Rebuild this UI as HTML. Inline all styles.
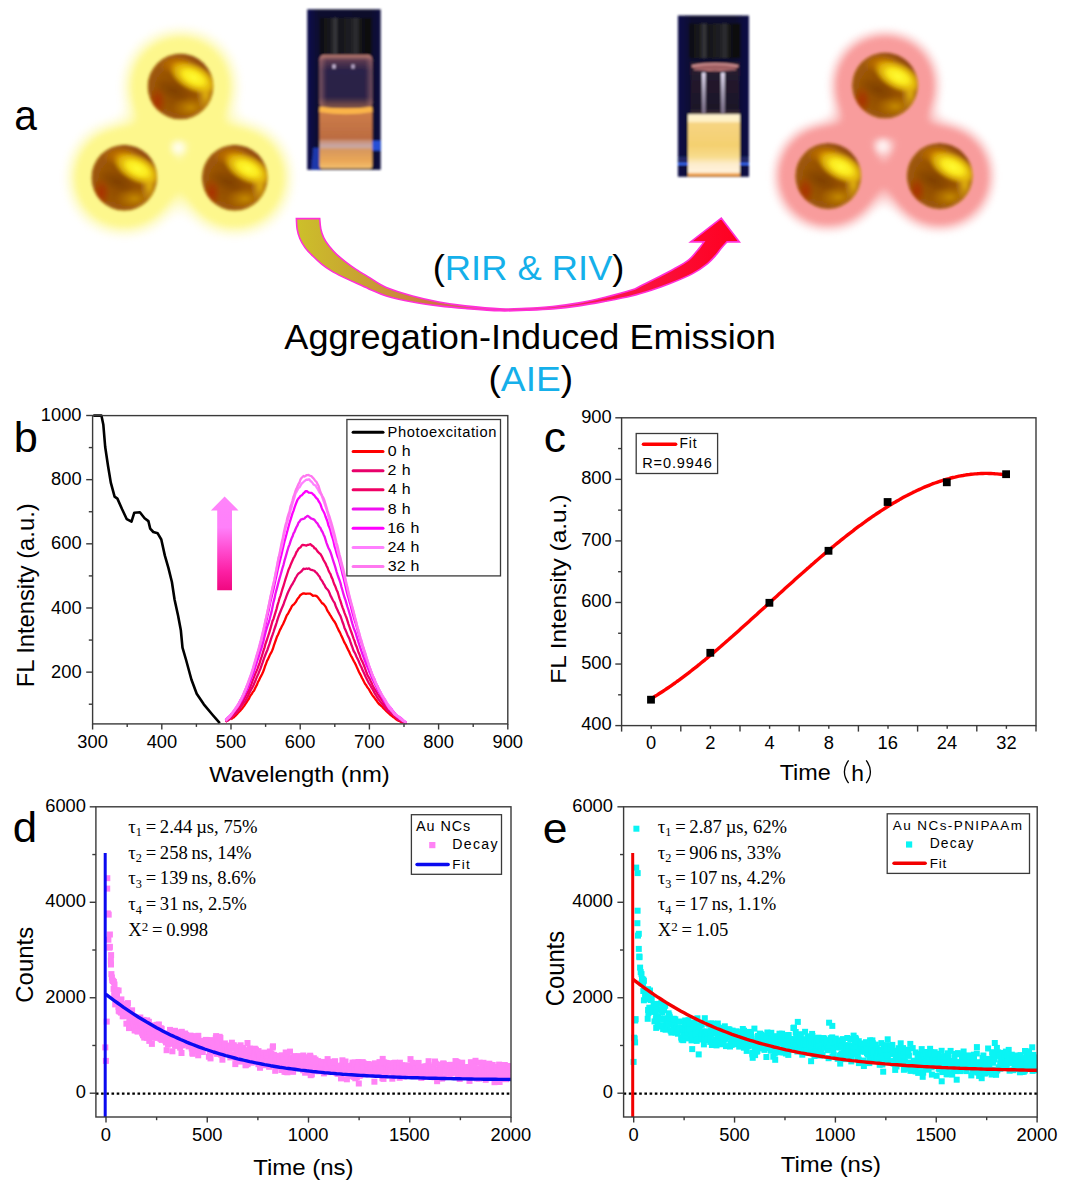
<!DOCTYPE html>
<html><head><meta charset="utf-8"><style>
html,body{margin:0;padding:0;background:#fff;overflow:hidden;}
svg{display:block;}
</style></head><body>
<svg width="1065" height="1185" viewBox="0 0 1065 1185">
<path d="M93.3,415.6 L101.4,415.6 L103.3,424.4 L105.2,447.0 L108.0,465.7 L110.8,482.6 L114.6,496.7 L117.4,498.6 L122.0,509.0 L126.8,519.2 L131.5,521.7 L134.3,512.7 L139.9,512.3 L144.6,518.3 L148.4,521.1 L150.2,528.6 L153.3,532.0 L157.7,533.3 L161.3,539.5 L164.8,555.4 L168.4,567.9 L171.9,582.0 L174.6,599.8 L178.1,615.7 L180.8,629.9 L182.5,647.6 L186.1,660.0 L191.4,679.5 L196.7,693.7 L203.8,704.3 L212.7,715.0 L219.8,723.2" fill="none" stroke="#000" stroke-width="2.6" stroke-linejoin="round"/>
<path d="M231.0,719.4 L232.0,718.5 L233.0,717.7 L234.0,717.2 L235.0,716.1 L236.0,715.1 L237.0,714.2 L238.0,712.9 L239.0,711.9 L240.0,711.0 L241.0,709.7 L242.0,708.7 L243.0,707.4 L244.0,706.1 L245.0,704.6 L246.0,703.2 L247.0,701.6 L248.0,700.0 L249.0,698.6 L250.0,696.3 L251.0,694.9 L252.0,693.5 L253.0,691.7 L254.0,690.7 L255.0,688.6 L256.0,686.5 L257.0,684.6 L258.0,681.8 L259.0,680.3 L260.0,678.0 L261.0,676.1 L262.0,674.3 L263.0,672.0 L264.0,669.5 L265.0,666.3 L266.0,663.9 L267.0,661.0 L268.0,659.1 L269.0,656.9 L270.0,654.6 L271.0,652.9 L272.0,650.9 L273.0,648.5 L274.0,645.2 L275.0,642.3 L276.0,639.5 L277.0,636.6 L278.0,634.8 L279.0,632.4 L280.0,629.9 L281.0,628.1 L282.0,626.0 L283.0,624.2 L284.0,622.0 L285.0,619.8 L286.0,617.3 L287.0,614.9 L288.0,613.7 L289.0,611.8 L290.0,609.9 L291.0,608.1 L292.0,606.1 L293.0,604.9 L294.0,604.3 L295.0,602.9 L296.0,601.8 L297.0,599.7 L298.0,598.3 L299.0,597.2 L300.0,595.5 L301.0,594.7 L302.0,594.1 L303.0,593.5 L304.0,593.3 L305.0,593.6 L306.0,593.9 L307.0,593.7 L308.0,593.7 L309.0,593.7 L310.0,593.6 L311.0,594.2 L312.0,595.0 L313.0,595.8 L314.0,595.6 L315.0,595.6 L316.0,595.9 L317.0,596.4 L318.0,597.5 L319.0,598.9 L320.0,600.2 L321.0,601.7 L322.0,603.1 L323.0,603.6 L324.0,604.6 L325.0,605.9 L326.0,607.4 L327.0,609.9 L328.0,611.6 L329.0,613.0 L330.0,614.9 L331.0,616.2 L332.0,618.2 L333.0,619.7 L334.0,621.0 L335.0,622.5 L336.0,624.4 L337.0,626.8 L338.0,628.7 L339.0,630.9 L340.0,632.6 L341.0,634.9 L342.0,637.0 L343.0,639.3 L344.0,641.6 L345.0,643.5 L346.0,645.2 L347.0,647.4 L348.0,649.6 L349.0,651.3 L350.0,653.8 L351.0,655.8 L352.0,657.4 L353.0,659.5 L354.0,661.5 L355.0,663.2 L356.0,665.3 L357.0,667.6 L358.0,669.7 L359.0,672.0 L360.0,673.9 L361.0,675.8 L362.0,678.0 L363.0,679.7 L364.0,681.8 L365.0,683.7 L366.0,684.9 L367.0,686.8 L368.0,688.1 L369.0,689.4 L370.0,691.3 L371.0,692.9 L372.0,694.6 L373.0,696.0 L374.0,697.3 L375.0,698.6 L376.0,700.1 L377.0,701.3 L378.0,702.8 L379.0,704.0 L380.0,704.8 L381.0,705.8 L382.0,706.4 L383.0,707.7 L384.0,708.8 L385.0,709.8 L386.0,710.8 L387.0,711.7 L388.0,712.7 L389.0,713.5 L390.0,714.6 L391.0,715.3 L392.0,716.0 L393.0,717.0 L394.0,717.5 L395.0,718.4 L396.0,719.2 L397.0,719.9 L398.0,720.5 L399.0,721.0 L400.0,721.3 L401.0,721.9 L402.0,722.4 L403.0,722.7" fill="none" stroke="#ff0000" stroke-width="2.3" stroke-linejoin="round"/>
<path d="M225.5,721.7 L226.5,721.0 L227.5,720.6 L228.5,720.1 L229.5,719.4 L230.5,718.6 L231.5,717.4 L232.5,716.3 L233.5,715.6 L234.5,714.4 L235.5,713.6 L236.5,712.8 L237.5,711.3 L238.5,710.5 L239.5,709.0 L240.5,707.3 L241.5,706.2 L242.5,704.7 L243.5,703.2 L244.5,702.0 L245.5,700.6 L246.5,698.7 L247.5,697.0 L248.5,694.9 L249.5,692.6 L250.5,690.7 L251.5,688.9 L252.5,687.1 L253.5,685.2 L254.5,682.8 L255.5,680.6 L256.5,677.9 L257.5,675.6 L258.5,673.5 L259.5,670.9 L260.5,668.5 L261.5,665.7 L262.5,662.9 L263.5,659.8 L264.5,657.1 L265.5,654.5 L266.5,652.0 L267.5,649.7 L268.5,646.6 L269.5,643.9 L270.5,640.7 L271.5,637.6 L272.5,634.9 L273.5,632.0 L274.5,628.8 L275.5,626.0 L276.5,623.0 L277.5,619.6 L278.5,616.7 L279.5,614.0 L280.5,611.5 L281.5,609.0 L282.5,606.7 L283.5,604.5 L284.5,601.4 L285.5,598.9 L286.5,596.2 L287.5,593.5 L288.5,591.2 L289.5,589.2 L290.5,587.3 L291.5,585.4 L292.5,584.0 L293.5,582.0 L294.5,580.3 L295.5,578.1 L296.5,576.5 L297.5,574.7 L298.5,573.6 L299.5,573.0 L300.5,572.0 L301.5,571.3 L302.5,570.0 L303.5,568.7 L304.5,569.0 L305.5,568.8 L306.5,568.5 L307.5,568.8 L308.5,568.5 L309.5,568.7 L310.5,569.7 L311.5,569.9 L312.5,570.2 L313.5,570.5 L314.5,570.8 L315.5,572.1 L316.5,572.8 L317.5,574.0 L318.5,575.4 L319.5,576.5 L320.5,578.8 L321.5,580.2 L322.5,581.6 L323.5,583.7 L324.5,585.1 L325.5,587.2 L326.5,588.5 L327.5,589.6 L328.5,590.7 L329.5,592.9 L330.5,595.7 L331.5,597.4 L332.5,599.5 L333.5,601.3 L334.5,602.7 L335.5,605.5 L336.5,608.1 L337.5,610.1 L338.5,612.3 L339.5,614.3 L340.5,616.1 L341.5,619.0 L342.5,622.0 L343.5,624.5 L344.5,627.9 L345.5,630.1 L346.5,632.4 L347.5,634.9 L348.5,636.9 L349.5,639.1 L350.5,642.2 L351.5,645.0 L352.5,647.6 L353.5,650.6 L354.5,652.3 L355.5,654.3 L356.5,656.7 L357.5,658.8 L358.5,660.8 L359.5,663.2 L360.5,665.5 L361.5,667.4 L362.5,670.1 L363.5,672.1 L364.5,674.2 L365.5,676.5 L366.5,678.6 L367.5,680.6 L368.5,682.6 L369.5,684.0 L370.5,685.8 L371.5,687.6 L372.5,689.1 L373.5,691.0 L374.5,692.9 L375.5,694.7 L376.5,696.2 L377.5,698.0 L378.5,699.3 L379.5,700.7 L380.5,702.1 L381.5,703.2 L382.5,704.3 L383.5,705.5 L384.5,706.9 L385.5,708.1 L386.5,709.6 L387.5,710.6 L388.5,711.4 L389.5,712.2 L390.5,712.7 L391.5,713.7 L392.5,714.3 L393.5,715.0 L394.5,716.0 L395.5,717.0 L396.5,718.1 L397.5,719.0 L398.5,719.9 L399.5,720.2 L400.5,720.9 L401.5,721.5 L402.5,721.8 L403.5,722.2 L404.5,722.7 L405.5,723.0 L406.5,723.0" fill="none" stroke="#e8006a" stroke-width="2.3" stroke-linejoin="round"/>
<path d="M225.5,721.5 L226.5,720.8 L227.5,719.6 L228.5,718.8 L229.5,717.9 L230.5,717.2 L231.5,716.4 L232.5,715.4 L233.5,714.1 L234.5,712.6 L235.5,711.6 L236.5,710.4 L237.5,709.3 L238.5,708.6 L239.5,707.4 L240.5,705.9 L241.5,704.2 L242.5,702.0 L243.5,700.1 L244.5,698.3 L245.5,696.3 L246.5,694.6 L247.5,692.6 L248.5,690.9 L249.5,688.7 L250.5,686.3 L251.5,683.9 L252.5,680.8 L253.5,678.4 L254.5,675.8 L255.5,673.2 L256.5,671.2 L257.5,668.6 L258.5,665.8 L259.5,663.5 L260.5,659.9 L261.5,657.2 L262.5,654.0 L263.5,650.6 L264.5,647.6 L265.5,643.8 L266.5,641.0 L267.5,638.0 L268.5,635.0 L269.5,631.8 L270.5,628.4 L271.5,624.7 L272.5,621.1 L273.5,618.9 L274.5,615.6 L275.5,612.4 L276.5,609.1 L277.5,605.1 L278.5,602.0 L279.5,598.3 L280.5,595.6 L281.5,592.2 L282.5,588.9 L283.5,585.8 L284.5,582.5 L285.5,579.2 L286.5,576.1 L287.5,573.0 L288.5,569.8 L289.5,567.8 L290.5,565.1 L291.5,562.7 L292.5,560.5 L293.5,558.2 L294.5,556.6 L295.5,554.5 L296.5,552.0 L297.5,550.6 L298.5,548.8 L299.5,547.9 L300.5,547.3 L301.5,545.8 L302.5,544.8 L303.5,545.0 L304.5,545.1 L305.5,545.3 L306.5,545.6 L307.5,544.8 L308.5,544.9 L309.5,544.5 L310.5,544.1 L311.5,545.4 L312.5,545.9 L313.5,546.7 L314.5,548.3 L315.5,548.3 L316.5,549.8 L317.5,551.4 L318.5,552.4 L319.5,553.3 L320.5,554.2 L321.5,555.8 L322.5,557.7 L323.5,560.0 L324.5,561.7 L325.5,563.3 L326.5,565.7 L327.5,567.6 L328.5,570.5 L329.5,572.5 L330.5,574.2 L331.5,577.1 L332.5,579.0 L333.5,582.2 L334.5,584.8 L335.5,586.8 L336.5,589.7 L337.5,591.7 L338.5,595.0 L339.5,598.3 L340.5,601.2 L341.5,604.4 L342.5,607.3 L343.5,609.9 L344.5,612.8 L345.5,615.4 L346.5,617.8 L347.5,620.9 L348.5,624.1 L349.5,627.0 L350.5,629.8 L351.5,632.5 L352.5,635.3 L353.5,638.3 L354.5,640.9 L355.5,644.2 L356.5,646.4 L357.5,649.3 L358.5,652.5 L359.5,654.5 L360.5,657.6 L361.5,660.0 L362.5,661.9 L363.5,664.4 L364.5,666.8 L365.5,669.6 L366.5,672.5 L367.5,675.2 L368.5,676.8 L369.5,678.6 L370.5,680.7 L371.5,682.6 L372.5,685.2 L373.5,687.1 L374.5,689.0 L375.5,690.3 L376.5,692.0 L377.5,693.8 L378.5,695.2 L379.5,696.8 L380.5,698.0 L381.5,699.5 L382.5,701.0 L383.5,702.6 L384.5,704.1 L385.5,705.3 L386.5,706.7 L387.5,708.2 L388.5,709.4 L389.5,710.7 L390.5,711.4 L391.5,712.3 L392.5,713.4 L393.5,714.2 L394.5,715.4 L395.5,716.2 L396.5,716.8 L397.5,717.7 L398.5,718.6 L399.5,719.3 L400.5,720.1 L401.5,720.5 L402.5,720.9 L403.5,721.5 L404.5,722.0 L405.5,722.6 L406.5,723.0" fill="none" stroke="#f00064" stroke-width="2.3" stroke-linejoin="round"/>
<path d="M225.5,720.6 L226.5,719.8 L227.5,718.8 L228.5,717.8 L229.5,717.1 L230.5,715.9 L231.5,714.7 L232.5,713.5 L233.5,712.0 L234.5,711.0 L235.5,709.6 L236.5,708.4 L237.5,706.9 L238.5,705.5 L239.5,703.8 L240.5,702.2 L241.5,700.7 L242.5,698.7 L243.5,696.8 L244.5,694.6 L245.5,692.6 L246.5,690.6 L247.5,688.6 L248.5,686.0 L249.5,683.2 L250.5,680.4 L251.5,677.6 L252.5,675.4 L253.5,672.5 L254.5,669.6 L255.5,666.5 L256.5,663.4 L257.5,660.2 L258.5,657.5 L259.5,654.2 L260.5,651.0 L261.5,648.2 L262.5,644.4 L263.5,641.0 L264.5,636.6 L265.5,632.8 L266.5,629.2 L267.5,625.8 L268.5,623.2 L269.5,619.8 L270.5,615.8 L271.5,611.9 L272.5,607.1 L273.5,602.1 L274.5,598.4 L275.5,593.5 L276.5,589.9 L277.5,586.1 L278.5,582.2 L279.5,578.6 L280.5,575.2 L281.5,571.6 L282.5,568.0 L283.5,564.8 L284.5,560.7 L285.5,557.4 L286.5,553.9 L287.5,550.3 L288.5,547.0 L289.5,544.6 L290.5,541.4 L291.5,538.6 L292.5,536.6 L293.5,533.4 L294.5,531.8 L295.5,529.3 L296.5,527.0 L297.5,525.3 L298.5,522.6 L299.5,521.7 L300.5,520.0 L301.5,519.3 L302.5,519.0 L303.5,518.8 L304.5,518.5 L305.5,517.3 L306.5,516.7 L307.5,515.8 L308.5,516.2 L309.5,517.3 L310.5,518.0 L311.5,518.7 L312.5,518.9 L313.5,519.4 L314.5,519.9 L315.5,521.3 L316.5,522.7 L317.5,523.5 L318.5,525.5 L319.5,527.0 L320.5,528.1 L321.5,530.5 L322.5,532.0 L323.5,534.4 L324.5,536.4 L325.5,539.7 L326.5,542.8 L327.5,545.5 L328.5,548.2 L329.5,549.8 L330.5,552.2 L331.5,555.2 L332.5,558.5 L333.5,561.6 L334.5,564.7 L335.5,567.9 L336.5,571.5 L337.5,574.7 L338.5,577.5 L339.5,580.2 L340.5,583.1 L341.5,587.1 L342.5,590.5 L343.5,594.2 L344.5,597.5 L345.5,600.1 L346.5,603.6 L347.5,607.0 L348.5,610.0 L349.5,613.4 L350.5,616.7 L351.5,620.6 L352.5,624.1 L353.5,627.3 L354.5,630.0 L355.5,632.5 L356.5,635.8 L357.5,639.2 L358.5,642.3 L359.5,645.4 L360.5,648.3 L361.5,651.3 L362.5,654.3 L363.5,657.2 L364.5,659.8 L365.5,662.4 L366.5,665.2 L367.5,667.2 L368.5,669.6 L369.5,672.3 L370.5,674.4 L371.5,676.8 L372.5,679.3 L373.5,680.9 L374.5,683.2 L375.5,685.2 L376.5,687.2 L377.5,689.6 L378.5,691.3 L379.5,693.0 L380.5,694.5 L381.5,695.9 L382.5,697.9 L383.5,700.1 L384.5,701.8 L385.5,703.1 L386.5,704.7 L387.5,706.0 L388.5,707.5 L389.5,709.0 L390.5,709.7 L391.5,711.0 L392.5,711.9 L393.5,712.7 L394.5,713.9 L395.5,714.8 L396.5,715.8 L397.5,717.1 L398.5,717.8 L399.5,718.5 L400.5,719.0 L401.5,719.4 L402.5,720.2 L403.5,720.8 L404.5,721.4 L405.5,722.1 L406.5,722.5" fill="none" stroke="#f010f0" stroke-width="2.3" stroke-linejoin="round"/>
<path d="M225.5,719.9 L226.5,718.8 L227.5,718.0 L228.5,716.9 L229.5,716.1 L230.5,715.0 L231.5,713.8 L232.5,713.0 L233.5,711.6 L234.5,710.2 L235.5,708.7 L236.5,707.2 L237.5,705.6 L238.5,703.9 L239.5,702.0 L240.5,700.0 L241.5,698.3 L242.5,696.4 L243.5,694.2 L244.5,691.8 L245.5,689.5 L246.5,687.1 L247.5,685.0 L248.5,682.7 L249.5,680.1 L250.5,677.1 L251.5,674.0 L252.5,671.4 L253.5,668.0 L254.5,664.8 L255.5,661.5 L256.5,657.7 L257.5,654.2 L258.5,650.6 L259.5,647.2 L260.5,643.2 L261.5,639.7 L262.5,636.0 L263.5,632.2 L264.5,628.5 L265.5,624.6 L266.5,620.4 L267.5,615.5 L268.5,611.2 L269.5,606.2 L270.5,601.6 L271.5,597.4 L272.5,593.1 L273.5,589.2 L274.5,584.6 L275.5,580.0 L276.5,575.6 L277.5,570.7 L278.5,566.5 L279.5,562.4 L280.5,558.5 L281.5,554.4 L282.5,550.1 L283.5,545.8 L284.5,541.4 L285.5,537.9 L286.5,534.3 L287.5,530.5 L288.5,526.8 L289.5,523.0 L290.5,519.8 L291.5,516.6 L292.5,513.4 L293.5,510.8 L294.5,507.6 L295.5,504.8 L296.5,502.3 L297.5,499.8 L298.5,498.3 L299.5,497.4 L300.5,495.9 L301.5,495.5 L302.5,494.4 L303.5,493.2 L304.5,492.5 L305.5,491.1 L306.5,491.1 L307.5,491.6 L308.5,492.5 L309.5,492.7 L310.5,492.8 L311.5,492.9 L312.5,493.7 L313.5,494.8 L314.5,495.5 L315.5,497.1 L316.5,498.3 L317.5,499.0 L318.5,501.0 L319.5,502.5 L320.5,504.3 L321.5,507.4 L322.5,509.9 L323.5,511.5 L324.5,513.5 L325.5,516.5 L326.5,519.0 L327.5,521.6 L328.5,525.6 L329.5,527.8 L330.5,530.7 L331.5,534.9 L332.5,537.8 L333.5,541.3 L334.5,546.1 L335.5,549.2 L336.5,553.0 L337.5,556.2 L338.5,558.4 L339.5,561.9 L340.5,565.7 L341.5,569.7 L342.5,574.1 L343.5,577.8 L344.5,581.9 L345.5,586.3 L346.5,590.8 L347.5,594.8 L348.5,598.0 L349.5,601.6 L350.5,604.9 L351.5,609.0 L352.5,613.0 L353.5,616.5 L354.5,620.0 L355.5,623.0 L356.5,626.2 L357.5,629.8 L358.5,633.2 L359.5,636.7 L360.5,640.0 L361.5,642.9 L362.5,645.8 L363.5,648.8 L364.5,652.4 L365.5,655.7 L366.5,659.2 L367.5,662.3 L368.5,664.9 L369.5,667.6 L370.5,670.1 L371.5,672.6 L372.5,675.1 L373.5,677.5 L374.5,679.4 L375.5,682.1 L376.5,684.5 L377.5,686.1 L378.5,688.5 L379.5,690.4 L380.5,692.2 L381.5,694.6 L382.5,696.2 L383.5,697.7 L384.5,699.1 L385.5,700.8 L386.5,702.7 L387.5,704.3 L388.5,705.5 L389.5,706.7 L390.5,707.8 L391.5,708.9 L392.5,710.4 L393.5,711.7 L394.5,712.9 L395.5,714.1 L396.5,715.0 L397.5,716.0 L398.5,716.6 L399.5,717.2 L400.5,717.8 L401.5,718.6 L402.5,719.5 L403.5,720.5 L404.5,721.4 L405.5,722.0 L406.5,722.4" fill="none" stroke="#ff00ff" stroke-width="2.3" stroke-linejoin="round"/>
<path d="M225.5,719.8 L226.5,719.1 L227.5,718.2 L228.5,717.5 L229.5,716.6 L230.5,715.3 L231.5,713.9 L232.5,712.4 L233.5,711.0 L234.5,709.6 L235.5,708.2 L236.5,706.7 L237.5,705.3 L238.5,704.0 L239.5,702.4 L240.5,700.3 L241.5,698.4 L242.5,696.1 L243.5,693.8 L244.5,691.8 L245.5,689.4 L246.5,686.5 L247.5,684.0 L248.5,681.2 L249.5,678.4 L250.5,675.7 L251.5,672.8 L252.5,669.7 L253.5,666.0 L254.5,662.6 L255.5,659.2 L256.5,655.6 L257.5,652.6 L258.5,649.0 L259.5,645.0 L260.5,641.4 L261.5,637.3 L262.5,633.4 L263.5,629.8 L264.5,625.3 L265.5,620.6 L266.5,616.5 L267.5,611.7 L268.5,606.9 L269.5,602.1 L270.5,596.8 L271.5,592.2 L272.5,588.0 L273.5,583.8 L274.5,579.3 L275.5,573.6 L276.5,568.3 L277.5,562.9 L278.5,557.9 L279.5,554.8 L280.5,550.8 L281.5,547.1 L282.5,542.7 L283.5,537.0 L284.5,532.9 L285.5,528.5 L286.5,524.7 L287.5,521.6 L288.5,517.8 L289.5,514.4 L290.5,510.7 L291.5,507.5 L292.5,503.5 L293.5,500.1 L294.5,497.3 L295.5,493.5 L296.5,491.8 L297.5,489.9 L298.5,488.0 L299.5,487.3 L300.5,485.6 L301.5,483.9 L302.5,482.9 L303.5,482.0 L304.5,481.1 L305.5,480.3 L306.5,479.6 L307.5,479.9 L308.5,479.3 L309.5,479.5 L310.5,481.1 L311.5,481.6 L312.5,482.9 L313.5,484.5 L314.5,485.1 L315.5,485.4 L316.5,487.3 L317.5,488.7 L318.5,490.4 L319.5,492.4 L320.5,493.6 L321.5,495.2 L322.5,497.8 L323.5,500.8 L324.5,503.3 L325.5,506.5 L326.5,509.4 L327.5,512.8 L328.5,516.6 L329.5,520.4 L330.5,524.1 L331.5,527.7 L332.5,531.7 L333.5,534.9 L334.5,539.0 L335.5,542.5 L336.5,546.1 L337.5,550.4 L338.5,554.2 L339.5,558.1 L340.5,562.5 L341.5,565.8 L342.5,569.6 L343.5,573.1 L344.5,576.2 L345.5,580.9 L346.5,584.5 L347.5,589.0 L348.5,593.6 L349.5,597.3 L350.5,601.3 L351.5,604.9 L352.5,608.0 L353.5,612.1 L354.5,616.0 L355.5,619.8 L356.5,623.5 L357.5,627.5 L358.5,630.6 L359.5,634.4 L360.5,637.8 L361.5,640.6 L362.5,644.6 L363.5,647.8 L364.5,651.1 L365.5,654.1 L366.5,657.6 L367.5,660.4 L368.5,664.0 L369.5,667.1 L370.5,669.5 L371.5,672.8 L372.5,675.3 L373.5,677.8 L374.5,680.1 L375.5,682.1 L376.5,684.2 L377.5,686.5 L378.5,688.5 L379.5,690.4 L380.5,692.2 L381.5,693.8 L382.5,695.5 L383.5,697.3 L384.5,698.9 L385.5,700.3 L386.5,702.1 L387.5,703.8 L388.5,705.2 L389.5,706.6 L390.5,707.7 L391.5,709.3 L392.5,710.7 L393.5,712.5 L394.5,713.7 L395.5,714.4 L396.5,715.4 L397.5,715.9 L398.5,716.7 L399.5,717.6 L400.5,718.3 L401.5,719.0 L402.5,719.8 L403.5,720.4 L404.5,721.2 L405.5,722.0 L406.5,722.5" fill="none" stroke="#ff80ff" stroke-width="2.3" stroke-linejoin="round"/>
<path d="M225.5,720.7 L226.5,720.0 L227.5,719.0 L228.5,718.1 L229.5,717.1 L230.5,715.9 L231.5,714.8 L232.5,713.4 L233.5,711.8 L234.5,710.5 L235.5,709.1 L236.5,707.8 L237.5,706.5 L238.5,704.6 L239.5,702.6 L240.5,700.6 L241.5,698.8 L242.5,696.7 L243.5,694.8 L244.5,692.2 L245.5,690.0 L246.5,687.5 L247.5,684.7 L248.5,682.0 L249.5,679.2 L250.5,676.6 L251.5,673.8 L252.5,670.7 L253.5,667.3 L254.5,663.9 L255.5,660.5 L256.5,656.6 L257.5,653.4 L258.5,649.9 L259.5,646.5 L260.5,643.1 L261.5,639.0 L262.5,634.3 L263.5,629.6 L264.5,625.1 L265.5,620.3 L266.5,616.0 L267.5,611.4 L268.5,606.5 L269.5,601.9 L270.5,597.0 L271.5,592.8 L272.5,587.6 L273.5,583.6 L274.5,579.3 L275.5,574.3 L276.5,569.7 L277.5,564.3 L278.5,558.6 L279.5,554.0 L280.5,548.8 L281.5,543.3 L282.5,539.4 L283.5,534.1 L284.5,529.6 L285.5,525.1 L286.5,521.7 L287.5,517.3 L288.5,514.2 L289.5,511.4 L290.5,506.4 L291.5,503.9 L292.5,500.6 L293.5,496.6 L294.5,494.3 L295.5,490.7 L296.5,488.6 L297.5,486.2 L298.5,484.0 L299.5,482.5 L300.5,479.4 L301.5,478.0 L302.5,477.0 L303.5,476.0 L304.5,476.5 L305.5,476.0 L306.5,475.2 L307.5,475.1 L308.5,474.9 L309.5,475.5 L310.5,475.9 L311.5,476.2 L312.5,477.4 L313.5,478.3 L314.5,479.7 L315.5,481.0 L316.5,481.9 L317.5,483.9 L318.5,485.8 L319.5,489.1 L320.5,492.3 L321.5,494.3 L322.5,496.6 L323.5,498.2 L324.5,500.7 L325.5,504.2 L326.5,507.3 L327.5,510.9 L328.5,513.9 L329.5,516.6 L330.5,520.0 L331.5,523.2 L332.5,526.7 L333.5,530.6 L334.5,534.3 L335.5,538.6 L336.5,542.8 L337.5,545.9 L338.5,550.2 L339.5,554.5 L340.5,558.0 L341.5,562.4 L342.5,566.3 L343.5,569.9 L344.5,574.5 L345.5,579.1 L346.5,583.8 L347.5,587.5 L348.5,591.9 L349.5,596.0 L350.5,600.0 L351.5,603.9 L352.5,607.5 L353.5,611.4 L354.5,615.2 L355.5,619.4 L356.5,623.2 L357.5,627.4 L358.5,630.8 L359.5,634.6 L360.5,638.6 L361.5,641.7 L362.5,645.1 L363.5,648.0 L364.5,651.0 L365.5,654.0 L366.5,657.5 L367.5,660.9 L368.5,663.6 L369.5,667.0 L370.5,669.7 L371.5,672.4 L372.5,675.6 L373.5,677.9 L374.5,680.1 L375.5,683.0 L376.5,685.0 L377.5,687.1 L378.5,689.2 L379.5,691.2 L380.5,692.9 L381.5,694.8 L382.5,696.6 L383.5,698.0 L384.5,699.8 L385.5,701.4 L386.5,703.5 L387.5,705.4 L388.5,707.0 L389.5,708.5 L390.5,709.4 L391.5,710.7 L392.5,711.7 L393.5,713.0 L394.5,714.4 L395.5,715.0 L396.5,715.9 L397.5,716.4 L398.5,717.0 L399.5,718.1 L400.5,719.1 L401.5,719.8 L402.5,720.7 L403.5,721.3 L404.5,721.7 L405.5,722.5 L406.5,723.0" fill="none" stroke="#ff78f0" stroke-width="2.3" stroke-linejoin="round"/>
<defs><linearGradient id="parr" x1="0" y1="0" x2="0" y2="1"><stop offset="0" stop-color="#ff84fa"/><stop offset="0.33" stop-color="#ff80fa"/><stop offset="0.55" stop-color="#ff50d4"/><stop offset="0.8" stop-color="#fc20a4"/><stop offset="1" stop-color="#f00880"/></linearGradient></defs>
<path d="M224.6,496.5 L238.5,510.4 L232,510.4 L232,590.2 L217.2,590.2 L217.2,510.4 L210.9,510.4 Z" fill="url(#parr)"/>
<rect x="92.6" y="415.6" width="415.2" height="308.3" fill="none" stroke="#3a3a3a" stroke-width="1.4"/>
<line x1="88.8" y1="704.22" x2="92.6" y2="704.22" stroke="#3a3a3a" stroke-width="1.4" />
<line x1="86.2" y1="672.14" x2="92.6" y2="672.14" stroke="#3a3a3a" stroke-width="1.4" />
<line x1="88.8" y1="640.06" x2="92.6" y2="640.06" stroke="#3a3a3a" stroke-width="1.4" />
<line x1="86.2" y1="607.98" x2="92.6" y2="607.98" stroke="#3a3a3a" stroke-width="1.4" />
<line x1="88.8" y1="575.9" x2="92.6" y2="575.9" stroke="#3a3a3a" stroke-width="1.4" />
<line x1="86.2" y1="543.82" x2="92.6" y2="543.82" stroke="#3a3a3a" stroke-width="1.4" />
<line x1="88.8" y1="511.74" x2="92.6" y2="511.74" stroke="#3a3a3a" stroke-width="1.4" />
<line x1="86.2" y1="479.66" x2="92.6" y2="479.66" stroke="#3a3a3a" stroke-width="1.4" />
<line x1="88.8" y1="447.58" x2="92.6" y2="447.58" stroke="#3a3a3a" stroke-width="1.4" />
<line x1="86.2" y1="415.5" x2="92.6" y2="415.5" stroke="#3a3a3a" stroke-width="1.4" />
<line x1="92.6" y1="723.9" x2="92.6" y2="729.5" stroke="#3a3a3a" stroke-width="1.4" />
<line x1="127.2" y1="723.9" x2="127.2" y2="726.9" stroke="#3a3a3a" stroke-width="1.4" />
<line x1="161.8" y1="723.9" x2="161.8" y2="729.5" stroke="#3a3a3a" stroke-width="1.4" />
<line x1="196.4" y1="723.9" x2="196.4" y2="726.9" stroke="#3a3a3a" stroke-width="1.4" />
<line x1="231" y1="723.9" x2="231" y2="729.5" stroke="#3a3a3a" stroke-width="1.4" />
<line x1="265.6" y1="723.9" x2="265.6" y2="726.9" stroke="#3a3a3a" stroke-width="1.4" />
<line x1="300.2" y1="723.9" x2="300.2" y2="729.5" stroke="#3a3a3a" stroke-width="1.4" />
<line x1="334.8" y1="723.9" x2="334.8" y2="726.9" stroke="#3a3a3a" stroke-width="1.4" />
<line x1="369.4" y1="723.9" x2="369.4" y2="729.5" stroke="#3a3a3a" stroke-width="1.4" />
<line x1="404" y1="723.9" x2="404" y2="726.9" stroke="#3a3a3a" stroke-width="1.4" />
<line x1="438.6" y1="723.9" x2="438.6" y2="729.5" stroke="#3a3a3a" stroke-width="1.4" />
<line x1="473.2" y1="723.9" x2="473.2" y2="726.9" stroke="#3a3a3a" stroke-width="1.4" />
<line x1="507.8" y1="723.9" x2="507.8" y2="729.5" stroke="#3a3a3a" stroke-width="1.4" />
<text transform="translate(51.05,677.69) scale(1.0400,1)" font-family='"Liberation Sans", sans-serif' font-size="17.606" fill="#000" >200</text>
<text transform="translate(51.05,613.53) scale(1.0400,1)" font-family='"Liberation Sans", sans-serif' font-size="17.606" fill="#000" >400</text>
<text transform="translate(51.05,549.37) scale(1.0400,1)" font-family='"Liberation Sans", sans-serif' font-size="17.606" fill="#000" >600</text>
<text transform="translate(51.05,485.21) scale(1.0400,1)" font-family='"Liberation Sans", sans-serif' font-size="17.606" fill="#000" >800</text>
<text transform="translate(40.8,421.05) scale(1.0400,1)" font-family='"Liberation Sans", sans-serif' font-size="17.606" fill="#000" >1000</text>
<text transform="translate(77.31,747.5) scale(1.0400,1)" font-family='"Liberation Sans", sans-serif' font-size="17.606" fill="#000" >300</text>
<text transform="translate(146.69,747.5) scale(1.0400,1)" font-family='"Liberation Sans", sans-serif' font-size="17.606" fill="#000" >400</text>
<text transform="translate(215.71,747.5) scale(1.0400,1)" font-family='"Liberation Sans", sans-serif' font-size="17.606" fill="#000" >500</text>
<text transform="translate(284.82,747.5) scale(1.0400,1)" font-family='"Liberation Sans", sans-serif' font-size="17.606" fill="#000" >600</text>
<text transform="translate(354.02,747.5) scale(1.0400,1)" font-family='"Liberation Sans", sans-serif' font-size="17.606" fill="#000" >700</text>
<text transform="translate(423.27,747.5) scale(1.0400,1)" font-family='"Liberation Sans", sans-serif' font-size="17.606" fill="#000" >800</text>
<text transform="translate(492.47,747.5) scale(1.0400,1)" font-family='"Liberation Sans", sans-serif' font-size="17.606" fill="#000" >900</text>
<text transform="translate(209.28,781.92) scale(1.0918,1)" font-family='"Liberation Sans", sans-serif' font-size="21.818" fill="#000" >Wavelength (nm)</text>
<text transform="translate(33.78,687.3) scale(0.9851,1) rotate(-90)" font-family='"Liberation Sans", sans-serif' font-size="23.776" fill="#000">FL Intensity (a.u.)</text>
<text transform="translate(13.68,452.28) scale(1.0208,1)" font-family='"Liberation Sans", sans-serif' font-size="42.449" fill="#000" >b</text>
<rect x="346.9" y="419.5" width="153.6" height="156.4" fill="#fff" stroke="#3a3a3a" stroke-width="1.3" />
<line x1="353.1" y1="432.3" x2="383.0" y2="432.3" stroke="#000000" stroke-width="3" stroke-linecap="round"/>
<text transform="translate(387.62,436.55) scale(1.0000,1)" font-family='"Liberation Sans", sans-serif' font-size="14.694" fill="#000"  letter-spacing="0.593">Photoexcitation</text>
<line x1="353.1" y1="451.5" x2="383.0" y2="451.5" stroke="#ff0000" stroke-width="3" stroke-linecap="round"/>
<text transform="translate(387.76,455.9) scale(1.0800,1)" font-family='"Liberation Sans", sans-serif' font-size="14.800" fill="#000" >0</text>
<text transform="translate(401.78,455.9) scale(1.0800,1)" font-family='"Liberation Sans", sans-serif' font-size="14.800" fill="#000" >h</text>
<line x1="353.1" y1="470.7" x2="383.0" y2="470.7" stroke="#e8006a" stroke-width="3" stroke-linecap="round"/>
<text transform="translate(387.6,475.1) scale(1.0800,1)" font-family='"Liberation Sans", sans-serif' font-size="14.800" fill="#000" >2</text>
<text transform="translate(401.78,475.1) scale(1.0800,1)" font-family='"Liberation Sans", sans-serif' font-size="14.800" fill="#000" >h</text>
<line x1="353.1" y1="489.8" x2="383.0" y2="489.8" stroke="#f00064" stroke-width="3" stroke-linecap="round"/>
<text transform="translate(388.08,494.3) scale(1.0800,1)" font-family='"Liberation Sans", sans-serif' font-size="14.800" fill="#000" >4</text>
<text transform="translate(401.78,494.3) scale(1.0800,1)" font-family='"Liberation Sans", sans-serif' font-size="14.800" fill="#000" >h</text>
<line x1="353.1" y1="509.0" x2="383.0" y2="509.0" stroke="#f010f0" stroke-width="3" stroke-linecap="round"/>
<text transform="translate(387.68,513.5) scale(1.0800,1)" font-family='"Liberation Sans", sans-serif' font-size="14.800" fill="#000" >8</text>
<text transform="translate(401.78,513.5) scale(1.0800,1)" font-family='"Liberation Sans", sans-serif' font-size="14.800" fill="#000" >h</text>
<line x1="353.1" y1="528.2" x2="383.0" y2="528.2" stroke="#ff00ff" stroke-width="3" stroke-linecap="round"/>
<text transform="translate(387.2,532.7) scale(1.0800,1)" font-family='"Liberation Sans", sans-serif' font-size="14.800" fill="#000" >16</text>
<text transform="translate(410.58,532.7) scale(1.0800,1)" font-family='"Liberation Sans", sans-serif' font-size="14.800" fill="#000" >h</text>
<line x1="353.1" y1="547.4" x2="383.0" y2="547.4" stroke="#ff80ff" stroke-width="3" stroke-linecap="round"/>
<text transform="translate(387.6,551.9) scale(1.0800,1)" font-family='"Liberation Sans", sans-serif' font-size="14.800" fill="#000" >24</text>
<text transform="translate(410.58,551.9) scale(1.0800,1)" font-family='"Liberation Sans", sans-serif' font-size="14.800" fill="#000" >h</text>
<line x1="353.1" y1="566.6" x2="383.0" y2="566.6" stroke="#ff78f0" stroke-width="3" stroke-linecap="round"/>
<text transform="translate(387.76,571.1) scale(1.0800,1)" font-family='"Liberation Sans", sans-serif' font-size="14.800" fill="#000" >32</text>
<text transform="translate(410.58,571.1) scale(1.0800,1)" font-family='"Liberation Sans", sans-serif' font-size="14.800" fill="#000" >h</text>
<path d="M651.0,698.8 L653.0,697.6 L655.0,696.3 L657.0,695.1 L659.0,693.8 L661.0,692.5 L663.0,691.2 L665.0,689.9 L667.0,688.5 L669.0,687.2 L671.0,685.8 L673.0,684.4 L675.0,683.0 L677.0,681.5 L679.0,680.1 L681.0,678.6 L683.0,677.1 L685.0,675.6 L687.0,674.1 L689.0,672.6 L691.0,671.0 L693.0,669.4 L695.0,667.9 L697.0,666.3 L699.0,664.7 L701.0,663.0 L703.0,661.4 L705.0,659.8 L707.0,658.1 L709.0,656.5 L711.0,654.8 L713.0,653.1 L715.0,651.4 L717.0,649.7 L719.0,648.0 L721.0,646.3 L723.0,644.5 L725.0,642.8 L727.0,641.0 L729.0,639.3 L731.0,637.5 L733.0,635.8 L735.0,634.0 L737.0,632.2 L739.0,630.4 L741.0,628.6 L743.0,626.8 L745.0,625.0 L747.0,623.2 L749.0,621.4 L751.0,619.6 L753.0,617.8 L755.0,616.0 L757.0,614.2 L759.0,612.3 L761.0,610.5 L763.0,608.7 L765.0,606.9 L767.0,605.0 L769.0,603.2 L771.0,601.4 L773.0,599.6 L775.0,597.7 L777.0,595.9 L779.0,594.1 L781.0,592.3 L783.0,590.4 L785.0,588.6 L787.0,586.8 L789.0,585.0 L791.0,583.2 L793.0,581.4 L795.0,579.6 L797.0,577.8 L799.0,576.0 L801.0,574.2 L803.0,572.5 L805.0,570.7 L807.0,568.9 L809.0,567.2 L811.0,565.4 L813.0,563.7 L815.0,561.9 L817.0,560.2 L819.0,558.5 L821.0,556.8 L823.0,555.1 L825.0,553.4 L827.0,551.7 L829.0,550.0 L831.0,548.3 L833.0,546.7 L835.0,545.0 L837.0,543.4 L839.0,541.8 L841.0,540.2 L843.0,538.6 L845.0,537.0 L847.0,535.4 L849.0,533.8 L851.0,532.3 L853.0,530.8 L855.0,529.2 L857.0,527.7 L859.0,526.2 L861.0,524.8 L863.0,523.3 L865.0,521.9 L867.0,520.4 L869.0,519.0 L871.0,517.6 L873.0,516.2 L875.0,514.9 L877.0,513.5 L879.0,512.2 L881.0,510.9 L883.0,509.6 L885.0,508.3 L887.0,507.0 L889.0,505.8 L891.0,504.6 L893.0,503.3 L895.0,502.2 L897.0,501.0 L899.0,499.9 L901.0,498.7 L903.0,497.6 L905.0,496.5 L907.0,495.5 L909.0,494.4 L911.0,493.4 L913.0,492.4 L915.0,491.5 L917.0,490.5 L919.0,489.6 L921.0,488.7 L923.0,487.8 L925.0,486.9 L927.0,486.1 L929.0,485.3 L931.0,484.5 L933.0,483.7 L935.0,483.0 L937.0,482.3 L939.0,481.6 L941.0,481.0 L943.0,480.3 L945.0,479.7 L947.0,479.1 L949.0,478.6 L951.0,478.0 L953.0,477.5 L955.0,477.1 L957.0,476.6 L959.0,476.2 L961.0,475.8 L963.0,475.5 L965.0,475.1 L967.0,474.8 L969.0,474.6 L971.0,474.3 L973.0,474.1 L975.0,473.9 L977.0,473.8 L979.0,473.6 L981.0,473.5 L983.0,473.5 L985.0,473.4 L987.0,473.4 L989.0,473.5 L991.0,473.5 L993.0,473.6 L995.0,473.8 L997.0,473.9 L999.0,474.1 L1001.0,474.3 L1003.0,474.6 L1005.0,474.9" fill="none" stroke="#ff0000" stroke-width="3.4" stroke-linecap="round" stroke-linejoin="round"/>
<rect x="647.1" y="695.8" width="7.8" height="7.8" fill="#000" />
<rect x="706.4" y="648.9" width="7.8" height="7.8" fill="#000" />
<rect x="765.5" y="598.9" width="7.8" height="7.8" fill="#000" />
<rect x="824.6" y="546.9" width="7.8" height="7.8" fill="#000" />
<rect x="883.7" y="498.1" width="7.8" height="7.8" fill="#000" />
<rect x="942.9" y="478.4" width="7.8" height="7.8" fill="#000" />
<rect x="1002.2" y="470.3" width="7.8" height="7.8" fill="#000" />
<rect x="621.6" y="417.8" width="414.4" height="307.8" fill="none" stroke="#3a3a3a" stroke-width="1.4"/>
<line x1="615.3" y1="725.6" x2="621.6" y2="725.6" stroke="#3a3a3a" stroke-width="1.4" />
<line x1="618.1" y1="694.82" x2="621.6" y2="694.82" stroke="#3a3a3a" stroke-width="1.4" />
<line x1="615.3" y1="664.04" x2="621.6" y2="664.04" stroke="#3a3a3a" stroke-width="1.4" />
<line x1="618.1" y1="633.26" x2="621.6" y2="633.26" stroke="#3a3a3a" stroke-width="1.4" />
<line x1="615.3" y1="602.48" x2="621.6" y2="602.48" stroke="#3a3a3a" stroke-width="1.4" />
<line x1="618.1" y1="571.7" x2="621.6" y2="571.7" stroke="#3a3a3a" stroke-width="1.4" />
<line x1="615.3" y1="540.92" x2="621.6" y2="540.92" stroke="#3a3a3a" stroke-width="1.4" />
<line x1="618.1" y1="510.14" x2="621.6" y2="510.14" stroke="#3a3a3a" stroke-width="1.4" />
<line x1="615.3" y1="479.36" x2="621.6" y2="479.36" stroke="#3a3a3a" stroke-width="1.4" />
<line x1="618.1" y1="448.58" x2="621.6" y2="448.58" stroke="#3a3a3a" stroke-width="1.4" />
<line x1="615.3" y1="417.8" x2="621.6" y2="417.8" stroke="#3a3a3a" stroke-width="1.4" />
<line x1="621.6" y1="725.6" x2="621.6" y2="731.6" stroke="#3a3a3a" stroke-width="1.4" />
<line x1="680.8" y1="725.6" x2="680.8" y2="731.6" stroke="#3a3a3a" stroke-width="1.4" />
<line x1="740" y1="725.6" x2="740" y2="731.6" stroke="#3a3a3a" stroke-width="1.4" />
<line x1="799.2" y1="725.6" x2="799.2" y2="731.6" stroke="#3a3a3a" stroke-width="1.4" />
<line x1="858.4" y1="725.6" x2="858.4" y2="731.6" stroke="#3a3a3a" stroke-width="1.4" />
<line x1="917.6" y1="725.6" x2="917.6" y2="731.6" stroke="#3a3a3a" stroke-width="1.4" />
<line x1="976.8" y1="725.6" x2="976.8" y2="731.6" stroke="#3a3a3a" stroke-width="1.4" />
<line x1="1036" y1="725.6" x2="1036" y2="731.6" stroke="#3a3a3a" stroke-width="1.4" />
<line x1="651.2" y1="725.6" x2="651.2" y2="728.8" stroke="#3a3a3a" stroke-width="1.4" />
<line x1="710.4" y1="725.6" x2="710.4" y2="728.8" stroke="#3a3a3a" stroke-width="1.4" />
<line x1="769.6" y1="725.6" x2="769.6" y2="728.8" stroke="#3a3a3a" stroke-width="1.4" />
<line x1="828.8" y1="725.6" x2="828.8" y2="728.8" stroke="#3a3a3a" stroke-width="1.4" />
<line x1="888" y1="725.6" x2="888" y2="728.8" stroke="#3a3a3a" stroke-width="1.4" />
<line x1="947.2" y1="725.6" x2="947.2" y2="728.8" stroke="#3a3a3a" stroke-width="1.4" />
<line x1="1006.4" y1="725.6" x2="1006.4" y2="728.8" stroke="#3a3a3a" stroke-width="1.4" />
<text transform="translate(581.15,730.4) scale(1.0400,1)" font-family='"Liberation Sans", sans-serif' font-size="17.606" fill="#000" >400</text>
<text transform="translate(581.15,668.84) scale(1.0400,1)" font-family='"Liberation Sans", sans-serif' font-size="17.606" fill="#000" >500</text>
<text transform="translate(581.15,607.28) scale(1.0400,1)" font-family='"Liberation Sans", sans-serif' font-size="17.606" fill="#000" >600</text>
<text transform="translate(581.15,545.72) scale(1.0400,1)" font-family='"Liberation Sans", sans-serif' font-size="17.606" fill="#000" >700</text>
<text transform="translate(581.15,484.16) scale(1.0400,1)" font-family='"Liberation Sans", sans-serif' font-size="17.606" fill="#000" >800</text>
<text transform="translate(581.15,422.6) scale(1.0400,1)" font-family='"Liberation Sans", sans-serif' font-size="17.606" fill="#000" >900</text>
<text transform="translate(646.07,748.6) scale(1.0400,1)" font-family='"Liberation Sans", sans-serif' font-size="17.606" fill="#000" >0</text>
<text transform="translate(705.32,748.6) scale(1.0400,1)" font-family='"Liberation Sans", sans-serif' font-size="17.606" fill="#000" >2</text>
<text transform="translate(764.61,748.6) scale(1.0400,1)" font-family='"Liberation Sans", sans-serif' font-size="17.606" fill="#000" >4</text>
<text transform="translate(823.67,748.6) scale(1.0400,1)" font-family='"Liberation Sans", sans-serif' font-size="17.606" fill="#000" >8</text>
<text transform="translate(877.52,748.6) scale(1.0400,1)" font-family='"Liberation Sans", sans-serif' font-size="17.606" fill="#000" >16</text>
<text transform="translate(936.85,748.6) scale(1.0400,1)" font-family='"Liberation Sans", sans-serif' font-size="17.606" fill="#000" >24</text>
<text transform="translate(996.33,748.6) scale(1.0400,1)" font-family='"Liberation Sans", sans-serif' font-size="17.606" fill="#000" >32</text>
<text transform="translate(779.63,780.48) scale(1.0681,1)" font-family='"Liberation Sans", sans-serif' font-size="21.905" fill="#000" >Time</text>
<text transform="translate(851.2,780.7) scale(1.0293,1)" font-family='"Liberation Sans", sans-serif' font-size="22.207" fill="#000" >h</text>
<path d="M848.6,760.3 Q840.2,771.7 848.6,783.1" fill="none" stroke="#000" stroke-width="1.3"/>
<path d="M866.2,760.3 Q874.6,771.7 866.2,783.1" fill="none" stroke="#000" stroke-width="1.3"/>
<text transform="translate(566.23,683.66) scale(0.8701,1) rotate(-90)" font-family='"Liberation Sans", sans-serif' font-size="24.461" fill="#000">FL Intensity (a.u.)</text>
<text transform="translate(543.82,452.48) scale(1.0527,1)" font-family='"Liberation Sans", sans-serif' font-size="42.364" fill="#000" >c</text>
<rect x="636.2" y="433.5" width="81.4" height="40" fill="#fff" stroke="#3a3a3a" stroke-width="1.3" />
<line x1="643.5" y1="444.3" x2="675.6" y2="444.3" stroke="#ff0000" stroke-width="3.6" stroke-linecap="round"/>
<text transform="translate(679.59,448.36) scale(1.0000,1)" font-family='"Liberation Sans", sans-serif' font-size="13.878" fill="#000"  letter-spacing="0.788">Fit</text>
<text transform="translate(642.24,468.45) scale(1.0000,1)" font-family='"Liberation Sans", sans-serif' font-size="14.507" fill="#000"  letter-spacing="0.888">R=0.9946</text>
<defs><clipPath id="clip11"><rect x="95.9" y="806.8" width="415.1" height="310.2"/></clipPath></defs>
<g fill="#ff82f5" clip-path="url(#clip11)"><rect x="102.9" y="1057.9" width="6" height="6"/><rect x="102.3" y="1044.4" width="6" height="6"/><rect x="103.7" y="1018.6" width="6" height="6"/><rect x="104.3" y="875.2" width="6" height="6"/><rect x="104.2" y="885.6" width="6" height="6"/><rect x="104.8" y="910.4" width="6" height="6"/><rect x="105.7" y="911.6" width="6" height="6"/><rect x="105.4" y="936.7" width="6" height="6"/><rect x="106.9" y="931.5" width="6" height="6"/><rect x="106.4" y="944.7" width="6" height="6"/><rect x="106.9" y="943.8" width="6" height="6"/><rect x="108.1" y="952.1" width="6" height="6"/><rect x="107.9" y="957.8" width="6" height="6"/><rect x="108.0" y="961.5" width="6" height="6"/><rect x="108.4" y="971.1" width="6" height="6"/><rect x="108.9" y="974.5" width="6" height="6"/><rect x="109.3" y="977.2" width="6" height="6"/><rect x="109.9" y="978.0" width="6" height="6"/><rect x="110.9" y="978.9" width="6" height="6"/><rect x="111.2" y="992.4" width="6" height="6"/><rect x="110.6" y="985.9" width="6" height="6"/><rect x="111.5" y="987.4" width="6" height="6"/><rect x="111.5" y="981.5" width="6" height="6"/><rect x="112.4" y="988.3" width="6" height="6"/><rect x="112.2" y="1001.4" width="6" height="6"/><rect x="113.4" y="988.9" width="6" height="6"/><rect x="113.7" y="987.2" width="6" height="6"/><rect x="114.0" y="992.7" width="6" height="6"/><rect x="114.0" y="988.9" width="6" height="6"/><rect x="114.9" y="998.2" width="6" height="6"/><rect x="115.7" y="1007.8" width="6" height="6"/><rect x="115.5" y="1004.1" width="6" height="6"/><rect x="115.6" y="987.5" width="6" height="6"/><rect x="117.0" y="1004.4" width="6" height="6"/><rect x="116.6" y="1008.6" width="6" height="6"/><rect x="117.4" y="1000.0" width="6" height="6"/><rect x="117.7" y="1000.2" width="6" height="6"/><rect x="118.4" y="996.4" width="6" height="6"/><rect x="118.1" y="1001.4" width="6" height="6"/><rect x="118.0" y="1009.6" width="6" height="6"/><rect x="118.5" y="1002.0" width="6" height="6"/><rect x="120.3" y="1001.4" width="6" height="6"/><rect x="119.7" y="1013.3" width="6" height="6"/><rect x="120.7" y="1010.4" width="6" height="6"/><rect x="120.8" y="1013.1" width="6" height="6"/><rect x="121.1" y="1011.6" width="6" height="6"/><rect x="121.2" y="1001.6" width="6" height="6"/><rect x="122.1" y="1009.1" width="6" height="6"/><rect x="121.9" y="1005.1" width="6" height="6"/><rect x="123.0" y="1004.0" width="6" height="6"/><rect x="123.3" y="1005.9" width="6" height="6"/><rect x="123.4" y="1020.7" width="6" height="6"/><rect x="124.1" y="1007.1" width="6" height="6"/><rect x="125.2" y="1012.5" width="6" height="6"/><rect x="124.9" y="1000.1" width="6" height="6"/><rect x="124.5" y="1002.0" width="6" height="6"/><rect x="126.0" y="1025.1" width="6" height="6"/><rect x="126.3" y="1015.4" width="6" height="6"/><rect x="126.5" y="1011.3" width="6" height="6"/><rect x="127.0" y="1010.8" width="6" height="6"/><rect x="127.4" y="1023.7" width="6" height="6"/><rect x="128.4" y="1014.4" width="6" height="6"/><rect x="128.1" y="1022.2" width="6" height="6"/><rect x="128.5" y="1018.6" width="6" height="6"/><rect x="129.1" y="1007.3" width="6" height="6"/><rect x="129.4" y="1019.6" width="6" height="6"/><rect x="129.3" y="1013.1" width="6" height="6"/><rect x="130.8" y="1019.2" width="6" height="6"/><rect x="130.5" y="1013.3" width="6" height="6"/><rect x="130.9" y="1021.2" width="6" height="6"/><rect x="131.7" y="1027.5" width="6" height="6"/><rect x="131.8" y="1017.3" width="6" height="6"/><rect x="131.9" y="1026.8" width="6" height="6"/><rect x="132.7" y="1017.1" width="6" height="6"/><rect x="133.2" y="1023.1" width="6" height="6"/><rect x="133.1" y="1015.5" width="6" height="6"/><rect x="133.4" y="1024.0" width="6" height="6"/><rect x="134.5" y="1027.8" width="6" height="6"/><rect x="134.7" y="1018.9" width="6" height="6"/><rect x="134.6" y="1028.6" width="6" height="6"/><rect x="135.2" y="1022.8" width="6" height="6"/><rect x="135.5" y="1022.0" width="6" height="6"/><rect x="136.9" y="1019.2" width="6" height="6"/><rect x="137.3" y="1014.5" width="6" height="6"/><rect x="137.4" y="1022.8" width="6" height="6"/><rect x="137.8" y="1025.5" width="6" height="6"/><rect x="137.6" y="1025.7" width="6" height="6"/><rect x="138.5" y="1027.3" width="6" height="6"/><rect x="138.7" y="1022.5" width="6" height="6"/><rect x="139.1" y="1030.4" width="6" height="6"/><rect x="140.0" y="1032.2" width="6" height="6"/><rect x="139.9" y="1025.2" width="6" height="6"/><rect x="139.6" y="1025.2" width="6" height="6"/><rect x="140.7" y="1032.3" width="6" height="6"/><rect x="140.6" y="1016.9" width="6" height="6"/><rect x="141.5" y="1029.1" width="6" height="6"/><rect x="141.2" y="1034.6" width="6" height="6"/><rect x="142.3" y="1027.8" width="6" height="6"/><rect x="143.3" y="1027.9" width="6" height="6"/><rect x="143.2" y="1026.8" width="6" height="6"/><rect x="144.2" y="1017.4" width="6" height="6"/><rect x="143.8" y="1034.9" width="6" height="6"/><rect x="143.8" y="1020.1" width="6" height="6"/><rect x="144.2" y="1031.6" width="6" height="6"/><rect x="144.7" y="1034.1" width="6" height="6"/><rect x="146.0" y="1026.0" width="6" height="6"/><rect x="145.9" y="1018.8" width="6" height="6"/><rect x="146.3" y="1037.9" width="6" height="6"/><rect x="146.9" y="1029.2" width="6" height="6"/><rect x="146.4" y="1028.3" width="6" height="6"/><rect x="146.7" y="1025.5" width="6" height="6"/><rect x="148.1" y="1031.6" width="6" height="6"/><rect x="149.0" y="1026.2" width="6" height="6"/><rect x="148.9" y="1040.9" width="6" height="6"/><rect x="149.0" y="1024.7" width="6" height="6"/><rect x="149.1" y="1025.1" width="6" height="6"/><rect x="150.2" y="1025.2" width="6" height="6"/><rect x="150.1" y="1034.1" width="6" height="6"/><rect x="150.5" y="1030.0" width="6" height="6"/><rect x="151.3" y="1023.6" width="6" height="6"/><rect x="152.1" y="1022.3" width="6" height="6"/><rect x="151.9" y="1029.1" width="6" height="6"/><rect x="152.1" y="1034.7" width="6" height="6"/><rect x="153.0" y="1034.0" width="6" height="6"/><rect x="153.3" y="1034.6" width="6" height="6"/><rect x="153.4" y="1029.0" width="6" height="6"/><rect x="154.6" y="1031.2" width="6" height="6"/><rect x="154.1" y="1021.8" width="6" height="6"/><rect x="154.7" y="1031.5" width="6" height="6"/><rect x="155.9" y="1032.1" width="6" height="6"/><rect x="156.2" y="1027.1" width="6" height="6"/><rect x="155.9" y="1021.5" width="6" height="6"/><rect x="156.5" y="1032.1" width="6" height="6"/><rect x="156.8" y="1025.8" width="6" height="6"/><rect x="157.7" y="1027.9" width="6" height="6"/><rect x="157.9" y="1025.3" width="6" height="6"/><rect x="157.5" y="1035.8" width="6" height="6"/><rect x="158.7" y="1025.9" width="6" height="6"/><rect x="158.7" y="1036.9" width="6" height="6"/><rect x="158.6" y="1034.4" width="6" height="6"/><rect x="159.4" y="1030.9" width="6" height="6"/><rect x="160.4" y="1033.9" width="6" height="6"/><rect x="160.7" y="1033.0" width="6" height="6"/><rect x="160.9" y="1030.4" width="6" height="6"/><rect x="162.1" y="1032.5" width="6" height="6"/><rect x="162.4" y="1033.8" width="6" height="6"/><rect x="162.4" y="1037.8" width="6" height="6"/><rect x="162.2" y="1032.2" width="6" height="6"/><rect x="163.6" y="1047.2" width="6" height="6"/><rect x="163.0" y="1039.4" width="6" height="6"/><rect x="163.8" y="1032.8" width="6" height="6"/><rect x="164.1" y="1032.1" width="6" height="6"/><rect x="164.9" y="1041.6" width="6" height="6"/><rect x="165.1" y="1038.6" width="6" height="6"/><rect x="165.8" y="1031.0" width="6" height="6"/><rect x="165.7" y="1035.2" width="6" height="6"/><rect x="165.4" y="1035.4" width="6" height="6"/><rect x="166.2" y="1038.3" width="6" height="6"/><rect x="167.1" y="1040.5" width="6" height="6"/><rect x="168.0" y="1036.2" width="6" height="6"/><rect x="167.0" y="1026.9" width="6" height="6"/><rect x="167.8" y="1034.2" width="6" height="6"/><rect x="168.7" y="1032.0" width="6" height="6"/><rect x="169.1" y="1030.2" width="6" height="6"/><rect x="169.3" y="1031.2" width="6" height="6"/><rect x="169.4" y="1048.3" width="6" height="6"/><rect x="170.0" y="1039.8" width="6" height="6"/><rect x="171.3" y="1040.8" width="6" height="6"/><rect x="171.6" y="1036.5" width="6" height="6"/><rect x="172.1" y="1037.5" width="6" height="6"/><rect x="172.1" y="1042.1" width="6" height="6"/><rect x="172.4" y="1042.8" width="6" height="6"/><rect x="172.0" y="1027.8" width="6" height="6"/><rect x="173.2" y="1040.7" width="6" height="6"/><rect x="172.9" y="1037.2" width="6" height="6"/><rect x="173.9" y="1030.4" width="6" height="6"/><rect x="174.4" y="1029.8" width="6" height="6"/><rect x="174.5" y="1042.6" width="6" height="6"/><rect x="174.5" y="1029.5" width="6" height="6"/><rect x="175.7" y="1039.2" width="6" height="6"/><rect x="176.2" y="1031.6" width="6" height="6"/><rect x="177.1" y="1044.6" width="6" height="6"/><rect x="176.7" y="1037.9" width="6" height="6"/><rect x="177.0" y="1037.2" width="6" height="6"/><rect x="177.4" y="1042.3" width="6" height="6"/><rect x="177.4" y="1030.6" width="6" height="6"/><rect x="178.5" y="1050.0" width="6" height="6"/><rect x="179.0" y="1035.8" width="6" height="6"/><rect x="178.8" y="1028.8" width="6" height="6"/><rect x="179.7" y="1036.9" width="6" height="6"/><rect x="180.4" y="1031.5" width="6" height="6"/><rect x="179.8" y="1042.3" width="6" height="6"/><rect x="180.1" y="1039.5" width="6" height="6"/><rect x="181.0" y="1032.5" width="6" height="6"/><rect x="181.2" y="1040.1" width="6" height="6"/><rect x="182.1" y="1030.5" width="6" height="6"/><rect x="182.6" y="1040.6" width="6" height="6"/><rect x="183.0" y="1039.0" width="6" height="6"/><rect x="183.1" y="1031.9" width="6" height="6"/><rect x="183.8" y="1036.1" width="6" height="6"/><rect x="184.2" y="1033.0" width="6" height="6"/><rect x="184.1" y="1038.7" width="6" height="6"/><rect x="184.4" y="1037.5" width="6" height="6"/><rect x="185.2" y="1035.7" width="6" height="6"/><rect x="185.4" y="1036.3" width="6" height="6"/><rect x="185.7" y="1043.4" width="6" height="6"/><rect x="186.3" y="1033.7" width="6" height="6"/><rect x="186.1" y="1040.6" width="6" height="6"/><rect x="185.9" y="1039.8" width="6" height="6"/><rect x="187.5" y="1032.6" width="6" height="6"/><rect x="187.5" y="1039.6" width="6" height="6"/><rect x="188.7" y="1045.4" width="6" height="6"/><rect x="189.0" y="1040.9" width="6" height="6"/><rect x="189.5" y="1033.4" width="6" height="6"/><rect x="189.3" y="1049.7" width="6" height="6"/><rect x="189.7" y="1045.9" width="6" height="6"/><rect x="189.7" y="1050.8" width="6" height="6"/><rect x="190.6" y="1044.0" width="6" height="6"/><rect x="191.2" y="1037.7" width="6" height="6"/><rect x="191.0" y="1033.2" width="6" height="6"/><rect x="192.2" y="1047.6" width="6" height="6"/><rect x="192.1" y="1041.9" width="6" height="6"/><rect x="193.3" y="1036.7" width="6" height="6"/><rect x="193.2" y="1034.0" width="6" height="6"/><rect x="193.8" y="1040.8" width="6" height="6"/><rect x="194.5" y="1040.6" width="6" height="6"/><rect x="194.7" y="1043.5" width="6" height="6"/><rect x="195.2" y="1052.3" width="6" height="6"/><rect x="195.3" y="1032.8" width="6" height="6"/><rect x="195.1" y="1036.0" width="6" height="6"/><rect x="195.5" y="1043.0" width="6" height="6"/><rect x="196.8" y="1039.8" width="6" height="6"/><rect x="196.6" y="1048.5" width="6" height="6"/><rect x="198.3" y="1044.6" width="6" height="6"/><rect x="197.8" y="1042.1" width="6" height="6"/><rect x="198.3" y="1040.0" width="6" height="6"/><rect x="198.0" y="1043.1" width="6" height="6"/><rect x="199.6" y="1045.4" width="6" height="6"/><rect x="199.2" y="1040.8" width="6" height="6"/><rect x="199.8" y="1049.0" width="6" height="6"/><rect x="199.9" y="1042.1" width="6" height="6"/><rect x="200.4" y="1037.9" width="6" height="6"/><rect x="201.3" y="1043.3" width="6" height="6"/><rect x="201.9" y="1041.4" width="6" height="6"/><rect x="201.6" y="1043.8" width="6" height="6"/><rect x="202.3" y="1040.4" width="6" height="6"/><rect x="202.8" y="1036.9" width="6" height="6"/><rect x="203.2" y="1043.0" width="6" height="6"/><rect x="203.0" y="1039.7" width="6" height="6"/><rect x="203.7" y="1043.8" width="6" height="6"/><rect x="204.1" y="1037.1" width="6" height="6"/><rect x="204.1" y="1037.9" width="6" height="6"/><rect x="205.5" y="1043.6" width="6" height="6"/><rect x="205.9" y="1044.7" width="6" height="6"/><rect x="205.9" y="1053.7" width="6" height="6"/><rect x="206.2" y="1042.8" width="6" height="6"/><rect x="206.9" y="1051.2" width="6" height="6"/><rect x="207.5" y="1055.4" width="6" height="6"/><rect x="207.9" y="1042.4" width="6" height="6"/><rect x="207.5" y="1045.2" width="6" height="6"/><rect x="208.1" y="1046.6" width="6" height="6"/><rect x="208.6" y="1041.1" width="6" height="6"/><rect x="209.3" y="1042.1" width="6" height="6"/><rect x="208.7" y="1037.1" width="6" height="6"/><rect x="210.2" y="1046.3" width="6" height="6"/><rect x="210.1" y="1040.9" width="6" height="6"/><rect x="210.7" y="1045.7" width="6" height="6"/><rect x="210.9" y="1043.8" width="6" height="6"/><rect x="211.1" y="1047.8" width="6" height="6"/><rect x="212.5" y="1046.5" width="6" height="6"/><rect x="212.7" y="1049.4" width="6" height="6"/><rect x="212.8" y="1035.1" width="6" height="6"/><rect x="213.1" y="1033.1" width="6" height="6"/><rect x="213.6" y="1036.6" width="6" height="6"/><rect x="214.1" y="1050.9" width="6" height="6"/><rect x="214.2" y="1035.6" width="6" height="6"/><rect x="214.4" y="1042.6" width="6" height="6"/><rect x="215.4" y="1049.5" width="6" height="6"/><rect x="215.8" y="1046.1" width="6" height="6"/><rect x="215.5" y="1038.9" width="6" height="6"/><rect x="216.4" y="1048.7" width="6" height="6"/><rect x="216.7" y="1033.8" width="6" height="6"/><rect x="217.4" y="1047.8" width="6" height="6"/><rect x="217.4" y="1035.0" width="6" height="6"/><rect x="218.1" y="1047.0" width="6" height="6"/><rect x="219.3" y="1041.8" width="6" height="6"/><rect x="218.2" y="1051.7" width="6" height="6"/><rect x="219.5" y="1044.8" width="6" height="6"/><rect x="219.4" y="1056.7" width="6" height="6"/><rect x="219.9" y="1041.0" width="6" height="6"/><rect x="220.6" y="1043.4" width="6" height="6"/><rect x="221.1" y="1042.6" width="6" height="6"/><rect x="221.8" y="1044.6" width="6" height="6"/><rect x="221.8" y="1048.7" width="6" height="6"/><rect x="221.9" y="1040.4" width="6" height="6"/><rect x="222.2" y="1047.8" width="6" height="6"/><rect x="223.7" y="1050.7" width="6" height="6"/><rect x="224.1" y="1043.8" width="6" height="6"/><rect x="223.8" y="1042.5" width="6" height="6"/><rect x="224.2" y="1047.6" width="6" height="6"/><rect x="224.9" y="1046.5" width="6" height="6"/><rect x="225.0" y="1050.6" width="6" height="6"/><rect x="225.3" y="1044.1" width="6" height="6"/><rect x="226.0" y="1047.6" width="6" height="6"/><rect x="226.1" y="1043.7" width="6" height="6"/><rect x="226.3" y="1046.6" width="6" height="6"/><rect x="226.9" y="1043.9" width="6" height="6"/><rect x="227.3" y="1054.4" width="6" height="6"/><rect x="227.9" y="1043.8" width="6" height="6"/><rect x="228.5" y="1051.3" width="6" height="6"/><rect x="228.8" y="1044.1" width="6" height="6"/><rect x="228.9" y="1039.7" width="6" height="6"/><rect x="229.3" y="1044.4" width="6" height="6"/><rect x="230.3" y="1042.6" width="6" height="6"/><rect x="230.5" y="1045.2" width="6" height="6"/><rect x="230.8" y="1051.7" width="6" height="6"/><rect x="231.9" y="1053.6" width="6" height="6"/><rect x="230.8" y="1042.3" width="6" height="6"/><rect x="232.3" y="1061.1" width="6" height="6"/><rect x="232.4" y="1052.4" width="6" height="6"/><rect x="232.6" y="1054.7" width="6" height="6"/><rect x="233.3" y="1051.6" width="6" height="6"/><rect x="234.0" y="1050.2" width="6" height="6"/><rect x="234.3" y="1052.4" width="6" height="6"/><rect x="234.4" y="1048.9" width="6" height="6"/><rect x="233.9" y="1056.7" width="6" height="6"/><rect x="234.5" y="1043.9" width="6" height="6"/><rect x="235.3" y="1050.8" width="6" height="6"/><rect x="235.9" y="1053.6" width="6" height="6"/><rect x="235.8" y="1056.2" width="6" height="6"/><rect x="236.3" y="1045.0" width="6" height="6"/><rect x="237.3" y="1045.9" width="6" height="6"/><rect x="237.6" y="1042.3" width="6" height="6"/><rect x="237.6" y="1058.6" width="6" height="6"/><rect x="238.8" y="1051.8" width="6" height="6"/><rect x="238.5" y="1048.3" width="6" height="6"/><rect x="238.9" y="1047.9" width="6" height="6"/><rect x="239.5" y="1047.5" width="6" height="6"/><rect x="240.0" y="1044.9" width="6" height="6"/><rect x="240.3" y="1045.5" width="6" height="6"/><rect x="240.6" y="1047.0" width="6" height="6"/><rect x="241.2" y="1047.4" width="6" height="6"/><rect x="241.3" y="1051.2" width="6" height="6"/><rect x="242.1" y="1052.0" width="6" height="6"/><rect x="242.8" y="1061.8" width="6" height="6"/><rect x="242.6" y="1062.3" width="6" height="6"/><rect x="243.4" y="1052.5" width="6" height="6"/><rect x="243.5" y="1049.9" width="6" height="6"/><rect x="244.3" y="1050.7" width="6" height="6"/><rect x="244.5" y="1040.0" width="6" height="6"/><rect x="244.6" y="1061.2" width="6" height="6"/><rect x="246.5" y="1049.4" width="6" height="6"/><rect x="245.4" y="1055.1" width="6" height="6"/><rect x="246.1" y="1048.9" width="6" height="6"/><rect x="246.7" y="1058.0" width="6" height="6"/><rect x="246.7" y="1058.0" width="6" height="6"/><rect x="246.7" y="1045.5" width="6" height="6"/><rect x="248.3" y="1053.5" width="6" height="6"/><rect x="247.6" y="1053.2" width="6" height="6"/><rect x="248.7" y="1054.8" width="6" height="6"/><rect x="248.5" y="1059.6" width="6" height="6"/><rect x="248.7" y="1059.2" width="6" height="6"/><rect x="249.6" y="1046.2" width="6" height="6"/><rect x="250.2" y="1054.5" width="6" height="6"/><rect x="249.9" y="1055.9" width="6" height="6"/><rect x="251.2" y="1047.1" width="6" height="6"/><rect x="251.5" y="1056.7" width="6" height="6"/><rect x="251.8" y="1045.7" width="6" height="6"/><rect x="251.5" y="1050.4" width="6" height="6"/><rect x="251.7" y="1053.5" width="6" height="6"/><rect x="252.8" y="1047.6" width="6" height="6"/><rect x="252.9" y="1046.7" width="6" height="6"/><rect x="253.0" y="1048.9" width="6" height="6"/><rect x="254.3" y="1055.1" width="6" height="6"/><rect x="254.4" y="1051.6" width="6" height="6"/><rect x="255.4" y="1061.2" width="6" height="6"/><rect x="255.7" y="1050.3" width="6" height="6"/><rect x="255.5" y="1048.1" width="6" height="6"/><rect x="257.2" y="1051.7" width="6" height="6"/><rect x="256.7" y="1057.6" width="6" height="6"/><rect x="257.6" y="1056.4" width="6" height="6"/><rect x="256.9" y="1053.0" width="6" height="6"/><rect x="257.1" y="1056.8" width="6" height="6"/><rect x="257.0" y="1064.8" width="6" height="6"/><rect x="258.1" y="1057.5" width="6" height="6"/><rect x="258.6" y="1053.4" width="6" height="6"/><rect x="260.0" y="1053.1" width="6" height="6"/><rect x="259.2" y="1059.9" width="6" height="6"/><rect x="261.1" y="1049.6" width="6" height="6"/><rect x="259.9" y="1058.6" width="6" height="6"/><rect x="260.8" y="1055.8" width="6" height="6"/><rect x="260.9" y="1051.1" width="6" height="6"/><rect x="261.6" y="1055.9" width="6" height="6"/><rect x="261.5" y="1062.2" width="6" height="6"/><rect x="262.8" y="1052.6" width="6" height="6"/><rect x="263.6" y="1058.6" width="6" height="6"/><rect x="263.6" y="1050.4" width="6" height="6"/><rect x="263.9" y="1052.0" width="6" height="6"/><rect x="264.5" y="1051.6" width="6" height="6"/><rect x="263.8" y="1054.8" width="6" height="6"/><rect x="264.7" y="1055.9" width="6" height="6"/><rect x="265.6" y="1060.9" width="6" height="6"/><rect x="266.1" y="1063.8" width="6" height="6"/><rect x="265.7" y="1058.4" width="6" height="6"/><rect x="267.6" y="1059.6" width="6" height="6"/><rect x="266.9" y="1048.5" width="6" height="6"/><rect x="268.2" y="1050.5" width="6" height="6"/><rect x="267.7" y="1059.8" width="6" height="6"/><rect x="268.4" y="1051.3" width="6" height="6"/><rect x="269.3" y="1057.5" width="6" height="6"/><rect x="269.4" y="1053.4" width="6" height="6"/><rect x="269.7" y="1044.5" width="6" height="6"/><rect x="270.0" y="1043.3" width="6" height="6"/><rect x="270.3" y="1056.8" width="6" height="6"/><rect x="270.9" y="1051.9" width="6" height="6"/><rect x="270.5" y="1054.4" width="6" height="6"/><rect x="271.4" y="1061.4" width="6" height="6"/><rect x="272.5" y="1052.8" width="6" height="6"/><rect x="272.2" y="1067.8" width="6" height="6"/><rect x="272.6" y="1058.6" width="6" height="6"/><rect x="272.7" y="1055.5" width="6" height="6"/><rect x="273.9" y="1062.9" width="6" height="6"/><rect x="273.7" y="1053.1" width="6" height="6"/><rect x="274.0" y="1057.4" width="6" height="6"/><rect x="275.0" y="1063.6" width="6" height="6"/><rect x="274.7" y="1060.1" width="6" height="6"/><rect x="276.2" y="1059.9" width="6" height="6"/><rect x="276.0" y="1055.0" width="6" height="6"/><rect x="276.7" y="1056.8" width="6" height="6"/><rect x="276.2" y="1053.8" width="6" height="6"/><rect x="276.9" y="1058.5" width="6" height="6"/><rect x="277.5" y="1056.4" width="6" height="6"/><rect x="278.4" y="1067.0" width="6" height="6"/><rect x="277.6" y="1056.4" width="6" height="6"/><rect x="278.8" y="1052.3" width="6" height="6"/><rect x="279.2" y="1055.6" width="6" height="6"/><rect x="279.4" y="1057.1" width="6" height="6"/><rect x="279.7" y="1065.8" width="6" height="6"/><rect x="280.4" y="1057.2" width="6" height="6"/><rect x="280.7" y="1055.1" width="6" height="6"/><rect x="281.5" y="1068.8" width="6" height="6"/><rect x="281.0" y="1062.2" width="6" height="6"/><rect x="281.4" y="1060.0" width="6" height="6"/><rect x="282.0" y="1056.9" width="6" height="6"/><rect x="282.7" y="1049.5" width="6" height="6"/><rect x="282.9" y="1061.3" width="6" height="6"/><rect x="283.2" y="1068.9" width="6" height="6"/><rect x="283.9" y="1062.4" width="6" height="6"/><rect x="284.4" y="1069.3" width="6" height="6"/><rect x="284.6" y="1053.0" width="6" height="6"/><rect x="285.4" y="1059.3" width="6" height="6"/><rect x="285.5" y="1062.9" width="6" height="6"/><rect x="286.1" y="1054.7" width="6" height="6"/><rect x="285.7" y="1065.0" width="6" height="6"/><rect x="287.0" y="1048.6" width="6" height="6"/><rect x="287.3" y="1066.7" width="6" height="6"/><rect x="287.7" y="1056.2" width="6" height="6"/><rect x="288.8" y="1068.2" width="6" height="6"/><rect x="288.4" y="1056.7" width="6" height="6"/><rect x="288.8" y="1056.4" width="6" height="6"/><rect x="289.7" y="1061.1" width="6" height="6"/><rect x="290.1" y="1068.8" width="6" height="6"/><rect x="290.4" y="1057.8" width="6" height="6"/><rect x="291.1" y="1055.5" width="6" height="6"/><rect x="291.3" y="1053.1" width="6" height="6"/><rect x="291.6" y="1061.6" width="6" height="6"/><rect x="291.3" y="1062.1" width="6" height="6"/><rect x="292.3" y="1057.8" width="6" height="6"/><rect x="291.7" y="1054.4" width="6" height="6"/><rect x="293.2" y="1057.2" width="6" height="6"/><rect x="294.0" y="1059.5" width="6" height="6"/><rect x="293.9" y="1064.1" width="6" height="6"/><rect x="294.2" y="1061.9" width="6" height="6"/><rect x="294.5" y="1064.7" width="6" height="6"/><rect x="295.0" y="1057.2" width="6" height="6"/><rect x="295.1" y="1058.7" width="6" height="6"/><rect x="295.5" y="1053.1" width="6" height="6"/><rect x="296.4" y="1060.4" width="6" height="6"/><rect x="296.9" y="1061.4" width="6" height="6"/><rect x="297.7" y="1059.7" width="6" height="6"/><rect x="297.6" y="1058.1" width="6" height="6"/><rect x="298.0" y="1064.4" width="6" height="6"/><rect x="298.4" y="1056.2" width="6" height="6"/><rect x="298.4" y="1065.1" width="6" height="6"/><rect x="299.0" y="1062.0" width="6" height="6"/><rect x="300.2" y="1067.3" width="6" height="6"/><rect x="299.9" y="1061.5" width="6" height="6"/><rect x="300.2" y="1063.2" width="6" height="6"/><rect x="300.3" y="1052.5" width="6" height="6"/><rect x="300.6" y="1063.7" width="6" height="6"/><rect x="302.1" y="1063.9" width="6" height="6"/><rect x="301.7" y="1064.3" width="6" height="6"/><rect x="302.1" y="1069.7" width="6" height="6"/><rect x="302.5" y="1060.5" width="6" height="6"/><rect x="303.4" y="1063.4" width="6" height="6"/><rect x="303.4" y="1059.3" width="6" height="6"/><rect x="303.3" y="1065.3" width="6" height="6"/><rect x="303.7" y="1054.2" width="6" height="6"/><rect x="304.6" y="1059.0" width="6" height="6"/><rect x="305.5" y="1065.2" width="6" height="6"/><rect x="306.0" y="1065.3" width="6" height="6"/><rect x="306.1" y="1066.7" width="6" height="6"/><rect x="305.9" y="1056.4" width="6" height="6"/><rect x="307.1" y="1052.7" width="6" height="6"/><rect x="307.7" y="1072.2" width="6" height="6"/><rect x="307.4" y="1053.7" width="6" height="6"/><rect x="308.1" y="1063.2" width="6" height="6"/><rect x="308.4" y="1070.9" width="6" height="6"/><rect x="308.5" y="1058.3" width="6" height="6"/><rect x="310.0" y="1057.5" width="6" height="6"/><rect x="308.8" y="1071.4" width="6" height="6"/><rect x="310.2" y="1065.8" width="6" height="6"/><rect x="310.0" y="1061.0" width="6" height="6"/><rect x="310.5" y="1067.9" width="6" height="6"/><rect x="310.8" y="1055.2" width="6" height="6"/><rect x="312.0" y="1065.5" width="6" height="6"/><rect x="311.6" y="1064.1" width="6" height="6"/><rect x="312.5" y="1056.6" width="6" height="6"/><rect x="312.6" y="1066.1" width="6" height="6"/><rect x="313.1" y="1058.9" width="6" height="6"/><rect x="314.0" y="1062.0" width="6" height="6"/><rect x="313.3" y="1058.7" width="6" height="6"/><rect x="314.3" y="1065.4" width="6" height="6"/><rect x="315.1" y="1062.8" width="6" height="6"/><rect x="315.1" y="1058.1" width="6" height="6"/><rect x="315.7" y="1068.3" width="6" height="6"/><rect x="316.7" y="1066.0" width="6" height="6"/><rect x="316.5" y="1061.8" width="6" height="6"/><rect x="316.6" y="1059.0" width="6" height="6"/><rect x="317.2" y="1065.0" width="6" height="6"/><rect x="318.2" y="1060.6" width="6" height="6"/><rect x="318.4" y="1060.1" width="6" height="6"/><rect x="318.6" y="1064.6" width="6" height="6"/><rect x="319.4" y="1064.6" width="6" height="6"/><rect x="319.3" y="1066.4" width="6" height="6"/><rect x="320.0" y="1062.6" width="6" height="6"/><rect x="320.0" y="1066.9" width="6" height="6"/><rect x="320.0" y="1067.4" width="6" height="6"/><rect x="321.1" y="1058.9" width="6" height="6"/><rect x="320.9" y="1070.4" width="6" height="6"/><rect x="321.5" y="1061.4" width="6" height="6"/><rect x="322.6" y="1068.5" width="6" height="6"/><rect x="322.4" y="1066.0" width="6" height="6"/><rect x="322.6" y="1061.4" width="6" height="6"/><rect x="323.4" y="1063.9" width="6" height="6"/><rect x="323.4" y="1060.7" width="6" height="6"/><rect x="324.3" y="1059.2" width="6" height="6"/><rect x="324.6" y="1056.1" width="6" height="6"/><rect x="324.7" y="1066.5" width="6" height="6"/><rect x="325.4" y="1069.1" width="6" height="6"/><rect x="326.1" y="1064.5" width="6" height="6"/><rect x="325.8" y="1063.9" width="6" height="6"/><rect x="326.4" y="1059.7" width="6" height="6"/><rect x="327.6" y="1063.1" width="6" height="6"/><rect x="327.1" y="1058.7" width="6" height="6"/><rect x="328.3" y="1064.9" width="6" height="6"/><rect x="328.4" y="1060.1" width="6" height="6"/><rect x="327.7" y="1060.5" width="6" height="6"/><rect x="328.4" y="1065.8" width="6" height="6"/><rect x="329.2" y="1067.3" width="6" height="6"/><rect x="330.3" y="1062.5" width="6" height="6"/><rect x="330.3" y="1061.2" width="6" height="6"/><rect x="331.1" y="1066.3" width="6" height="6"/><rect x="330.3" y="1063.6" width="6" height="6"/><rect x="331.6" y="1065.1" width="6" height="6"/><rect x="331.9" y="1069.1" width="6" height="6"/><rect x="332.1" y="1058.2" width="6" height="6"/><rect x="332.6" y="1065.2" width="6" height="6"/><rect x="332.8" y="1069.3" width="6" height="6"/><rect x="333.3" y="1069.5" width="6" height="6"/><rect x="334.2" y="1068.7" width="6" height="6"/><rect x="334.6" y="1065.7" width="6" height="6"/><rect x="334.6" y="1070.8" width="6" height="6"/><rect x="335.3" y="1062.7" width="6" height="6"/><rect x="335.4" y="1068.0" width="6" height="6"/><rect x="335.7" y="1064.8" width="6" height="6"/><rect x="336.5" y="1067.1" width="6" height="6"/><rect x="335.9" y="1070.6" width="6" height="6"/><rect x="337.2" y="1067.5" width="6" height="6"/><rect x="338.0" y="1075.4" width="6" height="6"/><rect x="338.1" y="1064.9" width="6" height="6"/><rect x="338.3" y="1069.1" width="6" height="6"/><rect x="339.4" y="1057.3" width="6" height="6"/><rect x="339.0" y="1062.6" width="6" height="6"/><rect x="340.0" y="1065.9" width="6" height="6"/><rect x="339.5" y="1068.6" width="6" height="6"/><rect x="340.7" y="1066.1" width="6" height="6"/><rect x="340.9" y="1070.2" width="6" height="6"/><rect x="341.2" y="1063.9" width="6" height="6"/><rect x="341.9" y="1066.2" width="6" height="6"/><rect x="341.3" y="1063.0" width="6" height="6"/><rect x="342.5" y="1058.5" width="6" height="6"/><rect x="342.6" y="1064.3" width="6" height="6"/><rect x="342.1" y="1067.0" width="6" height="6"/><rect x="343.8" y="1066.8" width="6" height="6"/><rect x="343.7" y="1063.1" width="6" height="6"/><rect x="343.9" y="1076.3" width="6" height="6"/><rect x="345.3" y="1067.3" width="6" height="6"/><rect x="345.2" y="1073.1" width="6" height="6"/><rect x="345.8" y="1063.3" width="6" height="6"/><rect x="344.8" y="1066.4" width="6" height="6"/><rect x="346.4" y="1063.3" width="6" height="6"/><rect x="346.4" y="1063.6" width="6" height="6"/><rect x="347.8" y="1068.1" width="6" height="6"/><rect x="347.6" y="1066.4" width="6" height="6"/><rect x="348.5" y="1069.1" width="6" height="6"/><rect x="348.2" y="1073.2" width="6" height="6"/><rect x="348.8" y="1064.0" width="6" height="6"/><rect x="349.4" y="1062.1" width="6" height="6"/><rect x="349.5" y="1059.6" width="6" height="6"/><rect x="350.1" y="1066.5" width="6" height="6"/><rect x="351.0" y="1073.8" width="6" height="6"/><rect x="351.3" y="1069.9" width="6" height="6"/><rect x="351.7" y="1059.5" width="6" height="6"/><rect x="351.4" y="1065.0" width="6" height="6"/><rect x="352.3" y="1075.3" width="6" height="6"/><rect x="353.2" y="1066.9" width="6" height="6"/><rect x="353.1" y="1067.2" width="6" height="6"/><rect x="353.5" y="1067.7" width="6" height="6"/><rect x="353.6" y="1067.4" width="6" height="6"/><rect x="353.8" y="1074.2" width="6" height="6"/><rect x="355.0" y="1066.6" width="6" height="6"/><rect x="354.4" y="1064.7" width="6" height="6"/><rect x="355.4" y="1059.0" width="6" height="6"/><rect x="355.3" y="1061.0" width="6" height="6"/><rect x="355.8" y="1080.5" width="6" height="6"/><rect x="356.6" y="1070.5" width="6" height="6"/><rect x="356.6" y="1072.8" width="6" height="6"/><rect x="357.4" y="1072.1" width="6" height="6"/><rect x="358.3" y="1070.1" width="6" height="6"/><rect x="358.5" y="1062.5" width="6" height="6"/><rect x="358.6" y="1067.0" width="6" height="6"/><rect x="358.6" y="1062.2" width="6" height="6"/><rect x="359.3" y="1060.5" width="6" height="6"/><rect x="360.7" y="1060.5" width="6" height="6"/><rect x="359.7" y="1059.1" width="6" height="6"/><rect x="360.4" y="1060.7" width="6" height="6"/><rect x="360.9" y="1067.9" width="6" height="6"/><rect x="361.5" y="1071.3" width="6" height="6"/><rect x="362.2" y="1069.2" width="6" height="6"/><rect x="361.1" y="1064.7" width="6" height="6"/><rect x="362.2" y="1070.4" width="6" height="6"/><rect x="362.7" y="1069.2" width="6" height="6"/><rect x="363.3" y="1065.3" width="6" height="6"/><rect x="364.0" y="1071.0" width="6" height="6"/><rect x="364.2" y="1062.2" width="6" height="6"/><rect x="364.8" y="1061.0" width="6" height="6"/><rect x="364.9" y="1068.7" width="6" height="6"/><rect x="365.7" y="1066.2" width="6" height="6"/><rect x="366.2" y="1065.5" width="6" height="6"/><rect x="365.8" y="1061.2" width="6" height="6"/><rect x="366.6" y="1071.4" width="6" height="6"/><rect x="367.4" y="1064.3" width="6" height="6"/><rect x="367.7" y="1063.4" width="6" height="6"/><rect x="368.0" y="1070.4" width="6" height="6"/><rect x="368.4" y="1069.1" width="6" height="6"/><rect x="368.4" y="1062.4" width="6" height="6"/><rect x="370.1" y="1067.4" width="6" height="6"/><rect x="369.3" y="1069.6" width="6" height="6"/><rect x="369.3" y="1071.1" width="6" height="6"/><rect x="370.0" y="1062.0" width="6" height="6"/><rect x="370.4" y="1069.1" width="6" height="6"/><rect x="371.4" y="1078.7" width="6" height="6"/><rect x="371.5" y="1068.8" width="6" height="6"/><rect x="371.9" y="1060.4" width="6" height="6"/><rect x="372.4" y="1065.9" width="6" height="6"/><rect x="372.2" y="1060.8" width="6" height="6"/><rect x="372.3" y="1068.9" width="6" height="6"/><rect x="373.8" y="1066.3" width="6" height="6"/><rect x="374.8" y="1068.3" width="6" height="6"/><rect x="375.1" y="1062.1" width="6" height="6"/><rect x="375.5" y="1065.7" width="6" height="6"/><rect x="375.3" y="1068.6" width="6" height="6"/><rect x="375.4" y="1065.8" width="6" height="6"/><rect x="376.5" y="1059.1" width="6" height="6"/><rect x="376.7" y="1069.3" width="6" height="6"/><rect x="376.9" y="1065.8" width="6" height="6"/><rect x="377.0" y="1063.6" width="6" height="6"/><rect x="377.7" y="1065.4" width="6" height="6"/><rect x="377.8" y="1068.9" width="6" height="6"/><rect x="378.4" y="1062.4" width="6" height="6"/><rect x="379.7" y="1055.9" width="6" height="6"/><rect x="379.4" y="1069.5" width="6" height="6"/><rect x="379.4" y="1075.2" width="6" height="6"/><rect x="379.7" y="1070.4" width="6" height="6"/><rect x="380.5" y="1075.9" width="6" height="6"/><rect x="380.5" y="1065.9" width="6" height="6"/><rect x="381.6" y="1066.9" width="6" height="6"/><rect x="381.1" y="1059.6" width="6" height="6"/><rect x="381.3" y="1059.7" width="6" height="6"/><rect x="382.3" y="1070.2" width="6" height="6"/><rect x="383.1" y="1059.9" width="6" height="6"/><rect x="383.9" y="1064.1" width="6" height="6"/><rect x="383.5" y="1065.7" width="6" height="6"/><rect x="384.0" y="1060.3" width="6" height="6"/><rect x="383.8" y="1072.2" width="6" height="6"/><rect x="385.6" y="1066.0" width="6" height="6"/><rect x="385.3" y="1063.4" width="6" height="6"/><rect x="385.1" y="1061.4" width="6" height="6"/><rect x="385.9" y="1064.8" width="6" height="6"/><rect x="386.2" y="1060.7" width="6" height="6"/><rect x="387.0" y="1063.2" width="6" height="6"/><rect x="387.6" y="1066.6" width="6" height="6"/><rect x="388.3" y="1067.3" width="6" height="6"/><rect x="387.2" y="1067.6" width="6" height="6"/><rect x="389.1" y="1060.4" width="6" height="6"/><rect x="389.5" y="1064.5" width="6" height="6"/><rect x="389.0" y="1063.7" width="6" height="6"/><rect x="389.3" y="1075.7" width="6" height="6"/><rect x="390.4" y="1068.0" width="6" height="6"/><rect x="390.2" y="1073.0" width="6" height="6"/><rect x="390.7" y="1060.2" width="6" height="6"/><rect x="391.0" y="1070.0" width="6" height="6"/><rect x="392.1" y="1059.7" width="6" height="6"/><rect x="392.8" y="1062.9" width="6" height="6"/><rect x="393.1" y="1062.6" width="6" height="6"/><rect x="393.3" y="1065.2" width="6" height="6"/><rect x="393.7" y="1064.1" width="6" height="6"/><rect x="393.7" y="1071.9" width="6" height="6"/><rect x="393.9" y="1068.4" width="6" height="6"/><rect x="395.3" y="1067.0" width="6" height="6"/><rect x="395.0" y="1062.8" width="6" height="6"/><rect x="396.0" y="1065.4" width="6" height="6"/><rect x="396.0" y="1072.2" width="6" height="6"/><rect x="396.9" y="1059.7" width="6" height="6"/><rect x="396.8" y="1063.0" width="6" height="6"/><rect x="396.7" y="1074.8" width="6" height="6"/><rect x="397.6" y="1067.1" width="6" height="6"/><rect x="396.9" y="1065.2" width="6" height="6"/><rect x="398.3" y="1069.3" width="6" height="6"/><rect x="398.5" y="1070.3" width="6" height="6"/><rect x="399.2" y="1064.8" width="6" height="6"/><rect x="399.7" y="1066.2" width="6" height="6"/><rect x="399.7" y="1062.1" width="6" height="6"/><rect x="400.0" y="1071.6" width="6" height="6"/><rect x="400.6" y="1069.1" width="6" height="6"/><rect x="400.8" y="1073.5" width="6" height="6"/><rect x="402.0" y="1068.1" width="6" height="6"/><rect x="401.8" y="1064.7" width="6" height="6"/><rect x="402.4" y="1063.2" width="6" height="6"/><rect x="403.1" y="1066.0" width="6" height="6"/><rect x="403.2" y="1065.5" width="6" height="6"/><rect x="403.3" y="1063.9" width="6" height="6"/><rect x="403.1" y="1066.8" width="6" height="6"/><rect x="404.9" y="1068.8" width="6" height="6"/><rect x="404.7" y="1068.5" width="6" height="6"/><rect x="404.7" y="1068.8" width="6" height="6"/><rect x="405.5" y="1064.9" width="6" height="6"/><rect x="405.6" y="1062.3" width="6" height="6"/><rect x="406.2" y="1066.8" width="6" height="6"/><rect x="407.2" y="1069.5" width="6" height="6"/><rect x="406.9" y="1070.1" width="6" height="6"/><rect x="407.5" y="1056.1" width="6" height="6"/><rect x="408.2" y="1067.9" width="6" height="6"/><rect x="408.5" y="1071.3" width="6" height="6"/><rect x="408.6" y="1072.1" width="6" height="6"/><rect x="409.7" y="1069.5" width="6" height="6"/><rect x="410.3" y="1064.3" width="6" height="6"/><rect x="409.7" y="1059.8" width="6" height="6"/><rect x="410.2" y="1064.8" width="6" height="6"/><rect x="411.3" y="1069.8" width="6" height="6"/><rect x="411.3" y="1060.9" width="6" height="6"/><rect x="411.7" y="1065.6" width="6" height="6"/><rect x="412.2" y="1065.7" width="6" height="6"/><rect x="412.7" y="1071.5" width="6" height="6"/><rect x="412.4" y="1070.1" width="6" height="6"/><rect x="413.3" y="1067.7" width="6" height="6"/><rect x="413.8" y="1063.5" width="6" height="6"/><rect x="413.8" y="1065.9" width="6" height="6"/><rect x="414.5" y="1065.5" width="6" height="6"/><rect x="414.6" y="1065.9" width="6" height="6"/><rect x="415.6" y="1059.9" width="6" height="6"/><rect x="415.7" y="1064.3" width="6" height="6"/><rect x="416.4" y="1068.4" width="6" height="6"/><rect x="416.3" y="1072.9" width="6" height="6"/><rect x="417.1" y="1068.5" width="6" height="6"/><rect x="417.8" y="1068.6" width="6" height="6"/><rect x="418.3" y="1074.9" width="6" height="6"/><rect x="418.5" y="1065.9" width="6" height="6"/><rect x="418.9" y="1069.5" width="6" height="6"/><rect x="419.0" y="1068.7" width="6" height="6"/><rect x="419.5" y="1073.7" width="6" height="6"/><rect x="419.0" y="1066.8" width="6" height="6"/><rect x="420.0" y="1067.8" width="6" height="6"/><rect x="420.2" y="1063.8" width="6" height="6"/><rect x="421.4" y="1066.6" width="6" height="6"/><rect x="422.1" y="1071.2" width="6" height="6"/><rect x="421.6" y="1066.4" width="6" height="6"/><rect x="421.4" y="1073.3" width="6" height="6"/><rect x="422.4" y="1063.3" width="6" height="6"/><rect x="423.4" y="1070.1" width="6" height="6"/><rect x="423.4" y="1064.5" width="6" height="6"/><rect x="423.0" y="1073.8" width="6" height="6"/><rect x="424.1" y="1063.4" width="6" height="6"/><rect x="425.3" y="1068.6" width="6" height="6"/><rect x="425.1" y="1069.3" width="6" height="6"/><rect x="425.6" y="1058.2" width="6" height="6"/><rect x="425.4" y="1069.9" width="6" height="6"/><rect x="425.7" y="1062.3" width="6" height="6"/><rect x="427.2" y="1063.9" width="6" height="6"/><rect x="427.3" y="1067.9" width="6" height="6"/><rect x="428.0" y="1067.2" width="6" height="6"/><rect x="427.5" y="1066.3" width="6" height="6"/><rect x="428.3" y="1065.9" width="6" height="6"/><rect x="428.5" y="1070.1" width="6" height="6"/><rect x="428.7" y="1072.7" width="6" height="6"/><rect x="428.7" y="1064.7" width="6" height="6"/><rect x="429.8" y="1066.3" width="6" height="6"/><rect x="430.8" y="1070.1" width="6" height="6"/><rect x="430.4" y="1064.6" width="6" height="6"/><rect x="431.4" y="1066.7" width="6" height="6"/><rect x="431.5" y="1074.3" width="6" height="6"/><rect x="432.0" y="1068.6" width="6" height="6"/><rect x="432.0" y="1058.5" width="6" height="6"/><rect x="432.2" y="1069.1" width="6" height="6"/><rect x="433.3" y="1066.7" width="6" height="6"/><rect x="434.1" y="1078.2" width="6" height="6"/><rect x="432.8" y="1060.7" width="6" height="6"/><rect x="434.5" y="1074.1" width="6" height="6"/><rect x="435.2" y="1067.2" width="6" height="6"/><rect x="435.6" y="1068.8" width="6" height="6"/><rect x="435.7" y="1073.5" width="6" height="6"/><rect x="435.7" y="1069.4" width="6" height="6"/><rect x="436.2" y="1075.2" width="6" height="6"/><rect x="436.5" y="1061.7" width="6" height="6"/><rect x="437.2" y="1068.6" width="6" height="6"/><rect x="437.7" y="1071.7" width="6" height="6"/><rect x="437.9" y="1065.2" width="6" height="6"/><rect x="439.0" y="1075.6" width="6" height="6"/><rect x="438.8" y="1067.4" width="6" height="6"/><rect x="438.9" y="1068.5" width="6" height="6"/><rect x="439.6" y="1074.7" width="6" height="6"/><rect x="440.4" y="1066.9" width="6" height="6"/><rect x="440.1" y="1060.5" width="6" height="6"/><rect x="440.8" y="1060.7" width="6" height="6"/><rect x="440.8" y="1065.1" width="6" height="6"/><rect x="441.2" y="1066.1" width="6" height="6"/><rect x="441.5" y="1064.7" width="6" height="6"/><rect x="442.2" y="1067.4" width="6" height="6"/><rect x="442.9" y="1066.1" width="6" height="6"/><rect x="443.0" y="1066.9" width="6" height="6"/><rect x="443.9" y="1063.9" width="6" height="6"/><rect x="444.3" y="1071.0" width="6" height="6"/><rect x="444.5" y="1070.4" width="6" height="6"/><rect x="444.8" y="1068.0" width="6" height="6"/><rect x="444.5" y="1064.2" width="6" height="6"/><rect x="444.9" y="1062.1" width="6" height="6"/><rect x="446.3" y="1062.2" width="6" height="6"/><rect x="446.6" y="1073.9" width="6" height="6"/><rect x="446.4" y="1068.9" width="6" height="6"/><rect x="447.7" y="1062.3" width="6" height="6"/><rect x="448.4" y="1065.9" width="6" height="6"/><rect x="448.0" y="1066.8" width="6" height="6"/><rect x="448.2" y="1061.8" width="6" height="6"/><rect x="449.4" y="1064.0" width="6" height="6"/><rect x="449.4" y="1066.5" width="6" height="6"/><rect x="449.8" y="1065.3" width="6" height="6"/><rect x="448.7" y="1070.4" width="6" height="6"/><rect x="449.9" y="1069.6" width="6" height="6"/><rect x="450.8" y="1063.2" width="6" height="6"/><rect x="451.7" y="1066.4" width="6" height="6"/><rect x="451.4" y="1063.0" width="6" height="6"/><rect x="452.5" y="1058.1" width="6" height="6"/><rect x="452.2" y="1064.7" width="6" height="6"/><rect x="453.2" y="1058.7" width="6" height="6"/><rect x="453.3" y="1062.6" width="6" height="6"/><rect x="454.4" y="1059.2" width="6" height="6"/><rect x="455.0" y="1067.9" width="6" height="6"/><rect x="454.9" y="1072.0" width="6" height="6"/><rect x="455.3" y="1064.7" width="6" height="6"/><rect x="455.2" y="1070.6" width="6" height="6"/><rect x="456.2" y="1063.4" width="6" height="6"/><rect x="456.1" y="1067.9" width="6" height="6"/><rect x="457.1" y="1069.9" width="6" height="6"/><rect x="456.8" y="1068.4" width="6" height="6"/><rect x="456.7" y="1076.0" width="6" height="6"/><rect x="457.0" y="1072.7" width="6" height="6"/><rect x="458.1" y="1069.7" width="6" height="6"/><rect x="458.4" y="1072.3" width="6" height="6"/><rect x="458.3" y="1068.5" width="6" height="6"/><rect x="458.3" y="1065.0" width="6" height="6"/><rect x="459.2" y="1059.7" width="6" height="6"/><rect x="460.1" y="1068.0" width="6" height="6"/><rect x="460.3" y="1066.5" width="6" height="6"/><rect x="460.4" y="1065.8" width="6" height="6"/><rect x="461.3" y="1064.9" width="6" height="6"/><rect x="462.2" y="1066.5" width="6" height="6"/><rect x="462.0" y="1073.3" width="6" height="6"/><rect x="462.6" y="1071.4" width="6" height="6"/><rect x="463.3" y="1067.5" width="6" height="6"/><rect x="463.4" y="1067.2" width="6" height="6"/><rect x="464.3" y="1065.8" width="6" height="6"/><rect x="465.1" y="1064.0" width="6" height="6"/><rect x="464.8" y="1070.9" width="6" height="6"/><rect x="464.8" y="1074.0" width="6" height="6"/><rect x="466.0" y="1065.5" width="6" height="6"/><rect x="466.1" y="1070.3" width="6" height="6"/><rect x="466.5" y="1067.9" width="6" height="6"/><rect x="466.5" y="1067.3" width="6" height="6"/><rect x="466.5" y="1077.9" width="6" height="6"/><rect x="467.5" y="1066.6" width="6" height="6"/><rect x="467.9" y="1059.2" width="6" height="6"/><rect x="467.8" y="1064.3" width="6" height="6"/><rect x="468.8" y="1074.2" width="6" height="6"/><rect x="469.3" y="1061.0" width="6" height="6"/><rect x="469.7" y="1069.6" width="6" height="6"/><rect x="470.1" y="1065.6" width="6" height="6"/><rect x="469.9" y="1068.1" width="6" height="6"/><rect x="470.5" y="1073.1" width="6" height="6"/><rect x="470.6" y="1068.8" width="6" height="6"/><rect x="471.8" y="1061.4" width="6" height="6"/><rect x="472.3" y="1070.5" width="6" height="6"/><rect x="472.5" y="1057.8" width="6" height="6"/><rect x="473.2" y="1067.3" width="6" height="6"/><rect x="472.9" y="1074.1" width="6" height="6"/><rect x="473.9" y="1071.6" width="6" height="6"/><rect x="474.1" y="1075.5" width="6" height="6"/><rect x="474.3" y="1070.3" width="6" height="6"/><rect x="475.4" y="1070.7" width="6" height="6"/><rect x="474.7" y="1072.0" width="6" height="6"/><rect x="475.4" y="1067.0" width="6" height="6"/><rect x="476.0" y="1066.1" width="6" height="6"/><rect x="476.4" y="1068.2" width="6" height="6"/><rect x="476.0" y="1075.6" width="6" height="6"/><rect x="476.7" y="1059.7" width="6" height="6"/><rect x="477.2" y="1066.1" width="6" height="6"/><rect x="477.9" y="1068.7" width="6" height="6"/><rect x="478.4" y="1062.2" width="6" height="6"/><rect x="478.3" y="1074.9" width="6" height="6"/><rect x="479.6" y="1067.1" width="6" height="6"/><rect x="480.5" y="1059.8" width="6" height="6"/><rect x="480.0" y="1074.5" width="6" height="6"/><rect x="480.6" y="1073.6" width="6" height="6"/><rect x="480.1" y="1065.0" width="6" height="6"/><rect x="481.6" y="1064.7" width="6" height="6"/><rect x="481.4" y="1069.5" width="6" height="6"/><rect x="482.0" y="1061.3" width="6" height="6"/><rect x="482.5" y="1073.1" width="6" height="6"/><rect x="483.2" y="1064.0" width="6" height="6"/><rect x="482.7" y="1076.8" width="6" height="6"/><rect x="483.8" y="1070.2" width="6" height="6"/><rect x="483.6" y="1067.8" width="6" height="6"/><rect x="484.7" y="1064.5" width="6" height="6"/><rect x="484.5" y="1075.2" width="6" height="6"/><rect x="484.7" y="1068.9" width="6" height="6"/><rect x="485.8" y="1068.3" width="6" height="6"/><rect x="486.4" y="1070.3" width="6" height="6"/><rect x="486.3" y="1060.7" width="6" height="6"/><rect x="486.8" y="1066.4" width="6" height="6"/><rect x="487.8" y="1061.9" width="6" height="6"/><rect x="487.5" y="1068.4" width="6" height="6"/><rect x="488.1" y="1065.1" width="6" height="6"/><rect x="488.2" y="1073.7" width="6" height="6"/><rect x="489.8" y="1069.1" width="6" height="6"/><rect x="489.9" y="1063.8" width="6" height="6"/><rect x="490.3" y="1064.4" width="6" height="6"/><rect x="489.7" y="1062.0" width="6" height="6"/><rect x="490.8" y="1065.8" width="6" height="6"/><rect x="491.2" y="1066.3" width="6" height="6"/><rect x="491.5" y="1079.2" width="6" height="6"/><rect x="492.2" y="1074.3" width="6" height="6"/><rect x="492.1" y="1070.7" width="6" height="6"/><rect x="491.8" y="1068.7" width="6" height="6"/><rect x="492.5" y="1069.2" width="6" height="6"/><rect x="493.2" y="1064.4" width="6" height="6"/><rect x="494.3" y="1073.4" width="6" height="6"/><rect x="493.8" y="1069.8" width="6" height="6"/><rect x="494.6" y="1069.0" width="6" height="6"/><rect x="494.6" y="1067.5" width="6" height="6"/><rect x="495.6" y="1064.0" width="6" height="6"/><rect x="496.1" y="1061.6" width="6" height="6"/><rect x="496.7" y="1072.7" width="6" height="6"/><rect x="496.7" y="1069.6" width="6" height="6"/><rect x="496.6" y="1079.0" width="6" height="6"/><rect x="497.9" y="1062.7" width="6" height="6"/><rect x="498.0" y="1076.0" width="6" height="6"/><rect x="498.8" y="1067.1" width="6" height="6"/><rect x="498.0" y="1073.2" width="6" height="6"/><rect x="498.8" y="1067.2" width="6" height="6"/><rect x="499.1" y="1071.0" width="6" height="6"/><rect x="499.6" y="1063.2" width="6" height="6"/><rect x="500.6" y="1064.4" width="6" height="6"/><rect x="501.1" y="1071.3" width="6" height="6"/><rect x="501.3" y="1063.1" width="6" height="6"/><rect x="501.8" y="1069.5" width="6" height="6"/><rect x="502.1" y="1071.7" width="6" height="6"/><rect x="501.8" y="1062.0" width="6" height="6"/><rect x="503.0" y="1076.2" width="6" height="6"/><rect x="503.0" y="1072.3" width="6" height="6"/><rect x="503.3" y="1067.9" width="6" height="6"/><rect x="503.6" y="1068.0" width="6" height="6"/><rect x="504.3" y="1070.8" width="6" height="6"/><rect x="504.6" y="1066.2" width="6" height="6"/><rect x="505.4" y="1067.1" width="6" height="6"/><rect x="505.5" y="1066.4" width="6" height="6"/><rect x="505.7" y="1063.0" width="6" height="6"/><rect x="506.8" y="1064.1" width="6" height="6"/><rect x="506.6" y="1064.7" width="6" height="6"/><rect x="507.4" y="1064.4" width="6" height="6"/><rect x="507.5" y="1073.3" width="6" height="6"/><rect x="508.2" y="1074.1" width="6" height="6"/></g>
<line x1="95.9" y1="1093.6" x2="511.0" y2="1093.6" stroke="#000" stroke-width="2.4" stroke-dasharray="2.6,2.6"/>
<line x1="105.2" y1="853.1" x2="105.2" y2="1117.0" stroke="#0a0af0" stroke-width="3"/>
<path d="M105.6,994.1 L108.6,996.4 L111.6,998.6 L114.6,1000.9 L117.6,1003.0 L120.6,1005.2 L123.6,1007.3 L126.6,1009.3 L129.6,1011.3 L132.6,1013.3 L135.6,1015.3 L138.6,1017.2 L141.6,1019.0 L144.6,1020.8 L147.6,1022.6 L150.6,1024.3 L153.6,1026.0 L156.6,1027.7 L159.6,1029.3 L162.6,1030.9 L165.6,1032.4 L168.6,1033.9 L171.6,1035.4 L174.6,1036.8 L177.6,1038.1 L180.6,1039.5 L183.6,1040.8 L186.6,1042.1 L189.6,1043.3 L192.6,1044.5 L195.6,1045.7 L198.6,1046.8 L201.6,1047.9 L204.6,1049.0 L207.6,1050.0 L210.6,1051.0 L213.6,1052.0 L216.6,1052.9 L219.6,1053.8 L222.6,1054.7 L225.6,1055.6 L228.6,1056.4 L231.6,1057.2 L234.6,1058.0 L237.6,1058.8 L240.6,1059.5 L243.6,1060.2 L246.6,1060.9 L249.6,1061.6 L252.6,1062.2 L255.6,1062.8 L258.6,1063.4 L261.6,1064.0 L264.6,1064.6 L267.6,1065.1 L270.6,1065.7 L273.6,1066.2 L276.6,1066.7 L279.6,1067.2 L282.6,1067.6 L285.6,1068.1 L288.6,1068.5 L291.6,1068.9 L294.6,1069.3 L297.6,1069.7 L300.6,1070.1 L303.6,1070.4 L306.6,1070.8 L309.6,1071.1 L312.6,1071.5 L315.6,1071.8 L318.6,1072.1 L321.6,1072.4 L324.6,1072.7 L327.6,1072.9 L330.6,1073.2 L333.6,1073.4 L336.6,1073.7 L339.6,1073.9 L342.6,1074.2 L345.6,1074.4 L348.6,1074.6 L351.6,1074.8 L354.6,1075.0 L357.6,1075.2 L360.6,1075.4 L363.6,1075.5 L366.6,1075.7 L369.6,1075.9 L372.6,1076.0 L375.6,1076.2 L378.6,1076.3 L381.6,1076.5 L384.6,1076.6 L387.6,1076.8 L390.6,1076.9 L393.6,1077.0 L396.6,1077.1 L399.6,1077.2 L402.6,1077.4 L405.6,1077.5 L408.6,1077.6 L411.6,1077.7 L414.6,1077.8 L417.6,1077.8 L420.6,1077.9 L423.6,1078.0 L426.6,1078.1 L429.6,1078.2 L432.6,1078.3 L435.6,1078.3 L438.6,1078.4 L441.6,1078.5 L444.6,1078.5 L447.6,1078.6 L450.6,1078.6 L453.6,1078.7 L456.6,1078.8 L459.6,1078.8 L462.6,1078.9 L465.6,1078.9 L468.6,1079.0 L471.6,1079.0 L474.6,1079.1 L477.6,1079.1 L480.6,1079.1 L483.6,1079.2 L486.6,1079.2 L489.6,1079.3 L492.6,1079.3 L495.6,1079.3 L498.6,1079.4 L501.6,1079.4 L504.6,1079.4 L507.6,1079.4 L510.6,1079.5 L511.0,1079.5" fill="none" stroke="#0a0af0" stroke-width="3.4" stroke-linejoin="round"/>
<rect x="95.9" y="806.8" width="415.1" height="310.2" fill="none" stroke="#3a3a3a" stroke-width="1.4"/>
<line x1="89.7" y1="1093.2" x2="95.9" y2="1093.2" stroke="#3a3a3a" stroke-width="1.4" />
<line x1="92.3" y1="1045.47" x2="95.9" y2="1045.47" stroke="#3a3a3a" stroke-width="1.4" />
<line x1="89.7" y1="997.74" x2="95.9" y2="997.74" stroke="#3a3a3a" stroke-width="1.4" />
<line x1="92.3" y1="950.01" x2="95.9" y2="950.01" stroke="#3a3a3a" stroke-width="1.4" />
<line x1="89.7" y1="902.28" x2="95.9" y2="902.28" stroke="#3a3a3a" stroke-width="1.4" />
<line x1="92.3" y1="854.55" x2="95.9" y2="854.55" stroke="#3a3a3a" stroke-width="1.4" />
<line x1="89.7" y1="806.82" x2="95.9" y2="806.82" stroke="#3a3a3a" stroke-width="1.4" />
<line x1="106" y1="1117" x2="106" y2="1122.6" stroke="#3a3a3a" stroke-width="1.4" />
<line x1="156.62" y1="1117" x2="156.62" y2="1120.2" stroke="#3a3a3a" stroke-width="1.4" />
<line x1="207.25" y1="1117" x2="207.25" y2="1122.6" stroke="#3a3a3a" stroke-width="1.4" />
<line x1="257.88" y1="1117" x2="257.88" y2="1120.2" stroke="#3a3a3a" stroke-width="1.4" />
<line x1="308.5" y1="1117" x2="308.5" y2="1122.6" stroke="#3a3a3a" stroke-width="1.4" />
<line x1="359.12" y1="1117" x2="359.12" y2="1120.2" stroke="#3a3a3a" stroke-width="1.4" />
<line x1="409.75" y1="1117" x2="409.75" y2="1122.6" stroke="#3a3a3a" stroke-width="1.4" />
<line x1="460.38" y1="1117" x2="460.38" y2="1120.2" stroke="#3a3a3a" stroke-width="1.4" />
<line x1="511" y1="1117" x2="511" y2="1122.6" stroke="#3a3a3a" stroke-width="1.4" />
<text transform="translate(75.78,1098.4) scale(1.0400,1)" font-family='"Liberation Sans", sans-serif' font-size="17.606" fill="#000" >0</text>
<text transform="translate(45.2,1002.94) scale(1.0400,1)" font-family='"Liberation Sans", sans-serif' font-size="17.606" fill="#000" >2000</text>
<text transform="translate(45.2,907.48) scale(1.0400,1)" font-family='"Liberation Sans", sans-serif' font-size="17.606" fill="#000" >4000</text>
<text transform="translate(45.2,812.02) scale(1.0400,1)" font-family='"Liberation Sans", sans-serif' font-size="17.606" fill="#000" >6000</text>
<text transform="translate(100.87,1140.8) scale(1.0400,1)" font-family='"Liberation Sans", sans-serif' font-size="17.606" fill="#000" >0</text>
<text transform="translate(191.96,1140.8) scale(1.0400,1)" font-family='"Liberation Sans", sans-serif' font-size="17.606" fill="#000" >500</text>
<text transform="translate(287.76,1140.8) scale(1.0400,1)" font-family='"Liberation Sans", sans-serif' font-size="17.606" fill="#000" >1000</text>
<text transform="translate(389.01,1140.8) scale(1.0400,1)" font-family='"Liberation Sans", sans-serif' font-size="17.606" fill="#000" >1500</text>
<text transform="translate(490.49,1140.8) scale(1.0400,1)" font-family='"Liberation Sans", sans-serif' font-size="17.606" fill="#000" >2000</text>
<text transform="translate(253.22,1174.89) scale(1.0486,1)" font-family='"Liberation Sans", sans-serif' font-size="22.888" fill="#000" >Time (ns)</text>
<text transform="translate(32.56,1002.7) scale(1.0113,1) rotate(-90)" font-family='"Liberation Sans", sans-serif' font-size="23.955" fill="#000">Counts</text>
<text transform="translate(12.65,842.28) scale(1.0313,1)" font-family='"Liberation Sans", sans-serif' font-size="42.449" fill="#000" >d</text>
<text transform="translate(128.3,832.5) scale(1.04,1)" font-family='"Liberation Serif", serif' font-size="17.9" fill="#000">τ<tspan font-size="11.81" dy="3.6">1</tspan><tspan dy="-3.6"> = 2.44 µs, 75%</tspan></text>
<text transform="translate(128.3,858.6) scale(1.04,1)" font-family='"Liberation Serif", serif' font-size="17.9" fill="#000">τ<tspan font-size="11.81" dy="3.6">2</tspan><tspan dy="-3.6"> = 258 ns, 14%</tspan></text>
<text transform="translate(128.3,883.9) scale(1.04,1)" font-family='"Liberation Serif", serif' font-size="17.9" fill="#000">τ<tspan font-size="11.81" dy="3.6">3</tspan><tspan dy="-3.6"> = 139 ns, 8.6%</tspan></text>
<text transform="translate(128.3,910.3) scale(1.04,1)" font-family='"Liberation Serif", serif' font-size="17.9" fill="#000">τ<tspan font-size="11.81" dy="3.6">4</tspan><tspan dy="-3.6"> = 31 ns, 2.5%</tspan></text>
<text transform="translate(128.3,936.1) scale(1.04,1)" font-family='"Liberation Serif", serif' font-size="17.9" fill="#000">X<tspan font-size="12.53" dy="-5.2">2</tspan><tspan dy="5.2"> = 0.998</tspan></text>
<rect x="411.4" y="814.7" width="90.1" height="59.6" fill="#fff" stroke="#3a3a3a" stroke-width="1.3" />
<text transform="translate(416.1,830.56) scale(1.0000,1)" font-family='"Liberation Sans", sans-serif' font-size="14.366" fill="#000"  letter-spacing="0.942">Au NCs</text>
<text transform="translate(452.27,848.84) scale(1.0000,1)" font-family='"Liberation Sans", sans-serif' font-size="14.111" fill="#000"  letter-spacing="1.306">Decay</text>
<text transform="translate(452.32,868.57) scale(1.0000,1)" font-family='"Liberation Sans", sans-serif' font-size="13.469" fill="#000"  letter-spacing="1.297">Fit</text>
<rect x="429.2" y="842" width="6.2" height="6.2" fill="#ff82f5" />
<line x1="417.1" y1="864.5" x2="448.1" y2="864.5" stroke="#0a0af0" stroke-width="3.6" stroke-linecap="round"/>
<defs><clipPath id="clip5"><rect x="623.6" y="806.8" width="413.6" height="310.2"/></clipPath></defs>
<g fill="#0af4f4" clip-path="url(#clip5)"><rect x="630.6" y="1058.9" width="6" height="6"/><rect x="631.0" y="1034.7" width="6" height="6"/><rect x="632.1" y="1039.4" width="6" height="6"/><rect x="631.7" y="1035.5" width="6" height="6"/><rect x="632.2" y="1017.5" width="6" height="6"/><rect x="632.6" y="1016.1" width="6" height="6"/><rect x="633.4" y="825.7" width="6" height="6"/><rect x="633.2" y="864.6" width="6" height="6"/><rect x="634.7" y="870.1" width="6" height="6"/><rect x="634.6" y="907.7" width="6" height="6"/><rect x="634.4" y="920.2" width="6" height="6"/><rect x="635.0" y="932.6" width="6" height="6"/><rect x="635.8" y="930.8" width="6" height="6"/><rect x="635.8" y="945.9" width="6" height="6"/><rect x="636.3" y="953.5" width="6" height="6"/><rect x="636.5" y="954.2" width="6" height="6"/><rect x="637.1" y="964.6" width="6" height="6"/><rect x="637.7" y="969.1" width="6" height="6"/><rect x="638.5" y="971.1" width="6" height="6"/><rect x="639.0" y="976.0" width="6" height="6"/><rect x="638.6" y="980.1" width="6" height="6"/><rect x="639.3" y="979.7" width="6" height="6"/><rect x="640.1" y="980.6" width="6" height="6"/><rect x="640.2" y="976.5" width="6" height="6"/><rect x="640.3" y="988.0" width="6" height="6"/><rect x="640.9" y="977.8" width="6" height="6"/><rect x="640.9" y="997.3" width="6" height="6"/><rect x="642.1" y="993.6" width="6" height="6"/><rect x="642.9" y="991.6" width="6" height="6"/><rect x="642.4" y="987.6" width="6" height="6"/><rect x="643.2" y="995.9" width="6" height="6"/><rect x="642.9" y="995.6" width="6" height="6"/><rect x="643.6" y="991.1" width="6" height="6"/><rect x="644.0" y="987.9" width="6" height="6"/><rect x="644.7" y="1015.8" width="6" height="6"/><rect x="645.4" y="1010.1" width="6" height="6"/><rect x="645.1" y="986.2" width="6" height="6"/><rect x="645.1" y="1006.9" width="6" height="6"/><rect x="645.9" y="994.1" width="6" height="6"/><rect x="646.3" y="1004.7" width="6" height="6"/><rect x="647.0" y="987.5" width="6" height="6"/><rect x="647.6" y="997.0" width="6" height="6"/><rect x="648.1" y="995.7" width="6" height="6"/><rect x="648.0" y="1007.7" width="6" height="6"/><rect x="648.2" y="1008.5" width="6" height="6"/><rect x="648.7" y="996.3" width="6" height="6"/><rect x="649.0" y="1004.9" width="6" height="6"/><rect x="650.0" y="1008.8" width="6" height="6"/><rect x="649.9" y="1008.3" width="6" height="6"/><rect x="650.7" y="1002.5" width="6" height="6"/><rect x="650.9" y="1001.0" width="6" height="6"/><rect x="651.5" y="1018.4" width="6" height="6"/><rect x="652.1" y="1003.8" width="6" height="6"/><rect x="653.1" y="1013.2" width="6" height="6"/><rect x="652.8" y="1016.3" width="6" height="6"/><rect x="652.7" y="1008.1" width="6" height="6"/><rect x="653.2" y="1003.4" width="6" height="6"/><rect x="653.2" y="1024.9" width="6" height="6"/><rect x="655.0" y="1006.7" width="6" height="6"/><rect x="654.5" y="1020.0" width="6" height="6"/><rect x="655.1" y="1000.9" width="6" height="6"/><rect x="654.7" y="1013.5" width="6" height="6"/><rect x="655.4" y="1023.3" width="6" height="6"/><rect x="655.2" y="1014.3" width="6" height="6"/><rect x="656.6" y="1023.5" width="6" height="6"/><rect x="656.6" y="1015.4" width="6" height="6"/><rect x="657.0" y="1015.7" width="6" height="6"/><rect x="658.4" y="1007.2" width="6" height="6"/><rect x="658.4" y="1000.0" width="6" height="6"/><rect x="659.1" y="1009.2" width="6" height="6"/><rect x="659.5" y="1003.0" width="6" height="6"/><rect x="659.1" y="1006.9" width="6" height="6"/><rect x="660.1" y="1026.1" width="6" height="6"/><rect x="660.1" y="1016.4" width="6" height="6"/><rect x="660.0" y="1022.1" width="6" height="6"/><rect x="661.1" y="1007.2" width="6" height="6"/><rect x="661.5" y="1024.1" width="6" height="6"/><rect x="662.0" y="1015.3" width="6" height="6"/><rect x="662.2" y="1002.8" width="6" height="6"/><rect x="662.6" y="1026.7" width="6" height="6"/><rect x="663.2" y="1022.8" width="6" height="6"/><rect x="663.5" y="1017.5" width="6" height="6"/><rect x="663.9" y="1023.0" width="6" height="6"/><rect x="664.4" y="1022.9" width="6" height="6"/><rect x="664.1" y="1021.7" width="6" height="6"/><rect x="664.7" y="1016.5" width="6" height="6"/><rect x="665.6" y="1010.3" width="6" height="6"/><rect x="665.8" y="1017.0" width="6" height="6"/><rect x="665.2" y="1020.7" width="6" height="6"/><rect x="666.3" y="1012.3" width="6" height="6"/><rect x="666.8" y="1014.2" width="6" height="6"/><rect x="667.3" y="1021.7" width="6" height="6"/><rect x="667.7" y="1027.8" width="6" height="6"/><rect x="668.1" y="1017.9" width="6" height="6"/><rect x="668.4" y="1029.6" width="6" height="6"/><rect x="669.5" y="1019.7" width="6" height="6"/><rect x="669.5" y="1015.9" width="6" height="6"/><rect x="670.2" y="1028.3" width="6" height="6"/><rect x="670.1" y="1021.6" width="6" height="6"/><rect x="670.9" y="1015.8" width="6" height="6"/><rect x="670.6" y="1018.7" width="6" height="6"/><rect x="670.8" y="1026.3" width="6" height="6"/><rect x="671.9" y="1021.1" width="6" height="6"/><rect x="672.3" y="1016.3" width="6" height="6"/><rect x="673.5" y="1025.1" width="6" height="6"/><rect x="672.5" y="1029.6" width="6" height="6"/><rect x="673.7" y="1027.0" width="6" height="6"/><rect x="673.7" y="1025.4" width="6" height="6"/><rect x="674.9" y="1030.7" width="6" height="6"/><rect x="674.2" y="1027.5" width="6" height="6"/><rect x="674.8" y="1024.3" width="6" height="6"/><rect x="676.0" y="1025.1" width="6" height="6"/><rect x="675.9" y="1026.7" width="6" height="6"/><rect x="676.2" y="1026.3" width="6" height="6"/><rect x="676.9" y="1018.5" width="6" height="6"/><rect x="676.7" y="1026.4" width="6" height="6"/><rect x="677.8" y="1025.1" width="6" height="6"/><rect x="677.8" y="1024.5" width="6" height="6"/><rect x="678.7" y="1036.6" width="6" height="6"/><rect x="678.2" y="1034.6" width="6" height="6"/><rect x="679.1" y="1027.3" width="6" height="6"/><rect x="679.2" y="1024.6" width="6" height="6"/><rect x="679.7" y="1027.1" width="6" height="6"/><rect x="680.2" y="1037.2" width="6" height="6"/><rect x="680.9" y="1029.9" width="6" height="6"/><rect x="681.5" y="1026.3" width="6" height="6"/><rect x="681.9" y="1020.8" width="6" height="6"/><rect x="682.2" y="1017.5" width="6" height="6"/><rect x="682.9" y="1026.9" width="6" height="6"/><rect x="682.7" y="1032.1" width="6" height="6"/><rect x="683.0" y="1020.2" width="6" height="6"/><rect x="683.2" y="1021.3" width="6" height="6"/><rect x="684.2" y="1029.8" width="6" height="6"/><rect x="684.8" y="1021.6" width="6" height="6"/><rect x="684.9" y="1026.9" width="6" height="6"/><rect x="685.3" y="1022.4" width="6" height="6"/><rect x="685.3" y="1035.4" width="6" height="6"/><rect x="685.5" y="1017.2" width="6" height="6"/><rect x="686.2" y="1022.7" width="6" height="6"/><rect x="686.5" y="1020.3" width="6" height="6"/><rect x="686.4" y="1026.8" width="6" height="6"/><rect x="688.0" y="1027.5" width="6" height="6"/><rect x="688.5" y="1037.4" width="6" height="6"/><rect x="688.4" y="1032.3" width="6" height="6"/><rect x="689.2" y="1046.1" width="6" height="6"/><rect x="689.0" y="1033.5" width="6" height="6"/><rect x="689.2" y="1036.3" width="6" height="6"/><rect x="689.8" y="1020.3" width="6" height="6"/><rect x="690.3" y="1022.0" width="6" height="6"/><rect x="690.6" y="1025.8" width="6" height="6"/><rect x="692.2" y="1025.4" width="6" height="6"/><rect x="691.8" y="1024.0" width="6" height="6"/><rect x="692.4" y="1031.6" width="6" height="6"/><rect x="691.7" y="1019.5" width="6" height="6"/><rect x="693.7" y="1037.9" width="6" height="6"/><rect x="693.3" y="1025.9" width="6" height="6"/><rect x="694.1" y="1025.1" width="6" height="6"/><rect x="693.9" y="1023.6" width="6" height="6"/><rect x="694.4" y="1015.3" width="6" height="6"/><rect x="694.6" y="1035.0" width="6" height="6"/><rect x="695.1" y="1030.1" width="6" height="6"/><rect x="695.8" y="1030.6" width="6" height="6"/><rect x="695.7" y="1051.4" width="6" height="6"/><rect x="696.7" y="1023.2" width="6" height="6"/><rect x="696.6" y="1034.2" width="6" height="6"/><rect x="697.2" y="1022.1" width="6" height="6"/><rect x="698.4" y="1033.4" width="6" height="6"/><rect x="698.3" y="1032.4" width="6" height="6"/><rect x="698.5" y="1030.3" width="6" height="6"/><rect x="698.5" y="1036.5" width="6" height="6"/><rect x="698.8" y="1021.8" width="6" height="6"/><rect x="699.2" y="1028.5" width="6" height="6"/><rect x="700.1" y="1032.0" width="6" height="6"/><rect x="700.9" y="1041.4" width="6" height="6"/><rect x="701.4" y="1031.8" width="6" height="6"/><rect x="701.7" y="1036.9" width="6" height="6"/><rect x="701.8" y="1015.2" width="6" height="6"/><rect x="702.3" y="1035.2" width="6" height="6"/><rect x="702.4" y="1030.0" width="6" height="6"/><rect x="702.7" y="1031.8" width="6" height="6"/><rect x="703.2" y="1028.3" width="6" height="6"/><rect x="704.0" y="1036.9" width="6" height="6"/><rect x="705.2" y="1032.4" width="6" height="6"/><rect x="704.2" y="1033.0" width="6" height="6"/><rect x="705.1" y="1035.1" width="6" height="6"/><rect x="704.8" y="1036.2" width="6" height="6"/><rect x="705.2" y="1020.7" width="6" height="6"/><rect x="706.2" y="1021.6" width="6" height="6"/><rect x="707.2" y="1038.9" width="6" height="6"/><rect x="706.5" y="1033.2" width="6" height="6"/><rect x="707.9" y="1031.5" width="6" height="6"/><rect x="708.1" y="1027.5" width="6" height="6"/><rect x="708.2" y="1020.4" width="6" height="6"/><rect x="708.5" y="1029.7" width="6" height="6"/><rect x="708.9" y="1042.0" width="6" height="6"/><rect x="708.7" y="1021.5" width="6" height="6"/><rect x="709.9" y="1023.5" width="6" height="6"/><rect x="710.2" y="1038.6" width="6" height="6"/><rect x="710.3" y="1020.7" width="6" height="6"/><rect x="711.4" y="1027.4" width="6" height="6"/><rect x="711.6" y="1038.8" width="6" height="6"/><rect x="711.6" y="1029.3" width="6" height="6"/><rect x="712.0" y="1028.3" width="6" height="6"/><rect x="712.1" y="1036.9" width="6" height="6"/><rect x="712.8" y="1030.5" width="6" height="6"/><rect x="712.9" y="1036.9" width="6" height="6"/><rect x="713.5" y="1042.4" width="6" height="6"/><rect x="713.9" y="1028.4" width="6" height="6"/><rect x="714.8" y="1023.7" width="6" height="6"/><rect x="714.5" y="1032.4" width="6" height="6"/><rect x="714.8" y="1020.5" width="6" height="6"/><rect x="716.5" y="1030.0" width="6" height="6"/><rect x="715.9" y="1035.0" width="6" height="6"/><rect x="717.0" y="1033.9" width="6" height="6"/><rect x="717.3" y="1024.8" width="6" height="6"/><rect x="717.2" y="1041.1" width="6" height="6"/><rect x="717.3" y="1032.6" width="6" height="6"/><rect x="719.1" y="1035.7" width="6" height="6"/><rect x="719.1" y="1041.2" width="6" height="6"/><rect x="718.9" y="1040.4" width="6" height="6"/><rect x="718.8" y="1034.7" width="6" height="6"/><rect x="720.4" y="1035.0" width="6" height="6"/><rect x="720.5" y="1029.6" width="6" height="6"/><rect x="720.6" y="1039.8" width="6" height="6"/><rect x="721.3" y="1033.2" width="6" height="6"/><rect x="721.1" y="1025.6" width="6" height="6"/><rect x="721.8" y="1023.3" width="6" height="6"/><rect x="721.8" y="1036.4" width="6" height="6"/><rect x="722.6" y="1035.3" width="6" height="6"/><rect x="723.0" y="1043.1" width="6" height="6"/><rect x="723.3" y="1034.1" width="6" height="6"/><rect x="723.5" y="1029.8" width="6" height="6"/><rect x="724.2" y="1029.1" width="6" height="6"/><rect x="724.0" y="1032.6" width="6" height="6"/><rect x="725.1" y="1034.3" width="6" height="6"/><rect x="725.0" y="1029.0" width="6" height="6"/><rect x="725.5" y="1026.2" width="6" height="6"/><rect x="726.5" y="1026.6" width="6" height="6"/><rect x="727.6" y="1040.5" width="6" height="6"/><rect x="727.0" y="1043.5" width="6" height="6"/><rect x="727.7" y="1034.2" width="6" height="6"/><rect x="728.2" y="1034.1" width="6" height="6"/><rect x="728.3" y="1032.6" width="6" height="6"/><rect x="728.6" y="1041.9" width="6" height="6"/><rect x="728.7" y="1029.7" width="6" height="6"/><rect x="728.7" y="1035.1" width="6" height="6"/><rect x="729.3" y="1040.5" width="6" height="6"/><rect x="729.6" y="1027.6" width="6" height="6"/><rect x="731.0" y="1037.6" width="6" height="6"/><rect x="731.5" y="1032.0" width="6" height="6"/><rect x="731.7" y="1029.0" width="6" height="6"/><rect x="731.9" y="1030.6" width="6" height="6"/><rect x="731.7" y="1036.4" width="6" height="6"/><rect x="733.3" y="1035.1" width="6" height="6"/><rect x="732.7" y="1041.3" width="6" height="6"/><rect x="734.0" y="1035.8" width="6" height="6"/><rect x="733.4" y="1028.3" width="6" height="6"/><rect x="734.1" y="1033.5" width="6" height="6"/><rect x="733.9" y="1034.7" width="6" height="6"/><rect x="735.0" y="1030.4" width="6" height="6"/><rect x="735.5" y="1035.2" width="6" height="6"/><rect x="736.2" y="1043.6" width="6" height="6"/><rect x="736.1" y="1039.9" width="6" height="6"/><rect x="736.8" y="1032.3" width="6" height="6"/><rect x="737.6" y="1041.5" width="6" height="6"/><rect x="737.6" y="1040.8" width="6" height="6"/><rect x="738.4" y="1032.0" width="6" height="6"/><rect x="739.1" y="1028.9" width="6" height="6"/><rect x="738.5" y="1036.7" width="6" height="6"/><rect x="739.8" y="1026.0" width="6" height="6"/><rect x="739.9" y="1039.1" width="6" height="6"/><rect x="739.4" y="1039.6" width="6" height="6"/><rect x="740.6" y="1030.2" width="6" height="6"/><rect x="741.5" y="1036.4" width="6" height="6"/><rect x="741.0" y="1027.7" width="6" height="6"/><rect x="740.9" y="1044.7" width="6" height="6"/><rect x="741.9" y="1037.3" width="6" height="6"/><rect x="742.4" y="1034.9" width="6" height="6"/><rect x="742.7" y="1041.8" width="6" height="6"/><rect x="743.7" y="1047.9" width="6" height="6"/><rect x="743.9" y="1041.0" width="6" height="6"/><rect x="744.1" y="1041.9" width="6" height="6"/><rect x="744.3" y="1033.3" width="6" height="6"/><rect x="745.8" y="1043.0" width="6" height="6"/><rect x="745.5" y="1039.0" width="6" height="6"/><rect x="745.4" y="1038.2" width="6" height="6"/><rect x="746.2" y="1028.9" width="6" height="6"/><rect x="745.6" y="1035.5" width="6" height="6"/><rect x="747.2" y="1035.9" width="6" height="6"/><rect x="747.2" y="1035.9" width="6" height="6"/><rect x="747.8" y="1029.9" width="6" height="6"/><rect x="748.5" y="1034.0" width="6" height="6"/><rect x="748.0" y="1031.2" width="6" height="6"/><rect x="748.6" y="1035.7" width="6" height="6"/><rect x="749.4" y="1051.4" width="6" height="6"/><rect x="749.5" y="1049.6" width="6" height="6"/><rect x="749.7" y="1054.8" width="6" height="6"/><rect x="750.5" y="1041.2" width="6" height="6"/><rect x="750.5" y="1041.7" width="6" height="6"/><rect x="751.9" y="1044.2" width="6" height="6"/><rect x="751.7" y="1041.3" width="6" height="6"/><rect x="751.4" y="1025.6" width="6" height="6"/><rect x="752.1" y="1052.1" width="6" height="6"/><rect x="752.5" y="1040.9" width="6" height="6"/><rect x="753.3" y="1038.6" width="6" height="6"/><rect x="753.8" y="1048.7" width="6" height="6"/><rect x="754.4" y="1047.9" width="6" height="6"/><rect x="755.4" y="1036.9" width="6" height="6"/><rect x="754.9" y="1032.9" width="6" height="6"/><rect x="755.4" y="1036.2" width="6" height="6"/><rect x="755.2" y="1043.5" width="6" height="6"/><rect x="756.8" y="1031.2" width="6" height="6"/><rect x="756.5" y="1041.7" width="6" height="6"/><rect x="757.4" y="1041.9" width="6" height="6"/><rect x="757.0" y="1030.6" width="6" height="6"/><rect x="757.6" y="1041.0" width="6" height="6"/><rect x="758.5" y="1037.3" width="6" height="6"/><rect x="758.5" y="1031.6" width="6" height="6"/><rect x="759.2" y="1045.4" width="6" height="6"/><rect x="759.2" y="1034.8" width="6" height="6"/><rect x="759.9" y="1037.7" width="6" height="6"/><rect x="760.2" y="1033.0" width="6" height="6"/><rect x="760.7" y="1035.6" width="6" height="6"/><rect x="761.3" y="1045.4" width="6" height="6"/><rect x="761.8" y="1038.3" width="6" height="6"/><rect x="761.5" y="1046.9" width="6" height="6"/><rect x="761.5" y="1036.8" width="6" height="6"/><rect x="762.4" y="1039.9" width="6" height="6"/><rect x="762.9" y="1041.8" width="6" height="6"/><rect x="763.4" y="1054.0" width="6" height="6"/><rect x="764.2" y="1038.6" width="6" height="6"/><rect x="764.4" y="1029.5" width="6" height="6"/><rect x="763.7" y="1033.0" width="6" height="6"/><rect x="765.5" y="1035.5" width="6" height="6"/><rect x="765.5" y="1033.4" width="6" height="6"/><rect x="765.7" y="1041.6" width="6" height="6"/><rect x="766.4" y="1039.1" width="6" height="6"/><rect x="766.6" y="1035.4" width="6" height="6"/><rect x="767.8" y="1047.7" width="6" height="6"/><rect x="766.4" y="1045.1" width="6" height="6"/><rect x="768.3" y="1029.8" width="6" height="6"/><rect x="768.6" y="1038.1" width="6" height="6"/><rect x="768.3" y="1036.4" width="6" height="6"/><rect x="768.6" y="1038.6" width="6" height="6"/><rect x="769.1" y="1043.8" width="6" height="6"/><rect x="770.3" y="1038.4" width="6" height="6"/><rect x="770.5" y="1043.8" width="6" height="6"/><rect x="770.3" y="1053.7" width="6" height="6"/><rect x="771.5" y="1035.9" width="6" height="6"/><rect x="771.9" y="1033.2" width="6" height="6"/><rect x="771.7" y="1050.5" width="6" height="6"/><rect x="772.2" y="1056.8" width="6" height="6"/><rect x="772.6" y="1038.0" width="6" height="6"/><rect x="773.3" y="1045.8" width="6" height="6"/><rect x="773.6" y="1036.1" width="6" height="6"/><rect x="773.9" y="1043.7" width="6" height="6"/><rect x="774.4" y="1039.1" width="6" height="6"/><rect x="774.7" y="1035.5" width="6" height="6"/><rect x="775.0" y="1049.3" width="6" height="6"/><rect x="775.3" y="1037.2" width="6" height="6"/><rect x="775.7" y="1038.2" width="6" height="6"/><rect x="776.5" y="1030.7" width="6" height="6"/><rect x="777.0" y="1038.8" width="6" height="6"/><rect x="777.2" y="1034.6" width="6" height="6"/><rect x="777.8" y="1033.1" width="6" height="6"/><rect x="777.9" y="1038.3" width="6" height="6"/><rect x="778.4" y="1047.2" width="6" height="6"/><rect x="778.4" y="1038.6" width="6" height="6"/><rect x="779.1" y="1030.7" width="6" height="6"/><rect x="779.4" y="1047.0" width="6" height="6"/><rect x="779.9" y="1040.1" width="6" height="6"/><rect x="780.4" y="1045.1" width="6" height="6"/><rect x="780.6" y="1049.6" width="6" height="6"/><rect x="780.9" y="1037.0" width="6" height="6"/><rect x="781.9" y="1035.6" width="6" height="6"/><rect x="781.0" y="1043.9" width="6" height="6"/><rect x="782.9" y="1034.0" width="6" height="6"/><rect x="782.9" y="1050.5" width="6" height="6"/><rect x="782.5" y="1037.7" width="6" height="6"/><rect x="784.1" y="1043.5" width="6" height="6"/><rect x="784.0" y="1038.4" width="6" height="6"/><rect x="784.2" y="1032.1" width="6" height="6"/><rect x="785.3" y="1051.9" width="6" height="6"/><rect x="785.2" y="1045.0" width="6" height="6"/><rect x="785.7" y="1032.0" width="6" height="6"/><rect x="785.8" y="1038.7" width="6" height="6"/><rect x="787.3" y="1035.9" width="6" height="6"/><rect x="786.4" y="1043.6" width="6" height="6"/><rect x="786.9" y="1037.7" width="6" height="6"/><rect x="787.6" y="1038.9" width="6" height="6"/><rect x="788.1" y="1036.4" width="6" height="6"/><rect x="789.0" y="1037.6" width="6" height="6"/><rect x="788.9" y="1046.2" width="6" height="6"/><rect x="788.8" y="1037.5" width="6" height="6"/><rect x="789.5" y="1046.0" width="6" height="6"/><rect x="790.5" y="1043.3" width="6" height="6"/><rect x="791.6" y="1038.8" width="6" height="6"/><rect x="790.7" y="1042.2" width="6" height="6"/><rect x="791.0" y="1024.6" width="6" height="6"/><rect x="790.4" y="1025.0" width="6" height="6"/><rect x="792.6" y="1044.1" width="6" height="6"/><rect x="792.7" y="1029.0" width="6" height="6"/><rect x="792.8" y="1044.0" width="6" height="6"/><rect x="793.4" y="1034.4" width="6" height="6"/><rect x="793.4" y="1033.3" width="6" height="6"/><rect x="794.6" y="1034.0" width="6" height="6"/><rect x="794.8" y="1018.9" width="6" height="6"/><rect x="794.6" y="1034.9" width="6" height="6"/><rect x="794.4" y="1048.5" width="6" height="6"/><rect x="796.5" y="1036.5" width="6" height="6"/><rect x="795.1" y="1040.2" width="6" height="6"/><rect x="796.4" y="1038.3" width="6" height="6"/><rect x="797.6" y="1042.0" width="6" height="6"/><rect x="797.9" y="1031.2" width="6" height="6"/><rect x="797.9" y="1044.8" width="6" height="6"/><rect x="798.6" y="1046.8" width="6" height="6"/><rect x="799.1" y="1047.0" width="6" height="6"/><rect x="799.0" y="1037.8" width="6" height="6"/><rect x="799.6" y="1049.1" width="6" height="6"/><rect x="799.3" y="1051.7" width="6" height="6"/><rect x="801.0" y="1045.9" width="6" height="6"/><rect x="800.3" y="1039.0" width="6" height="6"/><rect x="801.9" y="1036.3" width="6" height="6"/><rect x="800.9" y="1040.9" width="6" height="6"/><rect x="801.7" y="1047.4" width="6" height="6"/><rect x="802.1" y="1028.8" width="6" height="6"/><rect x="802.2" y="1041.7" width="6" height="6"/><rect x="803.4" y="1047.8" width="6" height="6"/><rect x="803.5" y="1037.9" width="6" height="6"/><rect x="804.0" y="1049.5" width="6" height="6"/><rect x="804.8" y="1038.2" width="6" height="6"/><rect x="804.5" y="1033.3" width="6" height="6"/><rect x="805.1" y="1038.3" width="6" height="6"/><rect x="805.0" y="1041.2" width="6" height="6"/><rect x="806.7" y="1034.6" width="6" height="6"/><rect x="806.9" y="1041.4" width="6" height="6"/><rect x="806.5" y="1043.0" width="6" height="6"/><rect x="806.9" y="1041.0" width="6" height="6"/><rect x="807.9" y="1034.4" width="6" height="6"/><rect x="808.1" y="1058.2" width="6" height="6"/><rect x="808.9" y="1038.4" width="6" height="6"/><rect x="808.7" y="1047.1" width="6" height="6"/><rect x="809.4" y="1033.0" width="6" height="6"/><rect x="809.1" y="1030.9" width="6" height="6"/><rect x="810.1" y="1045.8" width="6" height="6"/><rect x="810.4" y="1050.5" width="6" height="6"/><rect x="810.8" y="1035.1" width="6" height="6"/><rect x="810.8" y="1050.5" width="6" height="6"/><rect x="811.6" y="1043.7" width="6" height="6"/><rect x="811.7" y="1040.0" width="6" height="6"/><rect x="811.5" y="1053.0" width="6" height="6"/><rect x="812.2" y="1048.6" width="6" height="6"/><rect x="812.6" y="1046.2" width="6" height="6"/><rect x="813.2" y="1043.1" width="6" height="6"/><rect x="813.8" y="1040.8" width="6" height="6"/><rect x="813.9" y="1038.3" width="6" height="6"/><rect x="814.2" y="1048.2" width="6" height="6"/><rect x="815.3" y="1041.8" width="6" height="6"/><rect x="815.5" y="1034.7" width="6" height="6"/><rect x="816.2" y="1043.4" width="6" height="6"/><rect x="815.9" y="1042.9" width="6" height="6"/><rect x="816.5" y="1037.6" width="6" height="6"/><rect x="817.0" y="1052.5" width="6" height="6"/><rect x="817.5" y="1048.2" width="6" height="6"/><rect x="817.7" y="1047.6" width="6" height="6"/><rect x="818.2" y="1046.9" width="6" height="6"/><rect x="818.8" y="1039.0" width="6" height="6"/><rect x="819.5" y="1042.9" width="6" height="6"/><rect x="819.6" y="1052.1" width="6" height="6"/><rect x="820.1" y="1035.2" width="6" height="6"/><rect x="819.9" y="1035.6" width="6" height="6"/><rect x="820.4" y="1035.5" width="6" height="6"/><rect x="821.2" y="1035.6" width="6" height="6"/><rect x="821.2" y="1037.5" width="6" height="6"/><rect x="821.2" y="1044.7" width="6" height="6"/><rect x="822.6" y="1040.9" width="6" height="6"/><rect x="823.2" y="1040.8" width="6" height="6"/><rect x="823.2" y="1039.2" width="6" height="6"/><rect x="823.3" y="1039.5" width="6" height="6"/><rect x="824.1" y="1037.1" width="6" height="6"/><rect x="824.3" y="1041.0" width="6" height="6"/><rect x="824.4" y="1047.2" width="6" height="6"/><rect x="825.4" y="1045.2" width="6" height="6"/><rect x="825.6" y="1055.2" width="6" height="6"/><rect x="826.1" y="1019.7" width="6" height="6"/><rect x="826.5" y="1044.3" width="6" height="6"/><rect x="826.8" y="1044.1" width="6" height="6"/><rect x="826.8" y="1042.1" width="6" height="6"/><rect x="827.7" y="1035.2" width="6" height="6"/><rect x="828.1" y="1035.8" width="6" height="6"/><rect x="828.4" y="1036.1" width="6" height="6"/><rect x="829.3" y="1022.9" width="6" height="6"/><rect x="829.2" y="1034.4" width="6" height="6"/><rect x="829.5" y="1053.4" width="6" height="6"/><rect x="830.1" y="1039.8" width="6" height="6"/><rect x="830.1" y="1047.0" width="6" height="6"/><rect x="830.7" y="1051.5" width="6" height="6"/><rect x="831.5" y="1039.3" width="6" height="6"/><rect x="831.6" y="1039.3" width="6" height="6"/><rect x="832.0" y="1042.4" width="6" height="6"/><rect x="832.6" y="1040.9" width="6" height="6"/><rect x="832.8" y="1039.8" width="6" height="6"/><rect x="833.8" y="1044.5" width="6" height="6"/><rect x="832.8" y="1035.6" width="6" height="6"/><rect x="834.2" y="1041.9" width="6" height="6"/><rect x="833.6" y="1038.9" width="6" height="6"/><rect x="834.7" y="1055.8" width="6" height="6"/><rect x="834.8" y="1044.1" width="6" height="6"/><rect x="836.0" y="1037.5" width="6" height="6"/><rect x="836.4" y="1040.8" width="6" height="6"/><rect x="836.4" y="1052.8" width="6" height="6"/><rect x="837.2" y="1060.6" width="6" height="6"/><rect x="837.4" y="1037.7" width="6" height="6"/><rect x="837.6" y="1051.9" width="6" height="6"/><rect x="837.6" y="1039.0" width="6" height="6"/><rect x="838.7" y="1043.9" width="6" height="6"/><rect x="838.6" y="1050.4" width="6" height="6"/><rect x="839.6" y="1037.6" width="6" height="6"/><rect x="839.8" y="1036.1" width="6" height="6"/><rect x="840.0" y="1051.8" width="6" height="6"/><rect x="840.4" y="1049.5" width="6" height="6"/><rect x="841.5" y="1042.3" width="6" height="6"/><rect x="842.0" y="1044.4" width="6" height="6"/><rect x="841.6" y="1054.1" width="6" height="6"/><rect x="841.3" y="1045.2" width="6" height="6"/><rect x="842.4" y="1056.1" width="6" height="6"/><rect x="843.1" y="1044.7" width="6" height="6"/><rect x="843.2" y="1045.0" width="6" height="6"/><rect x="843.7" y="1054.5" width="6" height="6"/><rect x="844.3" y="1035.0" width="6" height="6"/><rect x="844.6" y="1050.2" width="6" height="6"/><rect x="845.4" y="1042.9" width="6" height="6"/><rect x="845.5" y="1049.3" width="6" height="6"/><rect x="845.6" y="1042.1" width="6" height="6"/><rect x="846.0" y="1046.5" width="6" height="6"/><rect x="846.6" y="1045.5" width="6" height="6"/><rect x="846.9" y="1054.0" width="6" height="6"/><rect x="847.3" y="1036.0" width="6" height="6"/><rect x="848.3" y="1058.4" width="6" height="6"/><rect x="848.2" y="1047.7" width="6" height="6"/><rect x="848.4" y="1042.8" width="6" height="6"/><rect x="848.7" y="1053.0" width="6" height="6"/><rect x="849.4" y="1044.6" width="6" height="6"/><rect x="850.6" y="1048.3" width="6" height="6"/><rect x="850.5" y="1044.9" width="6" height="6"/><rect x="850.6" y="1032.6" width="6" height="6"/><rect x="850.9" y="1049.2" width="6" height="6"/><rect x="852.1" y="1045.8" width="6" height="6"/><rect x="851.7" y="1039.7" width="6" height="6"/><rect x="852.5" y="1050.5" width="6" height="6"/><rect x="852.4" y="1034.9" width="6" height="6"/><rect x="853.1" y="1036.3" width="6" height="6"/><rect x="853.3" y="1046.8" width="6" height="6"/><rect x="853.6" y="1051.3" width="6" height="6"/><rect x="853.7" y="1038.8" width="6" height="6"/><rect x="854.6" y="1049.9" width="6" height="6"/><rect x="854.8" y="1054.7" width="6" height="6"/><rect x="855.7" y="1056.5" width="6" height="6"/><rect x="855.3" y="1043.1" width="6" height="6"/><rect x="855.8" y="1038.2" width="6" height="6"/><rect x="855.9" y="1060.1" width="6" height="6"/><rect x="856.1" y="1044.7" width="6" height="6"/><rect x="857.5" y="1048.5" width="6" height="6"/><rect x="857.7" y="1041.5" width="6" height="6"/><rect x="858.1" y="1040.4" width="6" height="6"/><rect x="858.2" y="1042.1" width="6" height="6"/><rect x="858.9" y="1046.2" width="6" height="6"/><rect x="860.3" y="1047.1" width="6" height="6"/><rect x="859.9" y="1048.3" width="6" height="6"/><rect x="860.4" y="1047.5" width="6" height="6"/><rect x="860.9" y="1063.0" width="6" height="6"/><rect x="860.3" y="1057.5" width="6" height="6"/><rect x="861.0" y="1047.9" width="6" height="6"/><rect x="862.3" y="1047.1" width="6" height="6"/><rect x="861.9" y="1048.6" width="6" height="6"/><rect x="863.5" y="1048.1" width="6" height="6"/><rect x="863.8" y="1048.4" width="6" height="6"/><rect x="863.0" y="1039.2" width="6" height="6"/><rect x="863.3" y="1043.0" width="6" height="6"/><rect x="864.5" y="1045.3" width="6" height="6"/><rect x="864.0" y="1050.3" width="6" height="6"/><rect x="864.9" y="1051.6" width="6" height="6"/><rect x="865.5" y="1046.1" width="6" height="6"/><rect x="865.8" y="1045.9" width="6" height="6"/><rect x="866.3" y="1060.1" width="6" height="6"/><rect x="866.3" y="1040.2" width="6" height="6"/><rect x="866.3" y="1056.4" width="6" height="6"/><rect x="867.1" y="1037.3" width="6" height="6"/><rect x="868.0" y="1042.6" width="6" height="6"/><rect x="868.3" y="1050.6" width="6" height="6"/><rect x="869.4" y="1037.4" width="6" height="6"/><rect x="868.9" y="1046.5" width="6" height="6"/><rect x="869.8" y="1040.2" width="6" height="6"/><rect x="870.1" y="1049.2" width="6" height="6"/><rect x="870.6" y="1055.1" width="6" height="6"/><rect x="870.6" y="1051.9" width="6" height="6"/><rect x="871.2" y="1057.8" width="6" height="6"/><rect x="870.9" y="1047.4" width="6" height="6"/><rect x="872.1" y="1048.2" width="6" height="6"/><rect x="872.8" y="1041.6" width="6" height="6"/><rect x="873.2" y="1054.3" width="6" height="6"/><rect x="873.1" y="1047.0" width="6" height="6"/><rect x="873.9" y="1055.6" width="6" height="6"/><rect x="873.8" y="1045.0" width="6" height="6"/><rect x="874.2" y="1048.5" width="6" height="6"/><rect x="874.4" y="1055.8" width="6" height="6"/><rect x="875.3" y="1046.6" width="6" height="6"/><rect x="875.7" y="1048.3" width="6" height="6"/><rect x="876.3" y="1050.4" width="6" height="6"/><rect x="876.7" y="1061.8" width="6" height="6"/><rect x="876.7" y="1058.5" width="6" height="6"/><rect x="877.2" y="1050.3" width="6" height="6"/><rect x="877.2" y="1048.1" width="6" height="6"/><rect x="878.4" y="1040.1" width="6" height="6"/><rect x="878.7" y="1047.8" width="6" height="6"/><rect x="878.1" y="1053.9" width="6" height="6"/><rect x="879.4" y="1061.5" width="6" height="6"/><rect x="880.2" y="1068.7" width="6" height="6"/><rect x="879.6" y="1048.7" width="6" height="6"/><rect x="879.8" y="1055.2" width="6" height="6"/><rect x="881.0" y="1052.4" width="6" height="6"/><rect x="880.7" y="1043.7" width="6" height="6"/><rect x="881.7" y="1044.7" width="6" height="6"/><rect x="882.0" y="1052.4" width="6" height="6"/><rect x="883.1" y="1049.4" width="6" height="6"/><rect x="883.2" y="1042.1" width="6" height="6"/><rect x="883.1" y="1056.9" width="6" height="6"/><rect x="883.8" y="1046.1" width="6" height="6"/><rect x="884.8" y="1057.3" width="6" height="6"/><rect x="884.7" y="1036.3" width="6" height="6"/><rect x="884.8" y="1054.5" width="6" height="6"/><rect x="884.8" y="1058.9" width="6" height="6"/><rect x="885.6" y="1050.0" width="6" height="6"/><rect x="887.2" y="1046.2" width="6" height="6"/><rect x="886.5" y="1049.2" width="6" height="6"/><rect x="887.0" y="1051.2" width="6" height="6"/><rect x="887.4" y="1042.6" width="6" height="6"/><rect x="887.3" y="1046.6" width="6" height="6"/><rect x="888.0" y="1058.5" width="6" height="6"/><rect x="888.1" y="1046.2" width="6" height="6"/><rect x="888.5" y="1043.8" width="6" height="6"/><rect x="889.3" y="1051.1" width="6" height="6"/><rect x="889.3" y="1041.9" width="6" height="6"/><rect x="890.0" y="1058.1" width="6" height="6"/><rect x="890.8" y="1047.6" width="6" height="6"/><rect x="890.6" y="1060.6" width="6" height="6"/><rect x="892.0" y="1061.0" width="6" height="6"/><rect x="892.0" y="1049.8" width="6" height="6"/><rect x="892.2" y="1066.9" width="6" height="6"/><rect x="892.9" y="1054.3" width="6" height="6"/><rect x="893.5" y="1063.5" width="6" height="6"/><rect x="893.6" y="1048.1" width="6" height="6"/><rect x="894.6" y="1060.6" width="6" height="6"/><rect x="894.3" y="1050.7" width="6" height="6"/><rect x="894.5" y="1052.2" width="6" height="6"/><rect x="895.1" y="1051.3" width="6" height="6"/><rect x="895.6" y="1045.2" width="6" height="6"/><rect x="895.9" y="1057.3" width="6" height="6"/><rect x="896.0" y="1046.1" width="6" height="6"/><rect x="897.1" y="1053.2" width="6" height="6"/><rect x="896.8" y="1049.7" width="6" height="6"/><rect x="897.8" y="1048.8" width="6" height="6"/><rect x="897.9" y="1048.1" width="6" height="6"/><rect x="897.7" y="1040.3" width="6" height="6"/><rect x="898.9" y="1050.7" width="6" height="6"/><rect x="898.7" y="1059.0" width="6" height="6"/><rect x="899.5" y="1057.8" width="6" height="6"/><rect x="900.0" y="1053.9" width="6" height="6"/><rect x="900.0" y="1045.1" width="6" height="6"/><rect x="900.8" y="1052.8" width="6" height="6"/><rect x="900.9" y="1066.8" width="6" height="6"/><rect x="901.1" y="1065.2" width="6" height="6"/><rect x="902.2" y="1060.4" width="6" height="6"/><rect x="901.9" y="1058.4" width="6" height="6"/><rect x="902.5" y="1049.5" width="6" height="6"/><rect x="903.4" y="1063.7" width="6" height="6"/><rect x="903.3" y="1048.1" width="6" height="6"/><rect x="903.5" y="1065.7" width="6" height="6"/><rect x="904.8" y="1061.0" width="6" height="6"/><rect x="904.9" y="1059.7" width="6" height="6"/><rect x="905.1" y="1046.7" width="6" height="6"/><rect x="905.9" y="1052.9" width="6" height="6"/><rect x="905.2" y="1049.8" width="6" height="6"/><rect x="905.3" y="1048.3" width="6" height="6"/><rect x="906.9" y="1059.7" width="6" height="6"/><rect x="907.4" y="1067.7" width="6" height="6"/><rect x="907.3" y="1040.9" width="6" height="6"/><rect x="908.5" y="1067.7" width="6" height="6"/><rect x="907.7" y="1062.0" width="6" height="6"/><rect x="908.4" y="1063.4" width="6" height="6"/><rect x="909.8" y="1060.5" width="6" height="6"/><rect x="908.7" y="1062.3" width="6" height="6"/><rect x="909.6" y="1066.8" width="6" height="6"/><rect x="909.7" y="1045.1" width="6" height="6"/><rect x="910.9" y="1057.7" width="6" height="6"/><rect x="910.9" y="1058.5" width="6" height="6"/><rect x="911.6" y="1059.1" width="6" height="6"/><rect x="912.4" y="1061.5" width="6" height="6"/><rect x="912.6" y="1068.4" width="6" height="6"/><rect x="912.6" y="1049.4" width="6" height="6"/><rect x="913.5" y="1058.6" width="6" height="6"/><rect x="913.4" y="1063.0" width="6" height="6"/><rect x="914.0" y="1062.5" width="6" height="6"/><rect x="914.0" y="1062.7" width="6" height="6"/><rect x="914.6" y="1052.2" width="6" height="6"/><rect x="915.7" y="1055.1" width="6" height="6"/><rect x="915.2" y="1069.9" width="6" height="6"/><rect x="916.4" y="1056.6" width="6" height="6"/><rect x="916.2" y="1063.9" width="6" height="6"/><rect x="916.3" y="1053.2" width="6" height="6"/><rect x="917.1" y="1059.8" width="6" height="6"/><rect x="917.7" y="1060.4" width="6" height="6"/><rect x="917.7" y="1050.9" width="6" height="6"/><rect x="918.5" y="1052.4" width="6" height="6"/><rect x="918.4" y="1056.9" width="6" height="6"/><rect x="918.7" y="1046.1" width="6" height="6"/><rect x="919.9" y="1055.2" width="6" height="6"/><rect x="919.7" y="1073.8" width="6" height="6"/><rect x="920.2" y="1069.6" width="6" height="6"/><rect x="920.4" y="1052.9" width="6" height="6"/><rect x="921.4" y="1056.7" width="6" height="6"/><rect x="921.4" y="1062.0" width="6" height="6"/><rect x="922.1" y="1064.1" width="6" height="6"/><rect x="922.9" y="1059.0" width="6" height="6"/><rect x="922.2" y="1049.0" width="6" height="6"/><rect x="923.2" y="1056.0" width="6" height="6"/><rect x="923.7" y="1056.2" width="6" height="6"/><rect x="924.3" y="1058.8" width="6" height="6"/><rect x="924.5" y="1052.9" width="6" height="6"/><rect x="925.2" y="1061.1" width="6" height="6"/><rect x="925.6" y="1066.7" width="6" height="6"/><rect x="925.2" y="1053.3" width="6" height="6"/><rect x="926.9" y="1054.5" width="6" height="6"/><rect x="926.1" y="1057.2" width="6" height="6"/><rect x="927.0" y="1056.2" width="6" height="6"/><rect x="927.1" y="1045.8" width="6" height="6"/><rect x="927.7" y="1051.1" width="6" height="6"/><rect x="928.2" y="1049.4" width="6" height="6"/><rect x="928.7" y="1064.3" width="6" height="6"/><rect x="928.7" y="1050.1" width="6" height="6"/><rect x="928.9" y="1071.6" width="6" height="6"/><rect x="929.9" y="1057.5" width="6" height="6"/><rect x="930.4" y="1061.2" width="6" height="6"/><rect x="929.9" y="1061.3" width="6" height="6"/><rect x="930.6" y="1055.0" width="6" height="6"/><rect x="931.7" y="1049.2" width="6" height="6"/><rect x="931.4" y="1060.7" width="6" height="6"/><rect x="932.5" y="1056.6" width="6" height="6"/><rect x="932.4" y="1057.2" width="6" height="6"/><rect x="933.1" y="1051.0" width="6" height="6"/><rect x="933.0" y="1062.7" width="6" height="6"/><rect x="933.6" y="1072.8" width="6" height="6"/><rect x="934.2" y="1060.9" width="6" height="6"/><rect x="934.3" y="1062.9" width="6" height="6"/><rect x="934.6" y="1061.1" width="6" height="6"/><rect x="935.0" y="1060.5" width="6" height="6"/><rect x="935.6" y="1050.8" width="6" height="6"/><rect x="936.2" y="1056.1" width="6" height="6"/><rect x="935.7" y="1065.7" width="6" height="6"/><rect x="936.7" y="1066.5" width="6" height="6"/><rect x="936.7" y="1059.0" width="6" height="6"/><rect x="937.5" y="1054.8" width="6" height="6"/><rect x="937.7" y="1053.7" width="6" height="6"/><rect x="938.7" y="1078.3" width="6" height="6"/><rect x="939.8" y="1056.2" width="6" height="6"/><rect x="939.4" y="1058.7" width="6" height="6"/><rect x="938.6" y="1047.8" width="6" height="6"/><rect x="939.3" y="1069.1" width="6" height="6"/><rect x="940.4" y="1057.3" width="6" height="6"/><rect x="940.2" y="1056.1" width="6" height="6"/><rect x="941.3" y="1064.7" width="6" height="6"/><rect x="941.5" y="1061.2" width="6" height="6"/><rect x="941.8" y="1053.1" width="6" height="6"/><rect x="942.3" y="1063.4" width="6" height="6"/><rect x="942.5" y="1056.1" width="6" height="6"/><rect x="942.9" y="1067.3" width="6" height="6"/><rect x="943.6" y="1071.4" width="6" height="6"/><rect x="943.2" y="1065.0" width="6" height="6"/><rect x="944.5" y="1064.4" width="6" height="6"/><rect x="944.8" y="1050.3" width="6" height="6"/><rect x="945.3" y="1051.8" width="6" height="6"/><rect x="945.2" y="1052.0" width="6" height="6"/><rect x="946.0" y="1070.1" width="6" height="6"/><rect x="946.5" y="1063.1" width="6" height="6"/><rect x="946.4" y="1058.0" width="6" height="6"/><rect x="947.1" y="1059.6" width="6" height="6"/><rect x="947.6" y="1047.9" width="6" height="6"/><rect x="948.8" y="1064.1" width="6" height="6"/><rect x="949.2" y="1071.6" width="6" height="6"/><rect x="948.8" y="1058.5" width="6" height="6"/><rect x="949.3" y="1063.6" width="6" height="6"/><rect x="949.4" y="1058.8" width="6" height="6"/><rect x="950.4" y="1058.4" width="6" height="6"/><rect x="951.2" y="1060.8" width="6" height="6"/><rect x="951.0" y="1067.1" width="6" height="6"/><rect x="951.5" y="1054.4" width="6" height="6"/><rect x="952.1" y="1051.0" width="6" height="6"/><rect x="952.7" y="1068.1" width="6" height="6"/><rect x="953.0" y="1064.7" width="6" height="6"/><rect x="953.4" y="1060.5" width="6" height="6"/><rect x="953.7" y="1076.7" width="6" height="6"/><rect x="954.4" y="1061.8" width="6" height="6"/><rect x="954.8" y="1050.1" width="6" height="6"/><rect x="954.6" y="1061.5" width="6" height="6"/><rect x="955.0" y="1066.1" width="6" height="6"/><rect x="955.6" y="1059.7" width="6" height="6"/><rect x="955.5" y="1051.2" width="6" height="6"/><rect x="956.5" y="1059.1" width="6" height="6"/><rect x="956.0" y="1061.3" width="6" height="6"/><rect x="956.8" y="1063.4" width="6" height="6"/><rect x="957.5" y="1068.1" width="6" height="6"/><rect x="957.7" y="1063.1" width="6" height="6"/><rect x="958.2" y="1059.7" width="6" height="6"/><rect x="958.9" y="1057.0" width="6" height="6"/><rect x="959.2" y="1059.1" width="6" height="6"/><rect x="959.3" y="1055.7" width="6" height="6"/><rect x="960.4" y="1053.6" width="6" height="6"/><rect x="960.8" y="1061.3" width="6" height="6"/><rect x="960.9" y="1056.6" width="6" height="6"/><rect x="960.6" y="1048.5" width="6" height="6"/><rect x="961.2" y="1054.8" width="6" height="6"/><rect x="961.0" y="1059.1" width="6" height="6"/><rect x="962.7" y="1054.9" width="6" height="6"/><rect x="963.3" y="1067.3" width="6" height="6"/><rect x="963.0" y="1064.4" width="6" height="6"/><rect x="963.6" y="1068.1" width="6" height="6"/><rect x="963.8" y="1063.5" width="6" height="6"/><rect x="963.8" y="1060.6" width="6" height="6"/><rect x="964.5" y="1057.9" width="6" height="6"/><rect x="965.0" y="1052.4" width="6" height="6"/><rect x="965.6" y="1058.2" width="6" height="6"/><rect x="966.4" y="1053.5" width="6" height="6"/><rect x="965.8" y="1061.2" width="6" height="6"/><rect x="966.5" y="1061.9" width="6" height="6"/><rect x="966.9" y="1057.4" width="6" height="6"/><rect x="967.5" y="1059.5" width="6" height="6"/><rect x="967.5" y="1059.9" width="6" height="6"/><rect x="968.0" y="1054.5" width="6" height="6"/><rect x="968.3" y="1072.4" width="6" height="6"/><rect x="968.9" y="1064.1" width="6" height="6"/><rect x="969.2" y="1059.1" width="6" height="6"/><rect x="970.2" y="1060.1" width="6" height="6"/><rect x="970.0" y="1067.2" width="6" height="6"/><rect x="970.9" y="1051.7" width="6" height="6"/><rect x="971.0" y="1055.2" width="6" height="6"/><rect x="971.5" y="1061.0" width="6" height="6"/><rect x="972.3" y="1066.1" width="6" height="6"/><rect x="972.1" y="1068.4" width="6" height="6"/><rect x="973.4" y="1068.4" width="6" height="6"/><rect x="973.6" y="1066.6" width="6" height="6"/><rect x="974.3" y="1069.5" width="6" height="6"/><rect x="973.9" y="1044.1" width="6" height="6"/><rect x="973.8" y="1050.5" width="6" height="6"/><rect x="975.3" y="1063.4" width="6" height="6"/><rect x="975.0" y="1059.8" width="6" height="6"/><rect x="975.3" y="1059.9" width="6" height="6"/><rect x="976.3" y="1064.9" width="6" height="6"/><rect x="976.1" y="1072.9" width="6" height="6"/><rect x="977.1" y="1060.4" width="6" height="6"/><rect x="977.0" y="1059.3" width="6" height="6"/><rect x="978.7" y="1075.2" width="6" height="6"/><rect x="978.3" y="1065.4" width="6" height="6"/><rect x="978.7" y="1068.6" width="6" height="6"/><rect x="978.6" y="1069.5" width="6" height="6"/><rect x="978.7" y="1059.7" width="6" height="6"/><rect x="979.6" y="1054.9" width="6" height="6"/><rect x="980.4" y="1052.5" width="6" height="6"/><rect x="980.0" y="1062.6" width="6" height="6"/><rect x="981.2" y="1062.2" width="6" height="6"/><rect x="981.7" y="1070.5" width="6" height="6"/><rect x="981.9" y="1070.2" width="6" height="6"/><rect x="981.7" y="1056.6" width="6" height="6"/><rect x="982.4" y="1069.3" width="6" height="6"/><rect x="982.3" y="1056.4" width="6" height="6"/><rect x="983.3" y="1056.9" width="6" height="6"/><rect x="982.9" y="1068.2" width="6" height="6"/><rect x="983.9" y="1059.9" width="6" height="6"/><rect x="984.1" y="1069.4" width="6" height="6"/><rect x="985.1" y="1045.5" width="6" height="6"/><rect x="985.0" y="1056.2" width="6" height="6"/><rect x="986.1" y="1059.7" width="6" height="6"/><rect x="985.8" y="1065.8" width="6" height="6"/><rect x="986.3" y="1062.2" width="6" height="6"/><rect x="986.6" y="1055.9" width="6" height="6"/><rect x="987.4" y="1058.5" width="6" height="6"/><rect x="987.8" y="1057.7" width="6" height="6"/><rect x="987.6" y="1068.8" width="6" height="6"/><rect x="988.6" y="1071.5" width="6" height="6"/><rect x="989.1" y="1055.7" width="6" height="6"/><rect x="989.2" y="1049.2" width="6" height="6"/><rect x="989.8" y="1052.0" width="6" height="6"/><rect x="989.8" y="1053.5" width="6" height="6"/><rect x="990.2" y="1059.8" width="6" height="6"/><rect x="990.1" y="1066.6" width="6" height="6"/><rect x="991.5" y="1052.6" width="6" height="6"/><rect x="991.8" y="1040.0" width="6" height="6"/><rect x="991.7" y="1056.4" width="6" height="6"/><rect x="992.3" y="1051.6" width="6" height="6"/><rect x="993.9" y="1044.9" width="6" height="6"/><rect x="993.1" y="1071.8" width="6" height="6"/><rect x="993.4" y="1067.6" width="6" height="6"/><rect x="994.3" y="1067.3" width="6" height="6"/><rect x="994.6" y="1050.2" width="6" height="6"/><rect x="995.2" y="1049.4" width="6" height="6"/><rect x="996.0" y="1051.4" width="6" height="6"/><rect x="996.5" y="1064.2" width="6" height="6"/><rect x="995.8" y="1064.5" width="6" height="6"/><rect x="996.2" y="1052.9" width="6" height="6"/><rect x="997.3" y="1065.7" width="6" height="6"/><rect x="997.2" y="1060.5" width="6" height="6"/><rect x="997.4" y="1063.8" width="6" height="6"/><rect x="998.1" y="1057.2" width="6" height="6"/><rect x="999.4" y="1063.0" width="6" height="6"/><rect x="998.5" y="1054.3" width="6" height="6"/><rect x="999.1" y="1056.6" width="6" height="6"/><rect x="1000.6" y="1062.2" width="6" height="6"/><rect x="1000.3" y="1049.9" width="6" height="6"/><rect x="1000.0" y="1051.2" width="6" height="6"/><rect x="1001.3" y="1053.8" width="6" height="6"/><rect x="1000.8" y="1063.4" width="6" height="6"/><rect x="1001.9" y="1054.6" width="6" height="6"/><rect x="1002.3" y="1059.2" width="6" height="6"/><rect x="1003.0" y="1057.9" width="6" height="6"/><rect x="1002.9" y="1048.6" width="6" height="6"/><rect x="1003.3" y="1049.9" width="6" height="6"/><rect x="1003.7" y="1063.4" width="6" height="6"/><rect x="1004.4" y="1054.3" width="6" height="6"/><rect x="1004.2" y="1058.8" width="6" height="6"/><rect x="1004.9" y="1052.1" width="6" height="6"/><rect x="1005.1" y="1058.9" width="6" height="6"/><rect x="1005.7" y="1046.9" width="6" height="6"/><rect x="1006.6" y="1067.7" width="6" height="6"/><rect x="1007.0" y="1058.8" width="6" height="6"/><rect x="1006.4" y="1053.0" width="6" height="6"/><rect x="1008.4" y="1060.3" width="6" height="6"/><rect x="1008.1" y="1055.2" width="6" height="6"/><rect x="1008.8" y="1051.7" width="6" height="6"/><rect x="1009.0" y="1058.2" width="6" height="6"/><rect x="1009.2" y="1053.3" width="6" height="6"/><rect x="1009.8" y="1058.5" width="6" height="6"/><rect x="1009.5" y="1056.0" width="6" height="6"/><rect x="1010.3" y="1067.2" width="6" height="6"/><rect x="1011.3" y="1059.1" width="6" height="6"/><rect x="1011.1" y="1058.6" width="6" height="6"/><rect x="1011.6" y="1061.3" width="6" height="6"/><rect x="1012.3" y="1056.0" width="6" height="6"/><rect x="1012.5" y="1062.0" width="6" height="6"/><rect x="1012.0" y="1052.5" width="6" height="6"/><rect x="1012.7" y="1056.7" width="6" height="6"/><rect x="1013.4" y="1062.4" width="6" height="6"/><rect x="1013.6" y="1060.8" width="6" height="6"/><rect x="1014.5" y="1057.6" width="6" height="6"/><rect x="1014.3" y="1060.7" width="6" height="6"/><rect x="1015.8" y="1061.8" width="6" height="6"/><rect x="1015.3" y="1054.9" width="6" height="6"/><rect x="1016.0" y="1066.0" width="6" height="6"/><rect x="1017.2" y="1057.5" width="6" height="6"/><rect x="1016.9" y="1069.3" width="6" height="6"/><rect x="1017.6" y="1052.1" width="6" height="6"/><rect x="1017.7" y="1068.3" width="6" height="6"/><rect x="1018.1" y="1058.1" width="6" height="6"/><rect x="1018.1" y="1056.0" width="6" height="6"/><rect x="1018.4" y="1055.5" width="6" height="6"/><rect x="1018.9" y="1068.9" width="6" height="6"/><rect x="1020.2" y="1057.5" width="6" height="6"/><rect x="1020.6" y="1061.7" width="6" height="6"/><rect x="1020.1" y="1064.7" width="6" height="6"/><rect x="1020.7" y="1068.8" width="6" height="6"/><rect x="1021.5" y="1059.4" width="6" height="6"/><rect x="1021.6" y="1061.9" width="6" height="6"/><rect x="1021.9" y="1067.5" width="6" height="6"/><rect x="1022.0" y="1048.0" width="6" height="6"/><rect x="1023.1" y="1059.3" width="6" height="6"/><rect x="1023.1" y="1055.1" width="6" height="6"/><rect x="1023.1" y="1062.9" width="6" height="6"/><rect x="1023.3" y="1051.0" width="6" height="6"/><rect x="1023.9" y="1061.9" width="6" height="6"/><rect x="1024.2" y="1063.6" width="6" height="6"/><rect x="1025.5" y="1060.5" width="6" height="6"/><rect x="1025.5" y="1064.0" width="6" height="6"/><rect x="1025.8" y="1059.0" width="6" height="6"/><rect x="1026.0" y="1048.3" width="6" height="6"/><rect x="1027.1" y="1063.6" width="6" height="6"/><rect x="1027.1" y="1058.5" width="6" height="6"/><rect x="1026.7" y="1051.9" width="6" height="6"/><rect x="1028.5" y="1057.5" width="6" height="6"/><rect x="1029.6" y="1067.9" width="6" height="6"/><rect x="1029.0" y="1056.9" width="6" height="6"/><rect x="1029.3" y="1055.7" width="6" height="6"/><rect x="1029.2" y="1044.3" width="6" height="6"/><rect x="1030.3" y="1065.2" width="6" height="6"/><rect x="1030.0" y="1055.1" width="6" height="6"/><rect x="1030.4" y="1051.9" width="6" height="6"/><rect x="1031.1" y="1063.6" width="6" height="6"/><rect x="1031.6" y="1058.6" width="6" height="6"/><rect x="1032.3" y="1057.3" width="6" height="6"/><rect x="1032.1" y="1054.4" width="6" height="6"/><rect x="1033.4" y="1063.3" width="6" height="6"/><rect x="1033.6" y="1055.0" width="6" height="6"/><rect x="1032.3" y="1067.1" width="6" height="6"/><rect x="1035.0" y="1056.7" width="6" height="6"/></g>
<line x1="623.6" y1="1093.6" x2="1037.2" y2="1093.6" stroke="#000" stroke-width="2.4" stroke-dasharray="2.6,2.6"/>
<line x1="632.7" y1="853.1" x2="632.7" y2="1117.0" stroke="#f20000" stroke-width="3"/>
<path d="M633.0,979.3 L636.0,981.6 L639.0,983.9 L642.0,986.1 L645.0,988.3 L648.0,990.4 L651.0,992.5 L654.0,994.6 L657.0,996.6 L660.0,998.5 L663.0,1000.5 L666.0,1002.4 L669.0,1004.2 L672.0,1006.0 L675.0,1007.8 L678.0,1009.5 L681.0,1011.2 L684.0,1012.8 L687.0,1014.4 L690.0,1016.0 L693.0,1017.5 L696.0,1019.0 L699.0,1020.5 L702.0,1021.9 L705.0,1023.3 L708.0,1024.6 L711.0,1025.9 L714.0,1027.2 L717.0,1028.5 L720.0,1029.7 L723.0,1030.9 L726.0,1032.0 L729.0,1033.2 L732.0,1034.3 L735.0,1035.3 L738.0,1036.4 L741.0,1037.4 L744.0,1038.4 L747.0,1039.4 L750.0,1040.3 L753.0,1041.2 L756.0,1042.1 L759.0,1043.0 L762.0,1043.8 L765.0,1044.6 L768.0,1045.4 L771.0,1046.2 L774.0,1047.0 L777.0,1047.7 L780.0,1048.4 L783.0,1049.1 L786.0,1049.8 L789.0,1050.4 L792.0,1051.1 L795.0,1051.7 L798.0,1052.3 L801.0,1052.9 L804.0,1053.4 L807.0,1054.0 L810.0,1054.5 L813.0,1055.0 L816.0,1055.5 L819.0,1056.0 L822.0,1056.5 L825.0,1057.0 L828.0,1057.4 L831.0,1057.9 L834.0,1058.3 L837.0,1058.7 L840.0,1059.1 L843.0,1059.5 L846.0,1059.9 L849.0,1060.2 L852.0,1060.6 L855.0,1060.9 L858.0,1061.3 L861.0,1061.6 L864.0,1061.9 L867.0,1062.2 L870.0,1062.5 L873.0,1062.8 L876.0,1063.1 L879.0,1063.3 L882.0,1063.6 L885.0,1063.9 L888.0,1064.1 L891.0,1064.4 L894.0,1064.6 L897.0,1064.8 L900.0,1065.0 L903.0,1065.2 L906.0,1065.5 L909.0,1065.7 L912.0,1065.8 L915.0,1066.0 L918.0,1066.2 L921.0,1066.4 L924.0,1066.6 L927.0,1066.7 L930.0,1066.9 L933.0,1067.0 L936.0,1067.2 L939.0,1067.3 L942.0,1067.5 L945.0,1067.6 L948.0,1067.8 L951.0,1067.9 L954.0,1068.0 L957.0,1068.1 L960.0,1068.3 L963.0,1068.4 L966.0,1068.5 L969.0,1068.6 L972.0,1068.7 L975.0,1068.8 L978.0,1068.9 L981.0,1069.0 L984.0,1069.1 L987.0,1069.2 L990.0,1069.2 L993.0,1069.3 L996.0,1069.4 L999.0,1069.5 L1002.0,1069.6 L1005.0,1069.6 L1008.0,1069.7 L1011.0,1069.8 L1014.0,1069.8 L1017.0,1069.9 L1020.0,1070.0 L1023.0,1070.0 L1026.0,1070.1 L1029.0,1070.2 L1032.0,1070.2 L1035.0,1070.3 L1037.0,1070.3" fill="none" stroke="#f20000" stroke-width="3.4" stroke-linejoin="round"/>
<rect x="623.6" y="806.8" width="413.6" height="310.2" fill="none" stroke="#3a3a3a" stroke-width="1.4"/>
<line x1="617.4" y1="1093.2" x2="623.6" y2="1093.2" stroke="#3a3a3a" stroke-width="1.4" />
<line x1="620" y1="1045.47" x2="623.6" y2="1045.47" stroke="#3a3a3a" stroke-width="1.4" />
<line x1="617.4" y1="997.74" x2="623.6" y2="997.74" stroke="#3a3a3a" stroke-width="1.4" />
<line x1="620" y1="950.01" x2="623.6" y2="950.01" stroke="#3a3a3a" stroke-width="1.4" />
<line x1="617.4" y1="902.28" x2="623.6" y2="902.28" stroke="#3a3a3a" stroke-width="1.4" />
<line x1="620" y1="854.55" x2="623.6" y2="854.55" stroke="#3a3a3a" stroke-width="1.4" />
<line x1="617.4" y1="806.82" x2="623.6" y2="806.82" stroke="#3a3a3a" stroke-width="1.4" />
<line x1="633.7" y1="1117" x2="633.7" y2="1122.6" stroke="#3a3a3a" stroke-width="1.4" />
<line x1="684.12" y1="1117" x2="684.12" y2="1120.2" stroke="#3a3a3a" stroke-width="1.4" />
<line x1="734.55" y1="1117" x2="734.55" y2="1122.6" stroke="#3a3a3a" stroke-width="1.4" />
<line x1="784.98" y1="1117" x2="784.98" y2="1120.2" stroke="#3a3a3a" stroke-width="1.4" />
<line x1="835.4" y1="1117" x2="835.4" y2="1122.6" stroke="#3a3a3a" stroke-width="1.4" />
<line x1="885.83" y1="1117" x2="885.83" y2="1120.2" stroke="#3a3a3a" stroke-width="1.4" />
<line x1="936.25" y1="1117" x2="936.25" y2="1122.6" stroke="#3a3a3a" stroke-width="1.4" />
<line x1="986.67" y1="1117" x2="986.67" y2="1120.2" stroke="#3a3a3a" stroke-width="1.4" />
<line x1="1037.1" y1="1117" x2="1037.1" y2="1122.6" stroke="#3a3a3a" stroke-width="1.4" />
<text transform="translate(602.78,1098.4) scale(1.0400,1)" font-family='"Liberation Sans", sans-serif' font-size="17.606" fill="#000" >0</text>
<text transform="translate(572.2,1002.94) scale(1.0400,1)" font-family='"Liberation Sans", sans-serif' font-size="17.606" fill="#000" >2000</text>
<text transform="translate(572.2,907.48) scale(1.0400,1)" font-family='"Liberation Sans", sans-serif' font-size="17.606" fill="#000" >4000</text>
<text transform="translate(572.2,812.02) scale(1.0400,1)" font-family='"Liberation Sans", sans-serif' font-size="17.606" fill="#000" >6000</text>
<text transform="translate(628.57,1140.8) scale(1.0400,1)" font-family='"Liberation Sans", sans-serif' font-size="17.606" fill="#000" >0</text>
<text transform="translate(719.26,1140.8) scale(1.0400,1)" font-family='"Liberation Sans", sans-serif' font-size="17.606" fill="#000" >500</text>
<text transform="translate(814.66,1140.8) scale(1.0400,1)" font-family='"Liberation Sans", sans-serif' font-size="17.606" fill="#000" >1000</text>
<text transform="translate(915.51,1140.8) scale(1.0400,1)" font-family='"Liberation Sans", sans-serif' font-size="17.606" fill="#000" >1500</text>
<text transform="translate(1016.59,1140.8) scale(1.0400,1)" font-family='"Liberation Sans", sans-serif' font-size="17.606" fill="#000" >2000</text>
<text transform="translate(780.72,1171.82) scale(1.0503,1)" font-family='"Liberation Sans", sans-serif' font-size="22.781" fill="#000" >Time (ns)</text>
<text transform="translate(564.15,1006.29) scale(1.0523,1) rotate(-90)" font-family='"Liberation Sans", sans-serif' font-size="23.825" fill="#000">Counts</text>
<text transform="translate(542.82,842.87) scale(1.0407,1)" font-family='"Liberation Sans", sans-serif' font-size="42.727" fill="#000" >e</text>
<text transform="translate(657.8,832.5) scale(1.04,1)" font-family='"Liberation Serif", serif' font-size="17.9" fill="#000">τ<tspan font-size="11.81" dy="3.6">1</tspan><tspan dy="-3.6"> = 2.87 µs, 62%</tspan></text>
<text transform="translate(657.8,858.6) scale(1.04,1)" font-family='"Liberation Serif", serif' font-size="17.9" fill="#000">τ<tspan font-size="11.81" dy="3.6">2</tspan><tspan dy="-3.6"> = 906 ns, 33%</tspan></text>
<text transform="translate(657.8,883.9) scale(1.04,1)" font-family='"Liberation Serif", serif' font-size="17.9" fill="#000">τ<tspan font-size="11.81" dy="3.6">3</tspan><tspan dy="-3.6"> = 107 ns, 4.2%</tspan></text>
<text transform="translate(657.8,910.3) scale(1.04,1)" font-family='"Liberation Serif", serif' font-size="17.9" fill="#000">τ<tspan font-size="11.81" dy="3.6">4</tspan><tspan dy="-3.6"> = 17 ns, 1.1%</tspan></text>
<text transform="translate(657.8,936.1) scale(1.04,1)" font-family='"Liberation Serif", serif' font-size="17.9" fill="#000">X<tspan font-size="12.53" dy="-5.2">2</tspan><tspan dy="5.2"> = 1.05</tspan></text>
<rect x="887.2" y="813.8" width="142.3" height="59.6" fill="#fff" stroke="#3a3a3a" stroke-width="1.3" />
<text transform="translate(892.8,829.66) scale(1.0000,1)" font-family='"Liberation Sans", sans-serif' font-size="13.521" fill="#000"  letter-spacing="1.411">Au NCs-PNIPAAm</text>
<text transform="translate(929.69,848.38) scale(1.0000,1)" font-family='"Liberation Sans", sans-serif' font-size="13.889" fill="#000"  letter-spacing="1.109">Decay</text>
<text transform="translate(929.72,868.17) scale(1.0000,1)" font-family='"Liberation Sans", sans-serif' font-size="13.469" fill="#000"  letter-spacing="0.747">Fit</text>
<rect x="906" y="841.4" width="6.2" height="6.2" fill="#0af4f4" />
<line x1="894.1" y1="863.3" x2="925.1" y2="863.3" stroke="#f20000" stroke-width="3.6" stroke-linecap="round"/>
<defs>
<radialGradient id="sbase" cx="0.45" cy="0.55" r="0.55">
 <stop offset="0" stop-color="#8c4a02"/><stop offset="0.6" stop-color="#9a5406"/><stop offset="0.88" stop-color="#a05a0a"/><stop offset="1" stop-color="#8e4410"/>
</radialGradient>
<radialGradient id="shl" cx="0.5" cy="0.5" r="0.5">
 <stop offset="0" stop-color="#fffc34"/><stop offset="0.4" stop-color="#fbe81c"/><stop offset="0.75" stop-color="#e8bc08" stop-opacity="0.75"/><stop offset="1" stop-color="#d8a000" stop-opacity="0"/>
</radialGradient>
<radialGradient id="slow" cx="0.5" cy="0.5" r="0.5">
 <stop offset="0" stop-color="#cc9406" stop-opacity="0.85"/><stop offset="1" stop-color="#c08000" stop-opacity="0"/>
</radialGradient>
<radialGradient id="sred" cx="0.5" cy="0.5" r="0.5">
 <stop offset="0" stop-color="#b02400" stop-opacity="0.75"/><stop offset="1" stop-color="#b02400" stop-opacity="0"/>
</radialGradient>
<radialGradient id="sor" cx="0.5" cy="0.5" r="0.5">
 <stop offset="0" stop-color="#cc7c00" stop-opacity="0.9"/><stop offset="1" stop-color="#cc7c00" stop-opacity="0"/>
</radialGradient>
<radialGradient id="sright" cx="0.5" cy="0.5" r="0.5">
 <stop offset="0" stop-color="#e8bc10" stop-opacity="0.9"/><stop offset="1" stop-color="#e8bc10" stop-opacity="0"/>
</radialGradient>
<radialGradient id="sdark" cx="0.5" cy="0.5" r="0.5">
 <stop offset="0" stop-color="#7a3c00" stop-opacity="0.7"/><stop offset="1" stop-color="#7a3c00" stop-opacity="0"/>
</radialGradient>
<clipPath id="sclip"><circle cx="0" cy="0" r="33"/></clipPath>
<g id="sph"><g clip-path="url(#sclip)">
 <circle cx="0" cy="0" r="33" fill="url(#sbase)"/>
 <ellipse cx="10" cy="21" rx="19" ry="11" fill="url(#slow)"/>
 <ellipse cx="25" cy="8" rx="9" ry="17" fill="url(#sright)"/>
 <ellipse cx="-4" cy="-22" rx="18" ry="10" fill="url(#sor)"/>
 <ellipse cx="-8" cy="4" rx="20" ry="9" transform="rotate(25 -8 4)" fill="url(#sdark)"/>
 <ellipse cx="-23" cy="15" rx="9" ry="15" fill="url(#sred)"/>
 <ellipse cx="13" cy="-9" rx="27" ry="14" transform="rotate(27 13 -9)" fill="url(#shl)"/>
</g></g>
<filter id="sb" x="-20%" y="-20%" width="140%" height="140%"><feGaussianBlur stdDeviation="1.7"/></filter>
<filter id="gb" x="-30%" y="-30%" width="160%" height="160%"><feGaussianBlur stdDeviation="3.4"/></filter>
<filter id="wb" x="-100%" y="-100%" width="300%" height="300%"><feGaussianBlur stdDeviation="5"/></filter><filter id="wb2" x="-100%" y="-100%" width="300%" height="300%"><feGaussianBlur stdDeviation="3"/></filter>
</defs>
<defs><filter id="gy" filterUnits="userSpaceOnUse" x="34.3" y="-3.5" width="290.5" height="271.2" color-interpolation-filters="sRGB"><feGaussianBlur in="SourceAlpha" stdDeviation="17" result="b"/><feComponentTransfer in="b" result="a"><feFuncA type="linear" slope="8" intercept="-0.15"/></feComponentTransfer><feFlood flood-color="#fdf78c"/><feComposite in2="a" operator="in"/><feGaussianBlur stdDeviation="2.5"/></filter></defs>
<g filter="url(#gy)"><circle cx="180.5" cy="86.5" r="33"/><circle cx="124.3" cy="177.7" r="33"/><circle cx="234.8" cy="177.7" r="33"/><circle cx="152.4" cy="132.1" r="6"/><circle cx="207.7" cy="132.1" r="6"/><circle cx="179.6" cy="177.7" r="6"/></g>
<circle cx="178.4" cy="147.8" r="6" fill="#fffef0" filter="url(#wb2)"/>
<use href="#sph" transform="translate(180.5,86.5)" filter="url(#sb)"/>
<use href="#sph" transform="translate(124.3,177.7)" filter="url(#sb)"/>
<use href="#sph" transform="translate(234.8,177.7)" filter="url(#sb)"/>
<defs><filter id="gr" filterUnits="userSpaceOnUse" x="738.2" y="-4.599999999999994" width="291.5" height="270.6" color-interpolation-filters="sRGB"><feGaussianBlur in="SourceAlpha" stdDeviation="16" result="b"/><feComponentTransfer in="b" result="a"><feFuncA type="linear" slope="9" intercept="-0.25"/></feComponentTransfer><feFlood flood-color="#f89c9c"/><feComposite in2="a" operator="in"/><feGaussianBlur stdDeviation="2.5"/></filter></defs>
<g filter="url(#gr)"><circle cx="885" cy="85.4" r="33"/><circle cx="828.2" cy="176" r="33"/><circle cx="939.7" cy="176" r="33"/><circle cx="856.6" cy="130.7" r="6"/><circle cx="912.4" cy="130.7" r="6"/><circle cx="884.0" cy="176.0" r="6"/></g>
<circle cx="882.8" cy="146.3" r="6" fill="#fff4f4" filter="url(#wb2)"/>
<use href="#sph" transform="translate(885,85.4)" filter="url(#sb)"/>
<use href="#sph" transform="translate(828.2,176)" filter="url(#sb)"/>
<use href="#sph" transform="translate(939.7,176)" filter="url(#sb)"/>
<defs>
<linearGradient id="v1bg" x1="0" y1="0" x2="1" y2="0"><stop offset="0" stop-color="#121250"/><stop offset="0.15" stop-color="#0a0a2e"/><stop offset="0.85" stop-color="#0a0a2c"/><stop offset="1" stop-color="#0e0e40"/></linearGradient>
<linearGradient id="v1liq" x1="0" y1="0" x2="0" y2="1">
 <stop offset="0" stop-color="#e89044"/><stop offset="0.1" stop-color="#cc7c48"/><stop offset="0.5" stop-color="#bc6c42"/>
 <stop offset="0.55" stop-color="#c89078"/><stop offset="0.63" stop-color="#c8a8a8"/><stop offset="0.7" stop-color="#d8985c"/><stop offset="0.88" stop-color="#eaa858"/><stop offset="1" stop-color="#f4c070"/></linearGradient>
<linearGradient id="v1glass" x1="0" y1="0" x2="0" y2="1">
 <stop offset="0" stop-color="#c08070"/><stop offset="0.11" stop-color="#5a3850"/><stop offset="0.3" stop-color="#2a2248"/><stop offset="0.8" stop-color="#2c2246"/><stop offset="1" stop-color="#8a5848"/></linearGradient>
<linearGradient id="v1glassx" x1="0" y1="0" x2="1" y2="0">
 <stop offset="0" stop-color="#c08078" stop-opacity="0.55"/><stop offset="0.14" stop-color="#c08078" stop-opacity="0"/><stop offset="0.86" stop-color="#c08078" stop-opacity="0"/><stop offset="1" stop-color="#c08078" stop-opacity="0.5"/></linearGradient>
<linearGradient id="cap" x1="0" y1="0" x2="1" y2="0">
 <stop offset="0" stop-color="#0c0c10"/><stop offset="0.2" stop-color="#1a1a1e"/><stop offset="0.3" stop-color="#3a3a3e"/><stop offset="0.36" stop-color="#151518"/>
 <stop offset="0.6" stop-color="#202024"/><stop offset="0.7" stop-color="#2e2e32"/><stop offset="0.8" stop-color="#121214"/><stop offset="1" stop-color="#0a0a0c"/></linearGradient>
<filter id="vb" x="-10%" y="-10%" width="120%" height="120%"><feGaussianBlur stdDeviation="0.8"/></filter>
</defs>
<g filter="url(#vb)">
<rect x="307.2" y="9.3" width="73.5" height="160.5" fill="url(#v1bg)" />
<path d="M311.2,169.8 L313.2,147.8 L320.2,147.8 L320.2,169.8 Z" fill="#2040c0" opacity="0.85"/>
<rect x="372" y="140.6" width="8.699999999999989" height="10" fill="#2a58e8" opacity="0.9"/>
<rect x="320" y="17.9" width="51.8" height="36.6" fill="url(#cap)"/>
<rect x="319.4" y="54.8" width="53" height="53" rx="5" fill="url(#v1glass)"/>
<rect x="319.4" y="54.8" width="53" height="53" rx="5" fill="url(#v1glassx)"/>
<rect x="319.4" y="108" width="53" height="60.6" rx="3" fill="url(#v1liq)"/>
<path d="M319.4,106.6 Q345.9,110.5 372.4,106.6 L372.4,112 Q345.9,116.5 319.4,112 Z" fill="#fab44a"/>
<rect x="332.5" y="64.5" width="3" height="4" fill="#e0d0f0" opacity="0.9"/>
<rect x="351.5" y="64.5" width="3" height="4" fill="#e0d0f0" opacity="0.8"/>
</g>
<defs>
<linearGradient id="v2bg" x1="0" y1="0" x2="1" y2="0"><stop offset="0" stop-color="#10104a"/><stop offset="0.2" stop-color="#0a0a2e"/><stop offset="0.8" stop-color="#0a0a2e"/><stop offset="1" stop-color="#10104a"/></linearGradient>
<linearGradient id="v2liq" x1="0" y1="0" x2="0" y2="1">
 <stop offset="0" stop-color="#fff2d0"/><stop offset="0.11" stop-color="#fff0c4"/><stop offset="0.15" stop-color="#f6d482"/>
 <stop offset="0.5" stop-color="#f4d070"/><stop offset="0.68" stop-color="#f8dc8c"/><stop offset="0.8" stop-color="#fdeccc"/><stop offset="0.93" stop-color="#fff2dc"/><stop offset="0.96" stop-color="#f0a850"/><stop offset="1" stop-color="#e89040"/></linearGradient>
<linearGradient id="v2glass" x1="0" y1="0" x2="0" y2="1">
 <stop offset="0" stop-color="#281c30"/><stop offset="0.85" stop-color="#1c1628"/><stop offset="1" stop-color="#483038"/></linearGradient>
<linearGradient id="v2hl" x1="0" y1="0" x2="0" y2="1">
 <stop offset="0" stop-color="#f0e8ff" stop-opacity="0.95"/><stop offset="0.5" stop-color="#d0c8e0" stop-opacity="0.75"/><stop offset="1" stop-color="#c0b0d0" stop-opacity="0.55"/></linearGradient>
</defs>
<g filter="url(#vb)">
<rect x="677.9" y="15.5" width="71.1" height="161.3" fill="url(#v2bg)" />
<rect x="677.9" y="156.7" width="71.10000000000002" height="6.3" fill="#283070" opacity="0.8"/>
<rect x="677.9" y="163" width="71.10000000000002" height="2" fill="#3868f8"/>
<rect x="689.4" y="23.6" width="50.9" height="34.5" fill="url(#cap)"/>
<rect x="690.6" y="62" width="48.7" height="54" fill="url(#v2glass)"/>
<ellipse cx="715" cy="66.6" rx="23.5" ry="3.6" fill="#a06064"/>
<path d="M692,66 Q715,61.6 738.3,66" stroke="#e0a0a0" stroke-width="1.3" fill="none"/>
<path d="M694,69.6 Q715,72 736,69.6" stroke="#c88080" stroke-width="1" fill="none"/>
<rect x="702" y="72.5" width="3.6" height="41" fill="url(#v2hl)"/>
<rect x="721" y="72.5" width="3.8" height="41" fill="url(#v2hl)"/>
<rect x="688" y="114.2" width="51.9" height="62.3" fill="url(#v2liq)"/>
</g>
<defs><linearGradient id="arrg" gradientUnits="userSpaceOnUse" x1="296" y1="0" x2="740" y2="0">
<stop offset="0" stop-color="#cdc02a"/><stop offset="0.12" stop-color="#c8a830"/><stop offset="0.3" stop-color="#cc7840"/>
<stop offset="0.5" stop-color="#e04870"/><stop offset="0.7" stop-color="#f81848"/><stop offset="1" stop-color="#ff0020"/></linearGradient></defs>
<path d="M296.4,218.6 C296.52,220.3 296.53,225.48 297.1,228.8 C297.67,232.12 298.48,235.37 299.8,238.5 C301.12,241.63 302.88,244.72 305,247.6 C307.12,250.48 309.73,253.05 312.5,255.8 C315.27,258.55 318.47,261.58 321.6,264.1 C324.73,266.62 327.8,268.77 331.3,270.9 C334.8,273.03 338.83,275.03 342.6,276.9 C346.37,278.77 349.52,280.1 353.9,282.1 C358.28,284.1 363.5,286.58 368.9,288.9 C374.3,291.22 379.02,293.82 386.3,296 C393.58,298.18 403.83,300.35 412.6,302 C421.37,303.65 430.13,304.82 438.9,305.9 C447.67,306.98 455.02,307.68 465.2,308.5 C475.38,309.32 489.82,310.52 500,310.8 C510.18,311.08 517.53,310.52 526.3,310.2 C535.07,309.88 543.83,309.62 552.6,308.9 C561.37,308.18 570.13,307.17 578.9,305.9 C587.67,304.63 596.43,302.95 605.2,301.3 C613.97,299.65 623.82,297.83 631.5,296 C639.18,294.17 644.88,292.37 651.3,290.3 C657.72,288.23 663.12,286.38 670,283.6 C676.88,280.82 686.33,276.95 692.6,273.6 C698.87,270.25 703.62,266.68 707.6,263.5 C711.58,260.32 714.18,257.08 716.5,254.5 C718.82,251.92 719.75,250.1 721.5,248 C723.25,245.9 726.08,242.92 727,241.9 L739.4,241.9 L721.3,218.2 L690.6,241.9 L703.9,241.9 C703.42,242.58 702.08,244.57 701,246 C699.92,247.43 699.43,248.2 697.4,250.5 C695.37,252.8 692.73,256.72 688.8,259.8 C684.87,262.88 679.43,265.83 673.8,269 C668.17,272.17 660.63,275.92 655,278.8 C649.37,281.68 643.92,284.42 640,286.3 C636.08,288.18 637.3,288.27 631.5,290.1 C625.7,291.93 613.97,295.17 605.2,297.3 C596.43,299.43 587.67,301.37 578.9,302.9 C570.13,304.43 561.37,305.6 552.6,306.5 C543.83,307.4 535.07,307.9 526.3,308.3 C517.53,308.7 510.18,309.3 500,308.9 C489.82,308.5 475.38,307.05 465.2,305.9 C455.02,304.75 447.67,303.65 438.9,302 C430.13,300.35 421.37,298.42 412.6,296 C403.83,293.58 393.47,290.57 386.3,287.5 C379.13,284.43 374.63,280.62 369.6,277.6 C364.57,274.58 360.1,272.03 356.1,269.4 C352.1,266.77 348.85,264.32 345.6,261.8 C342.35,259.28 339.35,256.92 336.6,254.3 C333.85,251.68 331.23,248.85 329.1,246.1 C326.97,243.35 325.18,240.68 323.8,237.8 C322.42,234.92 321.48,232 320.8,228.8 C320.12,225.6 319.88,220.3 319.7,218.6 Z" fill="url(#arrg)" stroke="#ff30d8" stroke-width="1.6" stroke-linejoin="miter"/>
<text transform="translate(14.27,130.38) scale(0.9625,1)" font-family='"Liberation Sans", sans-serif' font-size="42.364" fill="#000" >a</text>
<text transform="translate(432.72,279.78) scale(1.0141,1)" font-family='"Liberation Sans", sans-serif' font-size="35.829" fill="#000" >(<tspan fill="#15b0ea">RIR &amp; RIV</tspan>)</text>
<text transform="translate(284.3,349.27) scale(1.0488,1)" font-family='"Liberation Sans", sans-serif' font-size="34.439" fill="#000" >Aggregation-Induced Emission</text>
<text transform="translate(488.47,390.59) scale(1.0531,1)" font-family='"Liberation Sans", sans-serif' font-size="35.294" fill="#000" >(<tspan fill="#15b0ea">AIE</tspan>)</text>
</svg>
</body></html>
